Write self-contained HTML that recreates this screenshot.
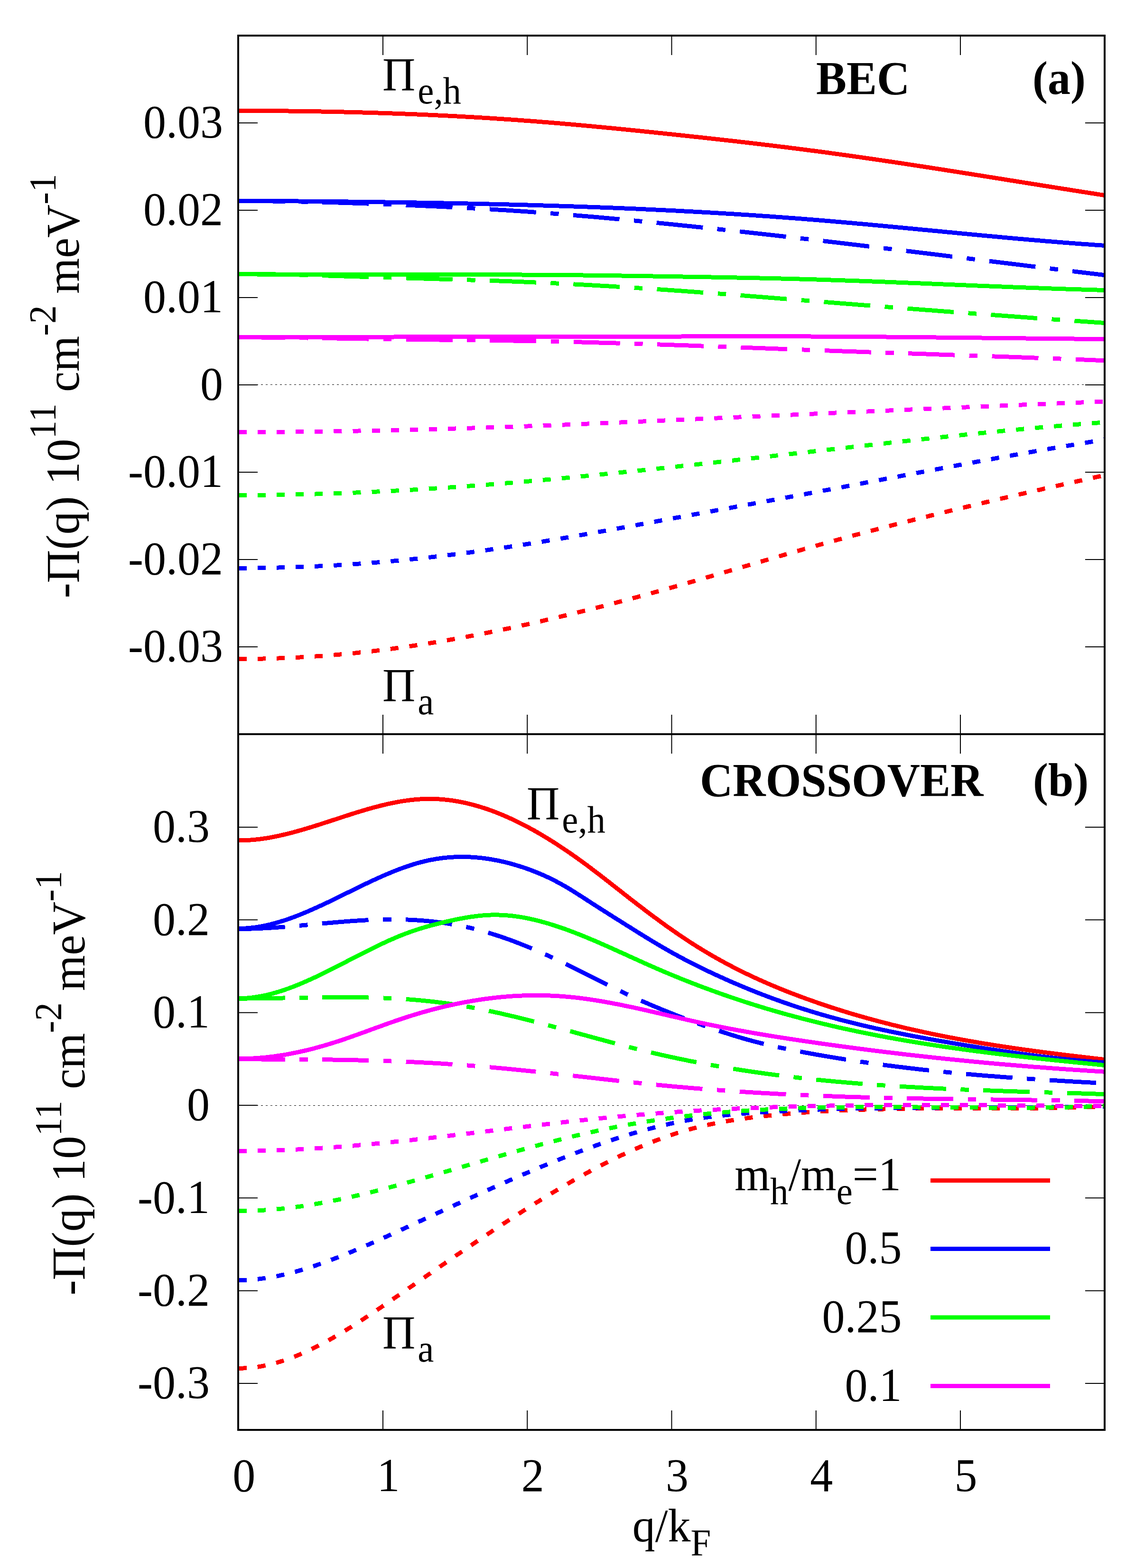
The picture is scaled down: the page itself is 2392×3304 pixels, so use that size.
<!DOCTYPE html>
<html><head><meta charset="utf-8"><style>
html,body{margin:0;padding:0;background:#fff;}
svg{display:block;}
</style></head><body>
<svg width="2392" height="3304" viewBox="0 0 2392 3304">
<rect width="2392" height="3304" fill="#ffffff"/>
<g fill="none" stroke-width="1" stroke="#000">
<path d="M504,810.5H2326M504,2329.5H2326" stroke-dasharray="4 6" stroke-dashoffset="-6"/>
</g>
<path d="M807.00,75V116M807.00,1547V1506M1111.25,75V116M1111.25,1547V1506M1415.50,75V116M1415.50,1547V1506M1719.75,75V116M1719.75,1547V1506M2024.00,75V116M2024.00,1547V1506M807.00,1547V1588M807.00,3013V2972M1111.25,1547V1588M1111.25,3013V2972M1415.50,1547V1588M1415.50,3013V2972M1719.75,1547V1588M1719.75,3013V2972M2024.00,1547V1588M2024.00,3013V2972M502,1363.00H543M2328,1363.00H2287M502,1179.00H543M2328,1179.00H2287M502,995.00H543M2328,995.00H2287M502,811.00H543M2328,811.00H2287M502,627.00H543M2328,627.00H2287M502,443.00H543M2328,443.00H2287M502,259.00H543M2328,259.00H2287M502,2915.00H543M2328,2915.00H2287M502,2719.67H543M2328,2719.67H2287M502,2524.33H543M2328,2524.33H2287M502,2329.00H543M2328,2329.00H2287M502,2133.67H543M2328,2133.67H2287M502,1938.33H543M2328,1938.33H2287M502,1743.00H543M2328,1743.00H2287" stroke-width="2" stroke="#000" fill="none"/>
<g fill="none" stroke-width="9" stroke-linecap="butt" stroke-linejoin="round" shape-rendering="crispEdges">
<path d="M502.8,233.4 505.8,233.4 508.8,233.4 511.8,233.4 514.8,233.4 517.8,233.4 520.8,233.4 523.8,233.4 526.8,233.4 529.8,233.4 532.8,233.4 535.8,233.5 538.8,233.5 541.8,233.5 544.8,233.5 547.8,233.5 550.8,233.5 553.8,233.5 556.8,233.5 559.8,233.6 562.8,233.6 565.8,233.6 568.8,233.6 571.8,233.6 574.8,233.7 577.8,233.7 580.8,233.7 583.8,233.7 586.8,233.8 589.8,233.8 592.8,233.8 595.8,233.8 598.8,233.9 601.8,233.9 604.8,233.9 607.8,234.0 610.8,234.0 613.8,234.0 616.8,234.1 619.8,234.1 622.8,234.1 625.8,234.2 628.8,234.2 631.8,234.3 634.8,234.3 637.8,234.3 640.8,234.4 643.8,234.4 646.8,234.5 649.8,234.5 652.8,234.6 655.8,234.6 658.8,234.7 661.8,234.7 664.8,234.8 667.8,234.8 670.8,234.9 673.8,234.9 676.8,235.0 679.8,235.0 682.8,235.1 685.8,235.1 688.8,235.2 691.8,235.2 694.8,235.3 697.8,235.4 700.8,235.4 703.8,235.5 706.8,235.6 709.8,235.6 712.8,235.7 715.8,235.8 718.8,235.8 721.8,235.9 724.8,236.0 727.8,236.0 730.8,236.1 733.8,236.2 736.8,236.3 739.8,236.3 742.8,236.4 745.8,236.5 748.8,236.6 751.8,236.6 754.8,236.7 757.8,236.8 760.8,236.9 763.8,237.0 766.8,237.1 769.8,237.1 772.8,237.2 775.8,237.3 778.8,237.4 781.8,237.5 784.8,237.6 787.8,237.7 790.8,237.8 793.8,237.9 796.8,238.0 799.8,238.1 802.8,238.2 805.8,238.3 808.8,238.4 811.8,238.5 814.8,238.6 817.8,238.7 820.8,238.8 823.8,238.9 826.8,239.0 829.8,239.1 832.8,239.2 835.8,239.3 838.8,239.4 841.8,239.5 844.8,239.6 847.8,239.8 850.8,239.9 853.8,240.0 856.8,240.1 859.8,240.2 862.8,240.3 865.8,240.5 868.8,240.6 871.8,240.7 874.8,240.8 877.8,240.9 880.8,241.1 883.8,241.2 886.8,241.3 889.8,241.5 892.8,241.6 895.8,241.7 898.8,241.9 901.8,242.0 904.8,242.1 907.8,242.3 910.8,242.4 913.8,242.5 916.8,242.7 919.8,242.8 922.8,243.0 925.8,243.1 928.8,243.3 931.8,243.4 934.8,243.5 937.8,243.7 940.8,243.8 943.8,244.0 946.8,244.2 949.8,244.3 952.8,244.5 955.8,244.6 958.8,244.8 961.8,244.9 964.8,245.1 967.8,245.3 970.8,245.4 973.8,245.6 976.8,245.7 979.8,245.9 982.8,246.1 985.8,246.2 988.8,246.4 991.8,246.6 994.8,246.8 997.8,246.9 1000.8,247.1 1003.8,247.3 1006.8,247.5 1009.8,247.6 1012.8,247.8 1015.8,248.0 1018.8,248.2 1021.8,248.4 1024.8,248.6 1027.8,248.7 1030.8,248.9 1033.8,249.1 1036.8,249.3 1039.8,249.5 1042.8,249.7 1045.8,249.9 1048.8,250.1 1051.8,250.3 1054.8,250.5 1057.8,250.7 1060.8,250.9 1063.8,251.1 1066.8,251.3 1069.8,251.5 1072.8,251.7 1075.8,251.9 1078.8,252.1 1081.8,252.3 1084.8,252.6 1087.8,252.8 1090.8,253.0 1093.8,253.2 1096.8,253.4 1099.8,253.6 1102.8,253.9 1105.8,254.1 1108.8,254.3 1111.8,254.5 1114.8,254.8 1117.8,255.0 1120.8,255.2 1123.8,255.5 1126.8,255.7 1129.8,255.9 1132.8,256.2 1135.8,256.4 1138.8,256.6 1141.8,256.9 1144.8,257.1 1147.8,257.4 1150.8,257.6 1153.8,257.8 1156.8,258.1 1159.8,258.3 1162.8,258.6 1165.8,258.8 1168.8,259.1 1171.8,259.3 1174.8,259.6 1177.8,259.8 1180.8,260.1 1183.8,260.4 1186.8,260.6 1189.8,260.9 1192.8,261.1 1195.8,261.4 1198.8,261.7 1201.8,261.9 1204.8,262.2 1207.8,262.5 1210.8,262.7 1213.8,263.0 1216.8,263.3 1219.8,263.5 1222.8,263.8 1225.8,264.1 1228.8,264.4 1231.8,264.6 1234.8,264.9 1237.8,265.2 1240.8,265.5 1243.8,265.7 1246.8,266.0 1249.8,266.3 1252.8,266.6 1255.8,266.9 1258.8,267.2 1261.8,267.4 1264.8,267.7 1267.8,268.0 1270.8,268.3 1273.8,268.6 1276.8,268.9 1279.8,269.2 1282.8,269.5 1285.8,269.7 1288.8,270.0 1291.8,270.3 1294.8,270.6 1297.8,270.9 1300.8,271.2 1303.8,271.5 1306.8,271.8 1309.8,272.1 1312.8,272.4 1315.8,272.7 1318.8,273.0 1321.8,273.3 1324.8,273.6 1327.8,273.9 1330.8,274.2 1333.8,274.5 1336.8,274.8 1339.8,275.1 1342.8,275.4 1345.8,275.7 1348.8,276.0 1351.8,276.3 1354.8,276.7 1357.8,277.0 1360.8,277.3 1363.8,277.6 1366.8,277.9 1369.8,278.2 1372.8,278.5 1375.8,278.8 1378.8,279.1 1381.8,279.5 1384.8,279.8 1387.8,280.1 1390.8,280.4 1393.8,280.7 1396.8,281.0 1399.8,281.3 1402.8,281.7 1405.8,282.0 1408.8,282.3 1411.8,282.6 1414.8,282.9 1417.8,283.2 1420.8,283.6 1423.8,283.9 1426.8,284.2 1429.8,284.5 1432.8,284.8 1435.8,285.2 1438.8,285.5 1441.8,285.8 1444.8,286.1 1447.8,286.4 1450.8,286.8 1453.8,287.1 1456.8,287.4 1459.8,287.7 1462.8,288.1 1465.8,288.4 1468.8,288.7 1471.8,289.0 1474.8,289.4 1477.8,289.7 1480.8,290.0 1483.8,290.3 1486.8,290.7 1489.8,291.0 1492.8,291.3 1495.8,291.7 1498.8,292.0 1501.8,292.3 1504.8,292.6 1507.8,293.0 1510.8,293.3 1513.8,293.6 1516.8,294.0 1519.8,294.3 1522.8,294.7 1525.8,295.0 1528.8,295.3 1531.8,295.7 1534.8,296.0 1537.8,296.3 1540.8,296.7 1543.8,297.0 1546.8,297.4 1549.8,297.7 1552.8,298.0 1555.8,298.4 1558.8,298.7 1561.8,299.1 1564.8,299.4 1567.8,299.8 1570.8,300.1 1573.8,300.5 1576.8,300.8 1579.8,301.2 1582.8,301.5 1585.8,301.9 1588.8,302.2 1591.8,302.6 1594.8,302.9 1597.8,303.3 1600.8,303.6 1603.8,304.0 1606.8,304.3 1609.8,304.7 1612.8,305.1 1615.8,305.4 1618.8,305.8 1621.8,306.1 1624.8,306.5 1627.8,306.9 1630.8,307.2 1633.8,307.6 1636.8,308.0 1639.8,308.3 1642.8,308.7 1645.8,309.1 1648.8,309.4 1651.8,309.8 1654.8,310.2 1657.8,310.6 1660.8,310.9 1663.8,311.3 1666.8,311.7 1669.8,312.1 1672.8,312.4 1675.8,312.8 1678.8,313.2 1681.8,313.6 1684.8,314.0 1687.8,314.3 1690.8,314.7 1693.8,315.1 1696.8,315.5 1699.8,315.9 1702.8,316.3 1705.8,316.7 1708.8,317.1 1711.8,317.4 1714.8,317.8 1717.8,318.2 1720.8,318.6 1723.8,319.0 1726.8,319.4 1729.8,319.8 1732.8,320.2 1735.8,320.6 1738.8,321.0 1741.8,321.4 1744.8,321.8 1747.8,322.2 1750.8,322.7 1753.8,323.1 1756.8,323.5 1759.8,323.9 1762.8,324.3 1765.8,324.7 1768.8,325.1 1771.8,325.5 1774.8,326.0 1777.8,326.4 1780.8,326.8 1783.8,327.2 1786.8,327.6 1789.8,328.0 1792.8,328.5 1795.8,328.9 1798.8,329.3 1801.8,329.7 1804.8,330.2 1807.8,330.6 1810.8,331.0 1813.8,331.4 1816.8,331.9 1819.8,332.3 1822.8,332.7 1825.8,333.2 1828.8,333.6 1831.8,334.0 1834.8,334.5 1837.8,334.9 1840.8,335.3 1843.8,335.8 1846.8,336.2 1849.8,336.7 1852.8,337.1 1855.8,337.5 1858.8,338.0 1861.8,338.4 1864.8,338.9 1867.8,339.3 1870.8,339.8 1873.8,340.2 1876.8,340.6 1879.8,341.1 1882.8,341.5 1885.8,342.0 1888.8,342.4 1891.8,342.9 1894.8,343.3 1897.8,343.8 1900.8,344.2 1903.8,344.7 1906.8,345.1 1909.8,345.6 1912.8,346.1 1915.8,346.5 1918.8,347.0 1921.8,347.4 1924.8,347.9 1927.8,348.3 1930.8,348.8 1933.8,349.3 1936.8,349.7 1939.8,350.2 1942.8,350.6 1945.8,351.1 1948.8,351.6 1951.8,352.0 1954.8,352.5 1957.8,352.9 1960.8,353.4 1963.8,353.9 1966.8,354.3 1969.8,354.8 1972.8,355.3 1975.8,355.7 1978.8,356.2 1981.8,356.7 1984.8,357.1 1987.8,357.6 1990.8,358.1 1993.8,358.5 1996.8,359.0 1999.8,359.5 2002.8,360.0 2005.8,360.4 2008.8,360.9 2011.8,361.4 2014.8,361.8 2017.8,362.3 2020.8,362.8 2023.8,363.3 2026.8,363.7 2029.8,364.2 2032.8,364.7 2035.8,365.2 2038.8,365.6 2041.8,366.1 2044.8,366.6 2047.8,367.1 2050.8,367.5 2053.8,368.0 2056.8,368.5 2059.8,369.0 2062.8,369.4 2065.8,369.9 2068.8,370.4 2071.8,370.9 2074.8,371.3 2077.8,371.8 2080.8,372.3 2083.8,372.8 2086.8,373.3 2089.8,373.7 2092.8,374.2 2095.8,374.7 2098.8,375.2 2101.8,375.7 2104.8,376.1 2107.8,376.6 2110.8,377.1 2113.8,377.6 2116.8,378.1 2119.8,378.5 2122.8,379.0 2125.8,379.5 2128.8,380.0 2131.8,380.5 2134.8,380.9 2137.8,381.4 2140.8,381.9 2143.8,382.4 2146.8,382.9 2149.8,383.3 2152.8,383.8 2155.8,384.3 2158.8,384.8 2161.8,385.3 2164.8,385.7 2167.8,386.2 2170.8,386.7 2173.8,387.2 2176.8,387.7 2179.8,388.1 2182.8,388.6 2185.8,389.1 2188.8,389.6 2191.8,390.0 2194.8,390.5 2197.8,391.0 2200.8,391.5 2203.8,392.0 2206.8,392.4 2209.8,392.9 2212.8,393.4 2215.8,393.9 2218.8,394.4 2221.8,394.8 2224.8,395.3 2227.8,395.8 2230.8,396.3 2233.8,396.7 2236.8,397.2 2239.8,397.7 2242.8,398.2 2245.8,398.6 2248.8,399.1 2251.8,399.6 2254.8,400.1 2257.8,400.5 2260.8,401.0 2263.8,401.5 2266.8,402.0 2269.8,402.4 2272.8,402.9 2275.8,403.4 2278.8,403.9 2281.8,404.3 2284.8,404.8 2287.8,405.3 2290.8,405.7 2293.8,406.2 2296.8,406.7 2299.8,407.2 2302.8,407.6 2305.8,408.1 2308.8,408.6 2311.8,409.0 2314.8,409.5 2317.8,410.0 2320.8,410.4 2323.8,410.9 2326.8,411.4 2328.2,411.6" stroke="#ff0000"/>
<path d="M502.8,1388.5 505.8,1388.5 508.8,1388.5 511.8,1388.5 514.8,1388.5 517.8,1388.5 520.8,1388.4 523.8,1388.4 526.8,1388.4 529.8,1388.3 532.8,1388.3 535.8,1388.3 538.8,1388.2 541.8,1388.2 544.8,1388.1 547.8,1388.1 550.8,1388.0 553.8,1388.0 556.8,1387.9 559.8,1387.8 562.8,1387.7 565.8,1387.7 568.8,1387.6 571.8,1387.5 574.8,1387.4 577.8,1387.3 580.8,1387.2 583.8,1387.1 586.8,1387.0 589.8,1386.9 592.8,1386.8 595.8,1386.7 598.8,1386.6 601.8,1386.5 604.8,1386.3 607.8,1386.2 610.8,1386.1 613.8,1385.9 616.8,1385.8 619.8,1385.6 622.8,1385.5 625.8,1385.3 628.8,1385.2 631.8,1385.0 634.8,1384.9 637.8,1384.7 640.8,1384.5 643.8,1384.4 646.8,1384.2 649.8,1384.0 652.8,1383.8 655.8,1383.6 658.8,1383.4 661.8,1383.2 664.8,1383.0 667.8,1382.8 670.8,1382.6 673.8,1382.4 676.8,1382.2 679.8,1382.0 682.8,1381.8 685.8,1381.5 688.8,1381.3 691.8,1381.1 694.8,1380.8 697.8,1380.6 700.8,1380.4 703.8,1380.1 706.8,1379.9 709.8,1379.6 712.8,1379.3 715.8,1379.1 718.8,1378.8 721.8,1378.6 724.8,1378.3 727.8,1378.0 730.8,1377.7 733.8,1377.4 736.8,1377.2 739.8,1376.9 742.8,1376.6 745.8,1376.3 748.8,1376.0 751.8,1375.7 754.8,1375.4 757.8,1375.0 760.8,1374.7 763.8,1374.4 766.8,1374.1 769.8,1373.8 772.8,1373.4 775.8,1373.1 778.8,1372.8 781.8,1372.4 784.8,1372.1 787.8,1371.7 790.8,1371.4 793.8,1371.0 796.8,1370.7 799.8,1370.3 802.8,1369.9 805.8,1369.6 808.8,1369.2 811.8,1368.8 814.8,1368.4 817.8,1368.0 820.8,1367.7 823.8,1367.3 826.8,1366.9 829.8,1366.5 832.8,1366.1 835.8,1365.7 838.8,1365.3 841.8,1364.8 844.8,1364.4 847.8,1364.0 850.8,1363.6 853.8,1363.2 856.8,1362.7 859.8,1362.3 862.8,1361.9 865.8,1361.4 868.8,1361.0 871.8,1360.5 874.8,1360.1 877.8,1359.6 880.8,1359.2 883.8,1358.7 886.8,1358.3 889.8,1357.8 892.8,1357.3 895.8,1356.9 898.8,1356.4 901.8,1355.9 904.8,1355.4 907.8,1354.9 910.8,1354.4 913.8,1354.0 916.8,1353.5 919.8,1353.0 922.8,1352.5 925.8,1352.0 928.8,1351.5 931.8,1351.0 934.8,1350.4 937.8,1349.9 940.8,1349.4 943.8,1348.9 946.8,1348.4 949.8,1347.8 952.8,1347.3 955.8,1346.8 958.8,1346.2 961.8,1345.7 964.8,1345.2 967.8,1344.6 970.8,1344.1 973.8,1343.5 976.8,1343.0 979.8,1342.4 982.8,1341.9 985.8,1341.3 988.8,1340.7 991.8,1340.2 994.8,1339.6 997.8,1339.0 1000.8,1338.4 1003.8,1337.9 1006.8,1337.3 1009.8,1336.7 1012.8,1336.1 1015.8,1335.5 1018.8,1334.9 1021.8,1334.3 1024.8,1333.8 1027.8,1333.2 1030.8,1332.6 1033.8,1331.9 1036.8,1331.3 1039.8,1330.7 1042.8,1330.1 1045.8,1329.5 1048.8,1328.9 1051.8,1328.3 1054.8,1327.6 1057.8,1327.0 1060.8,1326.4 1063.8,1325.8 1066.8,1325.1 1069.8,1324.5 1072.8,1323.9 1075.8,1323.2 1078.8,1322.6 1081.8,1321.9 1084.8,1321.3 1087.8,1320.7 1090.8,1320.0 1093.8,1319.4 1096.8,1318.7 1099.8,1318.0 1102.8,1317.4 1105.8,1316.7 1108.8,1316.1 1111.8,1315.4 1114.8,1314.7 1117.8,1314.1 1120.8,1313.4 1123.8,1312.7 1126.8,1312.0 1129.8,1311.3 1132.8,1310.7 1135.8,1310.0 1138.8,1309.3 1141.8,1308.6 1144.8,1307.9 1147.8,1307.2 1150.8,1306.5 1153.8,1305.8 1156.8,1305.1 1159.8,1304.4 1162.8,1303.7 1165.8,1303.0 1168.8,1302.3 1171.8,1301.6 1174.8,1300.9 1177.8,1300.2 1180.8,1299.5 1183.8,1298.8 1186.8,1298.0 1189.8,1297.3 1192.8,1296.6 1195.8,1295.9 1198.8,1295.1 1201.8,1294.4 1204.8,1293.7 1207.8,1293.0 1210.8,1292.2 1213.8,1291.5 1216.8,1290.7 1219.8,1290.0 1222.8,1289.3 1225.8,1288.5 1228.8,1287.8 1231.8,1287.0 1234.8,1286.3 1237.8,1285.5 1240.8,1284.8 1243.8,1284.0 1246.8,1283.3 1249.8,1282.5 1252.8,1281.7 1255.8,1281.0 1258.8,1280.2 1261.8,1279.4 1264.8,1278.7 1267.8,1277.9 1270.8,1277.1 1273.8,1276.4 1276.8,1275.6 1279.8,1274.8 1282.8,1274.0 1285.8,1273.3 1288.8,1272.5 1291.8,1271.7 1294.8,1270.9 1297.8,1270.1 1300.8,1269.3 1303.8,1268.5 1306.8,1267.7 1309.8,1267.0 1312.8,1266.2 1315.8,1265.4 1318.8,1264.6 1321.8,1263.8 1324.8,1263.0 1327.8,1262.2 1330.8,1261.4 1333.8,1260.5 1336.8,1259.7 1339.8,1258.9 1342.8,1258.1 1345.8,1257.3 1348.8,1256.5 1351.8,1255.7 1354.8,1254.9 1357.8,1254.0 1360.8,1253.2 1363.8,1252.4 1366.8,1251.6 1369.8,1250.8 1372.8,1249.9 1375.8,1249.1 1378.8,1248.3 1381.8,1247.4 1384.8,1246.6 1387.8,1245.8 1390.8,1244.9 1393.8,1244.1 1396.8,1243.3 1399.8,1242.4 1402.8,1241.6 1405.8,1240.7 1408.8,1239.9 1411.8,1239.1 1414.8,1238.2 1417.8,1237.4 1420.8,1236.5 1423.8,1235.7 1426.8,1234.8 1429.8,1234.0 1432.8,1233.1 1435.8,1232.3 1438.8,1231.4 1441.8,1230.5 1444.8,1229.7 1447.8,1228.8 1450.8,1228.0 1453.8,1227.1 1456.8,1226.2 1459.8,1225.4 1462.8,1224.5 1465.8,1223.6 1468.8,1222.8 1471.8,1221.9 1474.8,1221.0 1477.8,1220.2 1480.8,1219.3 1483.8,1218.4 1486.8,1217.6 1489.8,1216.7 1492.8,1215.8 1495.8,1215.0 1498.8,1214.1 1501.8,1213.2 1504.8,1212.3 1507.8,1211.5 1510.8,1210.6 1513.8,1209.7 1516.8,1208.8 1519.8,1208.0 1522.8,1207.1 1525.8,1206.2 1528.8,1205.3 1531.8,1204.4 1534.8,1203.6 1537.8,1202.7 1540.8,1201.8 1543.8,1200.9 1546.8,1200.1 1549.8,1199.2 1552.8,1198.3 1555.8,1197.4 1558.8,1196.5 1561.8,1195.7 1564.8,1194.8 1567.8,1193.9 1570.8,1193.0 1573.8,1192.1 1576.8,1191.3 1579.8,1190.4 1582.8,1189.5 1585.8,1188.6 1588.8,1187.7 1591.8,1186.9 1594.8,1186.0 1597.8,1185.1 1600.8,1184.2 1603.8,1183.4 1606.8,1182.5 1609.8,1181.6 1612.8,1180.7 1615.8,1179.9 1618.8,1179.0 1621.8,1178.1 1624.8,1177.2 1627.8,1176.4 1630.8,1175.5 1633.8,1174.6 1636.8,1173.7 1639.8,1172.9 1642.8,1172.0 1645.8,1171.1 1648.8,1170.3 1651.8,1169.4 1654.8,1168.5 1657.8,1167.7 1660.8,1166.8 1663.8,1165.9 1666.8,1165.1 1669.8,1164.2 1672.8,1163.3 1675.8,1162.5 1678.8,1161.6 1681.8,1160.8 1684.8,1159.9 1687.8,1159.1 1690.8,1158.2 1693.8,1157.3 1696.8,1156.5 1699.8,1155.6 1702.8,1154.8 1705.8,1153.9 1708.8,1153.1 1711.8,1152.2 1714.8,1151.4 1717.8,1150.6 1720.8,1149.7 1723.8,1148.9 1726.8,1148.0 1729.8,1147.2 1732.8,1146.4 1735.8,1145.5 1738.8,1144.7 1741.8,1143.9 1744.8,1143.0 1747.8,1142.2 1750.8,1141.4 1753.8,1140.6 1756.8,1139.7 1759.8,1138.9 1762.8,1138.1 1765.8,1137.3 1768.8,1136.4 1771.8,1135.6 1774.8,1134.8 1777.8,1134.0 1780.8,1133.2 1783.8,1132.4 1786.8,1131.6 1789.8,1130.7 1792.8,1129.9 1795.8,1129.1 1798.8,1128.3 1801.8,1127.5 1804.8,1126.7 1807.8,1125.9 1810.8,1125.1 1813.8,1124.3 1816.8,1123.5 1819.8,1122.7 1822.8,1121.9 1825.8,1121.1 1828.8,1120.3 1831.8,1119.5 1834.8,1118.7 1837.8,1118.0 1840.8,1117.2 1843.8,1116.4 1846.8,1115.6 1849.8,1114.8 1852.8,1114.0 1855.8,1113.2 1858.8,1112.5 1861.8,1111.7 1864.8,1110.9 1867.8,1110.1 1870.8,1109.3 1873.8,1108.6 1876.8,1107.8 1879.8,1107.0 1882.8,1106.3 1885.8,1105.5 1888.8,1104.7 1891.8,1103.9 1894.8,1103.2 1897.8,1102.4 1900.8,1101.6 1903.8,1100.9 1906.8,1100.1 1909.8,1099.4 1912.8,1098.6 1915.8,1097.8 1918.8,1097.1 1921.8,1096.3 1924.8,1095.6 1927.8,1094.8 1930.8,1094.1 1933.8,1093.3 1936.8,1092.5 1939.8,1091.8 1942.8,1091.0 1945.8,1090.3 1948.8,1089.5 1951.8,1088.8 1954.8,1088.1 1957.8,1087.3 1960.8,1086.6 1963.8,1085.8 1966.8,1085.1 1969.8,1084.3 1972.8,1083.6 1975.8,1082.9 1978.8,1082.1 1981.8,1081.4 1984.8,1080.6 1987.8,1079.9 1990.8,1079.2 1993.8,1078.4 1996.8,1077.7 1999.8,1077.0 2002.8,1076.2 2005.8,1075.5 2008.8,1074.8 2011.8,1074.1 2014.8,1073.3 2017.8,1072.6 2020.8,1071.9 2023.8,1071.2 2026.8,1070.4 2029.8,1069.7 2032.8,1069.0 2035.8,1068.3 2038.8,1067.6 2041.8,1066.8 2044.8,1066.1 2047.8,1065.4 2050.8,1064.7 2053.8,1064.0 2056.8,1063.3 2059.8,1062.5 2062.8,1061.8 2065.8,1061.1 2068.8,1060.4 2071.8,1059.7 2074.8,1059.0 2077.8,1058.3 2080.8,1057.6 2083.8,1056.9 2086.8,1056.1 2089.8,1055.4 2092.8,1054.7 2095.8,1054.0 2098.8,1053.3 2101.8,1052.6 2104.8,1051.9 2107.8,1051.2 2110.8,1050.5 2113.8,1049.8 2116.8,1049.1 2119.8,1048.4 2122.8,1047.7 2125.8,1047.0 2128.8,1046.3 2131.8,1045.6 2134.8,1044.9 2137.8,1044.2 2140.8,1043.6 2143.8,1042.9 2146.8,1042.2 2149.8,1041.5 2152.8,1040.8 2155.8,1040.1 2158.8,1039.4 2161.8,1038.7 2164.8,1038.0 2167.8,1037.3 2170.8,1036.6 2173.8,1036.0 2176.8,1035.3 2179.8,1034.6 2182.8,1033.9 2185.8,1033.2 2188.8,1032.5 2191.8,1031.9 2194.8,1031.2 2197.8,1030.5 2200.8,1029.8 2203.8,1029.1 2206.8,1028.4 2209.8,1027.8 2212.8,1027.1 2215.8,1026.4 2218.8,1025.7 2221.8,1025.1 2224.8,1024.4 2227.8,1023.7 2230.8,1023.0 2233.8,1022.4 2236.8,1021.7 2239.8,1021.0 2242.8,1020.3 2245.8,1019.7 2248.8,1019.0 2251.8,1018.3 2254.8,1017.6 2257.8,1017.0 2260.8,1016.3 2263.8,1015.6 2266.8,1015.0 2269.8,1014.3 2272.8,1013.6 2275.8,1012.9 2278.8,1012.3 2281.8,1011.6 2284.8,1010.9 2287.8,1010.3 2290.8,1009.6 2293.8,1008.9 2296.8,1008.3 2299.8,1007.6 2302.8,1006.9 2305.8,1006.3 2308.8,1005.6 2311.8,1004.9 2314.8,1004.3 2317.8,1003.6 2320.8,1003.0 2323.8,1002.3 2326.8,1001.6 2328.2,1001.3" stroke="#ff0000" stroke-dasharray="17 23.13"/>
<path d="M502.8,423.5 505.8,423.5 508.8,423.5 511.8,423.5 514.8,423.5 517.8,423.5 520.8,423.5 523.8,423.5 526.8,423.5 529.8,423.5 532.8,423.5 535.8,423.5 538.8,423.5 541.8,423.5 544.8,423.6 547.8,423.6 550.8,423.6 553.8,423.6 556.8,423.6 559.8,423.6 562.8,423.6 565.8,423.6 568.8,423.6 571.8,423.6 574.8,423.7 577.8,423.7 580.8,423.7 583.8,423.7 586.8,423.7 589.8,423.7 592.8,423.7 595.8,423.8 598.8,423.8 601.8,423.8 604.8,423.8 607.8,423.8 610.8,423.8 613.8,423.9 616.8,423.9 619.8,423.9 622.8,423.9 625.8,423.9 628.8,424.0 631.8,424.0 634.8,424.0 637.8,424.0 640.8,424.1 643.8,424.1 646.8,424.1 649.8,424.1 652.8,424.1 655.8,424.2 658.8,424.2 661.8,424.2 664.8,424.2 667.8,424.3 670.8,424.3 673.8,424.3 676.8,424.4 679.8,424.4 682.8,424.4 685.8,424.4 688.8,424.5 691.8,424.5 694.8,424.5 697.8,424.6 700.8,424.6 703.8,424.6 706.8,424.7 709.8,424.7 712.8,424.7 715.8,424.8 718.8,424.8 721.8,424.8 724.8,424.9 727.8,424.9 730.8,424.9 733.8,425.0 736.8,425.0 739.8,425.0 742.8,425.1 745.8,425.1 748.8,425.1 751.8,425.2 754.8,425.2 757.8,425.2 760.8,425.3 763.8,425.3 766.8,425.4 769.8,425.4 772.8,425.4 775.8,425.5 778.8,425.5 781.8,425.6 784.8,425.6 787.8,425.6 790.8,425.7 793.8,425.7 796.8,425.8 799.8,425.8 802.8,425.8 805.8,425.9 808.8,425.9 811.8,426.0 814.8,426.0 817.8,426.1 820.8,426.1 823.8,426.1 826.8,426.2 829.8,426.2 832.8,426.3 835.8,426.3 838.8,426.4 841.8,426.4 844.8,426.5 847.8,426.5 850.8,426.5 853.8,426.6 856.8,426.6 859.8,426.7 862.8,426.7 865.8,426.8 868.8,426.8 871.8,426.9 874.8,426.9 877.8,427.0 880.8,427.0 883.8,427.1 886.8,427.1 889.8,427.2 892.8,427.2 895.8,427.3 898.8,427.3 901.8,427.4 904.8,427.4 907.8,427.5 910.8,427.5 913.8,427.6 916.8,427.6 919.8,427.7 922.8,427.8 925.8,427.8 928.8,427.9 931.8,427.9 934.8,428.0 937.8,428.0 940.8,428.1 943.8,428.1 946.8,428.2 949.8,428.3 952.8,428.3 955.8,428.4 958.8,428.4 961.8,428.5 964.8,428.5 967.8,428.6 970.8,428.7 973.8,428.7 976.8,428.8 979.8,428.9 982.8,428.9 985.8,429.0 988.8,429.0 991.8,429.1 994.8,429.2 997.8,429.2 1000.8,429.3 1003.8,429.4 1006.8,429.4 1009.8,429.5 1012.8,429.6 1015.8,429.6 1018.8,429.7 1021.8,429.8 1024.8,429.8 1027.8,429.9 1030.8,430.0 1033.8,430.0 1036.8,430.1 1039.8,430.2 1042.8,430.2 1045.8,430.3 1048.8,430.4 1051.8,430.5 1054.8,430.5 1057.8,430.6 1060.8,430.7 1063.8,430.8 1066.8,430.8 1069.8,430.9 1072.8,431.0 1075.8,431.1 1078.8,431.1 1081.8,431.2 1084.8,431.3 1087.8,431.4 1090.8,431.4 1093.8,431.5 1096.8,431.6 1099.8,431.7 1102.8,431.8 1105.8,431.8 1108.8,431.9 1111.8,432.0 1114.8,432.1 1117.8,432.2 1120.8,432.3 1123.8,432.3 1126.8,432.4 1129.8,432.5 1132.8,432.6 1135.8,432.7 1138.8,432.8 1141.8,432.9 1144.8,433.0 1147.8,433.0 1150.8,433.1 1153.8,433.2 1156.8,433.3 1159.8,433.4 1162.8,433.5 1165.8,433.6 1168.8,433.7 1171.8,433.8 1174.8,433.9 1177.8,434.0 1180.8,434.1 1183.8,434.2 1186.8,434.3 1189.8,434.4 1192.8,434.5 1195.8,434.5 1198.8,434.6 1201.8,434.7 1204.8,434.8 1207.8,434.9 1210.8,435.1 1213.8,435.2 1216.8,435.3 1219.8,435.4 1222.8,435.5 1225.8,435.6 1228.8,435.7 1231.8,435.8 1234.8,435.9 1237.8,436.0 1240.8,436.1 1243.8,436.2 1246.8,436.3 1249.8,436.4 1252.8,436.5 1255.8,436.7 1258.8,436.8 1261.8,436.9 1264.8,437.0 1267.8,437.1 1270.8,437.2 1273.8,437.3 1276.8,437.4 1279.8,437.6 1282.8,437.7 1285.8,437.8 1288.8,437.9 1291.8,438.0 1294.8,438.2 1297.8,438.3 1300.8,438.4 1303.8,438.5 1306.8,438.6 1309.8,438.8 1312.8,438.9 1315.8,439.0 1318.8,439.1 1321.8,439.3 1324.8,439.4 1327.8,439.5 1330.8,439.7 1333.8,439.8 1336.8,439.9 1339.8,440.0 1342.8,440.2 1345.8,440.3 1348.8,440.4 1351.8,440.6 1354.8,440.7 1357.8,440.8 1360.8,441.0 1363.8,441.1 1366.8,441.3 1369.8,441.4 1372.8,441.5 1375.8,441.7 1378.8,441.8 1381.8,442.0 1384.8,442.1 1387.8,442.2 1390.8,442.4 1393.8,442.5 1396.8,442.7 1399.8,442.8 1402.8,443.0 1405.8,443.1 1408.8,443.3 1411.8,443.4 1414.8,443.6 1417.8,443.7 1420.8,443.9 1423.8,444.0 1426.8,444.2 1429.8,444.3 1432.8,444.5 1435.8,444.6 1438.8,444.8 1441.8,445.0 1444.8,445.1 1447.8,445.3 1450.8,445.4 1453.8,445.6 1456.8,445.8 1459.8,445.9 1462.8,446.1 1465.8,446.2 1468.8,446.4 1471.8,446.6 1474.8,446.7 1477.8,446.9 1480.8,447.1 1483.8,447.2 1486.8,447.4 1489.8,447.6 1492.8,447.8 1495.8,447.9 1498.8,448.1 1501.8,448.3 1504.8,448.5 1507.8,448.6 1510.8,448.8 1513.8,449.0 1516.8,449.2 1519.8,449.3 1522.8,449.5 1525.8,449.7 1528.8,449.9 1531.8,450.1 1534.8,450.3 1537.8,450.4 1540.8,450.6 1543.8,450.8 1546.8,451.0 1549.8,451.2 1552.8,451.4 1555.8,451.6 1558.8,451.8 1561.8,452.0 1564.8,452.2 1567.8,452.4 1570.8,452.5 1573.8,452.7 1576.8,452.9 1579.8,453.1 1582.8,453.3 1585.8,453.5 1588.8,453.7 1591.8,453.9 1594.8,454.1 1597.8,454.3 1600.8,454.6 1603.8,454.8 1606.8,455.0 1609.8,455.2 1612.8,455.4 1615.8,455.6 1618.8,455.8 1621.8,456.0 1624.8,456.2 1627.8,456.4 1630.8,456.7 1633.8,456.9 1636.8,457.1 1639.8,457.3 1642.8,457.5 1645.8,457.7 1648.8,458.0 1651.8,458.2 1654.8,458.4 1657.8,458.6 1660.8,458.9 1663.8,459.1 1666.8,459.3 1669.8,459.5 1672.8,459.8 1675.8,460.0 1678.8,460.2 1681.8,460.5 1684.8,460.7 1687.8,460.9 1690.8,461.2 1693.8,461.4 1696.8,461.6 1699.8,461.9 1702.8,462.1 1705.8,462.4 1708.8,462.6 1711.8,462.8 1714.8,463.1 1717.8,463.3 1720.8,463.6 1723.8,463.8 1726.8,464.1 1729.8,464.3 1732.8,464.6 1735.8,464.8 1738.8,465.1 1741.8,465.3 1744.8,465.6 1747.8,465.8 1750.8,466.1 1753.8,466.4 1756.8,466.6 1759.8,466.9 1762.8,467.1 1765.8,467.4 1768.8,467.7 1771.8,467.9 1774.8,468.2 1777.8,468.4 1780.8,468.7 1783.8,469.0 1786.8,469.2 1789.8,469.5 1792.8,469.8 1795.8,470.0 1798.8,470.3 1801.8,470.6 1804.8,470.9 1807.8,471.1 1810.8,471.4 1813.8,471.7 1816.8,471.9 1819.8,472.2 1822.8,472.5 1825.8,472.8 1828.8,473.0 1831.8,473.3 1834.8,473.6 1837.8,473.9 1840.8,474.2 1843.8,474.4 1846.8,474.7 1849.8,475.0 1852.8,475.3 1855.8,475.6 1858.8,475.8 1861.8,476.1 1864.8,476.4 1867.8,476.7 1870.8,477.0 1873.8,477.2 1876.8,477.5 1879.8,477.8 1882.8,478.1 1885.8,478.4 1888.8,478.7 1891.8,479.0 1894.8,479.2 1897.8,479.5 1900.8,479.8 1903.8,480.1 1906.8,480.4 1909.8,480.7 1912.8,481.0 1915.8,481.3 1918.8,481.5 1921.8,481.8 1924.8,482.1 1927.8,482.4 1930.8,482.7 1933.8,483.0 1936.8,483.3 1939.8,483.6 1942.8,483.9 1945.8,484.1 1948.8,484.4 1951.8,484.7 1954.8,485.0 1957.8,485.3 1960.8,485.6 1963.8,485.9 1966.8,486.2 1969.8,486.5 1972.8,486.8 1975.8,487.0 1978.8,487.3 1981.8,487.6 1984.8,487.9 1987.8,488.2 1990.8,488.5 1993.8,488.8 1996.8,489.1 1999.8,489.4 2002.8,489.7 2005.8,489.9 2008.8,490.2 2011.8,490.5 2014.8,490.8 2017.8,491.1 2020.8,491.4 2023.8,491.7 2026.8,492.0 2029.8,492.3 2032.8,492.5 2035.8,492.8 2038.8,493.1 2041.8,493.4 2044.8,493.7 2047.8,494.0 2050.8,494.3 2053.8,494.5 2056.8,494.8 2059.8,495.1 2062.8,495.4 2065.8,495.7 2068.8,496.0 2071.8,496.2 2074.8,496.5 2077.8,496.8 2080.8,497.1 2083.8,497.4 2086.8,497.6 2089.8,497.9 2092.8,498.2 2095.8,498.5 2098.8,498.8 2101.8,499.0 2104.8,499.3 2107.8,499.6 2110.8,499.9 2113.8,500.1 2116.8,500.4 2119.8,500.7 2122.8,501.0 2125.8,501.2 2128.8,501.5 2131.8,501.8 2134.8,502.1 2137.8,502.3 2140.8,502.6 2143.8,502.9 2146.8,503.1 2149.8,503.4 2152.8,503.7 2155.8,503.9 2158.8,504.2 2161.8,504.5 2164.8,504.7 2167.8,505.0 2170.8,505.2 2173.8,505.5 2176.8,505.8 2179.8,506.0 2182.8,506.3 2185.8,506.5 2188.8,506.8 2191.8,507.0 2194.8,507.3 2197.8,507.5 2200.8,507.8 2203.8,508.1 2206.8,508.3 2209.8,508.5 2212.8,508.8 2215.8,509.0 2218.8,509.3 2221.8,509.5 2224.8,509.8 2227.8,510.0 2230.8,510.3 2233.8,510.5 2236.8,510.7 2239.8,511.0 2242.8,511.2 2245.8,511.4 2248.8,511.7 2251.8,511.9 2254.8,512.1 2257.8,512.4 2260.8,512.6 2263.8,512.8 2266.8,513.1 2269.8,513.3 2272.8,513.5 2275.8,513.7 2278.8,514.0 2281.8,514.2 2284.8,514.4 2287.8,514.6 2290.8,514.8 2293.8,515.0 2296.8,515.3 2299.8,515.5 2302.8,515.7 2305.8,515.9 2308.8,516.1 2311.8,516.3 2314.8,516.5 2317.8,516.7 2320.8,516.9 2323.8,517.1 2326.8,517.3 2328.2,517.4" stroke="#0000ff"/>
<path d="M502.8,423.5 505.8,423.5 508.8,423.5 511.8,423.5 514.8,423.5 517.8,423.5 520.8,423.5 523.8,423.5 526.8,423.6 529.8,423.6 532.8,423.6 535.8,423.6 538.8,423.6 541.8,423.6 544.8,423.7 547.8,423.7 550.8,423.7 553.8,423.7 556.8,423.8 559.8,423.8 562.8,423.8 565.8,423.9 568.8,423.9 571.8,423.9 574.8,424.0 577.8,424.0 580.8,424.0 583.8,424.1 586.8,424.1 589.8,424.2 592.8,424.2 595.8,424.3 598.8,424.3 601.8,424.4 604.8,424.4 607.8,424.5 610.8,424.5 613.8,424.6 616.8,424.6 619.8,424.7 622.8,424.7 625.8,424.8 628.8,424.9 631.8,424.9 634.8,425.0 637.8,425.1 640.8,425.1 643.8,425.2 646.8,425.3 649.8,425.3 652.8,425.4 655.8,425.5 658.8,425.5 661.8,425.6 664.8,425.7 667.8,425.8 670.8,425.8 673.8,425.9 676.8,426.0 679.8,426.1 682.8,426.2 685.8,426.3 688.8,426.3 691.8,426.4 694.8,426.5 697.8,426.6 700.8,426.7 703.8,426.8 706.8,426.9 709.8,426.9 712.8,427.0 715.8,427.1 718.8,427.2 721.8,427.3 724.8,427.4 727.8,427.5 730.8,427.6 733.8,427.7 736.8,427.8 739.8,427.9 742.8,428.0 745.8,428.1 748.8,428.2 751.8,428.3 754.8,428.4 757.8,428.5 760.8,428.6 763.8,428.7 766.8,428.8 769.8,428.9 772.8,429.0 775.8,429.1 778.8,429.3 781.8,429.4 784.8,429.5 787.8,429.6 790.8,429.7 793.8,429.8 796.8,429.9 799.8,430.0 802.8,430.1 805.8,430.3 808.8,430.4 811.8,430.5 814.8,430.6 817.8,430.7 820.8,430.8 823.8,430.9 826.8,431.1 829.8,431.2 832.8,431.3 835.8,431.4 838.8,431.5 841.8,431.7 844.8,431.8 847.8,431.9 850.8,432.0 853.8,432.1 856.8,432.3 859.8,432.4 862.8,432.5 865.8,432.6 868.8,432.8 871.8,432.9 874.8,433.0 877.8,433.2 880.8,433.3 883.8,433.4 886.8,433.5 889.8,433.7 892.8,433.8 895.8,433.9 898.8,434.1 901.8,434.2 904.8,434.3 907.8,434.5 910.8,434.6 913.8,434.8 916.8,434.9 919.8,435.0 922.8,435.2 925.8,435.3 928.8,435.5 931.8,435.6 934.8,435.7 937.8,435.9 940.8,436.0 943.8,436.2 946.8,436.3 949.8,436.5 952.8,436.6 955.8,436.8 958.8,436.9 961.8,437.1 964.8,437.2 967.8,437.4 970.8,437.5 973.8,437.7 976.8,437.9 979.8,438.0 982.8,438.2 985.8,438.3 988.8,438.5 991.8,438.7 994.8,438.8 997.8,439.0 1000.8,439.1 1003.8,439.3 1006.8,439.5 1009.8,439.6 1012.8,439.8 1015.8,440.0 1018.8,440.2 1021.8,440.3 1024.8,440.5 1027.8,440.7 1030.8,440.8 1033.8,441.0 1036.8,441.2 1039.8,441.4 1042.8,441.6 1045.8,441.7 1048.8,441.9 1051.8,442.1 1054.8,442.3 1057.8,442.5 1060.8,442.7 1063.8,442.9 1066.8,443.0 1069.8,443.2 1072.8,443.4 1075.8,443.6 1078.8,443.8 1081.8,444.0 1084.8,444.2 1087.8,444.4 1090.8,444.6 1093.8,444.8 1096.8,445.0 1099.8,445.2 1102.8,445.4 1105.8,445.6 1108.8,445.8 1111.8,446.0 1114.8,446.2 1117.8,446.5 1120.8,446.7 1123.8,446.9 1126.8,447.1 1129.8,447.3 1132.8,447.5 1135.8,447.8 1138.8,448.0 1141.8,448.2 1144.8,448.4 1147.8,448.6 1150.8,448.9 1153.8,449.1 1156.8,449.3 1159.8,449.5 1162.8,449.8 1165.8,450.0 1168.8,450.2 1171.8,450.5 1174.8,450.7 1177.8,450.9 1180.8,451.2 1183.8,451.4 1186.8,451.7 1189.8,451.9 1192.8,452.1 1195.8,452.4 1198.8,452.6 1201.8,452.9 1204.8,453.1 1207.8,453.4 1210.8,453.6 1213.8,453.9 1216.8,454.1 1219.8,454.4 1222.8,454.6 1225.8,454.9 1228.8,455.1 1231.8,455.4 1234.8,455.6 1237.8,455.9 1240.8,456.2 1243.8,456.4 1246.8,456.7 1249.8,456.9 1252.8,457.2 1255.8,457.5 1258.8,457.7 1261.8,458.0 1264.8,458.3 1267.8,458.5 1270.8,458.8 1273.8,459.1 1276.8,459.3 1279.8,459.6 1282.8,459.9 1285.8,460.2 1288.8,460.4 1291.8,460.7 1294.8,461.0 1297.8,461.3 1300.8,461.5 1303.8,461.8 1306.8,462.1 1309.8,462.4 1312.8,462.7 1315.8,462.9 1318.8,463.2 1321.8,463.5 1324.8,463.8 1327.8,464.1 1330.8,464.4 1333.8,464.6 1336.8,464.9 1339.8,465.2 1342.8,465.5 1345.8,465.8 1348.8,466.1 1351.8,466.4 1354.8,466.7 1357.8,467.0 1360.8,467.2 1363.8,467.5 1366.8,467.8 1369.8,468.1 1372.8,468.4 1375.8,468.7 1378.8,469.0 1381.8,469.3 1384.8,469.6 1387.8,469.9 1390.8,470.2 1393.8,470.5 1396.8,470.8 1399.8,471.1 1402.8,471.4 1405.8,471.7 1408.8,472.0 1411.8,472.3 1414.8,472.6 1417.8,472.9 1420.8,473.2 1423.8,473.5 1426.8,473.8 1429.8,474.2 1432.8,474.5 1435.8,474.8 1438.8,475.1 1441.8,475.4 1444.8,475.7 1447.8,476.0 1450.8,476.3 1453.8,476.6 1456.8,476.9 1459.8,477.2 1462.8,477.6 1465.8,477.9 1468.8,478.2 1471.8,478.5 1474.8,478.8 1477.8,479.1 1480.8,479.4 1483.8,479.8 1486.8,480.1 1489.8,480.4 1492.8,480.7 1495.8,481.0 1498.8,481.3 1501.8,481.7 1504.8,482.0 1507.8,482.3 1510.8,482.6 1513.8,482.9 1516.8,483.3 1519.8,483.6 1522.8,483.9 1525.8,484.2 1528.8,484.5 1531.8,484.9 1534.8,485.2 1537.8,485.5 1540.8,485.8 1543.8,486.2 1546.8,486.5 1549.8,486.8 1552.8,487.1 1555.8,487.5 1558.8,487.8 1561.8,488.1 1564.8,488.5 1567.8,488.8 1570.8,489.1 1573.8,489.4 1576.8,489.8 1579.8,490.1 1582.8,490.4 1585.8,490.8 1588.8,491.1 1591.8,491.4 1594.8,491.8 1597.8,492.1 1600.8,492.4 1603.8,492.8 1606.8,493.1 1609.8,493.4 1612.8,493.8 1615.8,494.1 1618.8,494.4 1621.8,494.8 1624.8,495.1 1627.8,495.5 1630.8,495.8 1633.8,496.1 1636.8,496.5 1639.8,496.8 1642.8,497.2 1645.8,497.5 1648.8,497.8 1651.8,498.2 1654.8,498.5 1657.8,498.9 1660.8,499.2 1663.8,499.5 1666.8,499.9 1669.8,500.2 1672.8,500.6 1675.8,500.9 1678.8,501.3 1681.8,501.6 1684.8,501.9 1687.8,502.3 1690.8,502.6 1693.8,503.0 1696.8,503.3 1699.8,503.7 1702.8,504.0 1705.8,504.4 1708.8,504.7 1711.8,505.1 1714.8,505.4 1717.8,505.8 1720.8,506.1 1723.8,506.5 1726.8,506.8 1729.8,507.2 1732.8,507.5 1735.8,507.9 1738.8,508.2 1741.8,508.6 1744.8,508.9 1747.8,509.3 1750.8,509.6 1753.8,510.0 1756.8,510.3 1759.8,510.7 1762.8,511.0 1765.8,511.4 1768.8,511.8 1771.8,512.1 1774.8,512.5 1777.8,512.8 1780.8,513.2 1783.8,513.5 1786.8,513.9 1789.8,514.2 1792.8,514.6 1795.8,515.0 1798.8,515.3 1801.8,515.7 1804.8,516.0 1807.8,516.4 1810.8,516.7 1813.8,517.1 1816.8,517.5 1819.8,517.8 1822.8,518.2 1825.8,518.5 1828.8,518.9 1831.8,519.3 1834.8,519.6 1837.8,520.0 1840.8,520.3 1843.8,520.7 1846.8,521.1 1849.8,521.4 1852.8,521.8 1855.8,522.2 1858.8,522.5 1861.8,522.9 1864.8,523.2 1867.8,523.6 1870.8,524.0 1873.8,524.3 1876.8,524.7 1879.8,525.1 1882.8,525.4 1885.8,525.8 1888.8,526.2 1891.8,526.5 1894.8,526.9 1897.8,527.2 1900.8,527.6 1903.8,528.0 1906.8,528.3 1909.8,528.7 1912.8,529.1 1915.8,529.4 1918.8,529.8 1921.8,530.2 1924.8,530.5 1927.8,530.9 1930.8,531.3 1933.8,531.6 1936.8,532.0 1939.8,532.4 1942.8,532.7 1945.8,533.1 1948.8,533.5 1951.8,533.8 1954.8,534.2 1957.8,534.6 1960.8,534.9 1963.8,535.3 1966.8,535.7 1969.8,536.0 1972.8,536.4 1975.8,536.8 1978.8,537.1 1981.8,537.5 1984.8,537.9 1987.8,538.2 1990.8,538.6 1993.8,539.0 1996.8,539.4 1999.8,539.7 2002.8,540.1 2005.8,540.5 2008.8,540.8 2011.8,541.2 2014.8,541.6 2017.8,541.9 2020.8,542.3 2023.8,542.7 2026.8,543.0 2029.8,543.4 2032.8,543.8 2035.8,544.1 2038.8,544.5 2041.8,544.9 2044.8,545.3 2047.8,545.6 2050.8,546.0 2053.8,546.4 2056.8,546.7 2059.8,547.1 2062.8,547.5 2065.8,547.8 2068.8,548.2 2071.8,548.6 2074.8,548.9 2077.8,549.3 2080.8,549.7 2083.8,550.0 2086.8,550.4 2089.8,550.8 2092.8,551.2 2095.8,551.5 2098.8,551.9 2101.8,552.3 2104.8,552.6 2107.8,553.0 2110.8,553.4 2113.8,553.7 2116.8,554.1 2119.8,554.5 2122.8,554.8 2125.8,555.2 2128.8,555.6 2131.8,555.9 2134.8,556.3 2137.8,556.7 2140.8,557.0 2143.8,557.4 2146.8,557.8 2149.8,558.1 2152.8,558.5 2155.8,558.9 2158.8,559.2 2161.8,559.6 2164.8,560.0 2167.8,560.3 2170.8,560.7 2173.8,561.1 2176.8,561.4 2179.8,561.8 2182.8,562.2 2185.8,562.5 2188.8,562.9 2191.8,563.3 2194.8,563.6 2197.8,564.0 2200.8,564.4 2203.8,564.7 2206.8,565.1 2209.8,565.5 2212.8,565.8 2215.8,566.2 2218.8,566.6 2221.8,566.9 2224.8,567.3 2227.8,567.7 2230.8,568.0 2233.8,568.4 2236.8,568.7 2239.8,569.1 2242.8,569.5 2245.8,569.8 2248.8,570.2 2251.8,570.6 2254.8,570.9 2257.8,571.3 2260.8,571.6 2263.8,572.0 2266.8,572.4 2269.8,572.7 2272.8,573.1 2275.8,573.4 2278.8,573.8 2281.8,574.2 2284.8,574.5 2287.8,574.9 2290.8,575.2 2293.8,575.6 2296.8,576.0 2299.8,576.3 2302.8,576.7 2305.8,577.0 2308.8,577.4 2311.8,577.7 2314.8,578.1 2317.8,578.5 2320.8,578.8 2323.8,579.2 2326.8,579.5 2328.2,579.7" stroke="#0000ff" stroke-dasharray="98 30.5 17.5 30.5"/>
<path d="M502.8,1197.0 505.8,1197.0 508.8,1197.0 511.8,1197.0 514.8,1197.0 517.8,1197.0 520.8,1197.0 523.8,1196.9 526.8,1196.9 529.8,1196.9 532.8,1196.9 535.8,1196.8 538.8,1196.8 541.8,1196.8 544.8,1196.8 547.8,1196.7 550.8,1196.7 553.8,1196.6 556.8,1196.6 559.8,1196.5 562.8,1196.5 565.8,1196.4 568.8,1196.4 571.8,1196.3 574.8,1196.3 577.8,1196.2 580.8,1196.1 583.8,1196.1 586.8,1196.0 589.8,1195.9 592.8,1195.9 595.8,1195.8 598.8,1195.7 601.8,1195.6 604.8,1195.5 607.8,1195.4 610.8,1195.4 613.8,1195.3 616.8,1195.2 619.8,1195.1 622.8,1195.0 625.8,1194.9 628.8,1194.8 631.8,1194.7 634.8,1194.5 637.8,1194.4 640.8,1194.3 643.8,1194.2 646.8,1194.1 649.8,1194.0 652.8,1193.8 655.8,1193.7 658.8,1193.6 661.8,1193.4 664.8,1193.3 667.8,1193.2 670.8,1193.0 673.8,1192.9 676.8,1192.7 679.8,1192.6 682.8,1192.4 685.8,1192.3 688.8,1192.1 691.8,1192.0 694.8,1191.8 697.8,1191.7 700.8,1191.5 703.8,1191.3 706.8,1191.1 709.8,1191.0 712.8,1190.8 715.8,1190.6 718.8,1190.4 721.8,1190.3 724.8,1190.1 727.8,1189.9 730.8,1189.7 733.8,1189.5 736.8,1189.3 739.8,1189.1 742.8,1188.9 745.8,1188.7 748.8,1188.5 751.8,1188.3 754.8,1188.1 757.8,1187.9 760.8,1187.6 763.8,1187.4 766.8,1187.2 769.8,1187.0 772.8,1186.8 775.8,1186.5 778.8,1186.3 781.8,1186.1 784.8,1185.8 787.8,1185.6 790.8,1185.3 793.8,1185.1 796.8,1184.9 799.8,1184.6 802.8,1184.4 805.8,1184.1 808.8,1183.9 811.8,1183.6 814.8,1183.3 817.8,1183.1 820.8,1182.8 823.8,1182.5 826.8,1182.3 829.8,1182.0 832.8,1181.7 835.8,1181.4 838.8,1181.2 841.8,1180.9 844.8,1180.6 847.8,1180.3 850.8,1180.0 853.8,1179.7 856.8,1179.4 859.8,1179.1 862.8,1178.8 865.8,1178.5 868.8,1178.2 871.8,1177.9 874.8,1177.6 877.8,1177.3 880.8,1177.0 883.8,1176.7 886.8,1176.3 889.8,1176.0 892.8,1175.7 895.8,1175.4 898.8,1175.0 901.8,1174.7 904.8,1174.4 907.8,1174.0 910.8,1173.7 913.8,1173.4 916.8,1173.0 919.8,1172.7 922.8,1172.3 925.8,1172.0 928.8,1171.6 931.8,1171.3 934.8,1170.9 937.8,1170.6 940.8,1170.2 943.8,1169.8 946.8,1169.5 949.8,1169.1 952.8,1168.7 955.8,1168.4 958.8,1168.0 961.8,1167.6 964.8,1167.2 967.8,1166.9 970.8,1166.5 973.8,1166.1 976.8,1165.7 979.8,1165.3 982.8,1164.9 985.8,1164.6 988.8,1164.2 991.8,1163.8 994.8,1163.4 997.8,1163.0 1000.8,1162.6 1003.8,1162.2 1006.8,1161.8 1009.8,1161.3 1012.8,1160.9 1015.8,1160.5 1018.8,1160.1 1021.8,1159.7 1024.8,1159.3 1027.8,1158.9 1030.8,1158.4 1033.8,1158.0 1036.8,1157.6 1039.8,1157.2 1042.8,1156.7 1045.8,1156.3 1048.8,1155.9 1051.8,1155.4 1054.8,1155.0 1057.8,1154.5 1060.8,1154.1 1063.8,1153.7 1066.8,1153.2 1069.8,1152.8 1072.8,1152.3 1075.8,1151.9 1078.8,1151.4 1081.8,1151.0 1084.8,1150.5 1087.8,1150.1 1090.8,1149.6 1093.8,1149.1 1096.8,1148.7 1099.8,1148.2 1102.8,1147.7 1105.8,1147.3 1108.8,1146.8 1111.8,1146.3 1114.8,1145.8 1117.8,1145.4 1120.8,1144.9 1123.8,1144.4 1126.8,1143.9 1129.8,1143.4 1132.8,1143.0 1135.8,1142.5 1138.8,1142.0 1141.8,1141.5 1144.8,1141.0 1147.8,1140.5 1150.8,1140.0 1153.8,1139.5 1156.8,1139.0 1159.8,1138.5 1162.8,1138.0 1165.8,1137.5 1168.8,1137.0 1171.8,1136.5 1174.8,1136.0 1177.8,1135.5 1180.8,1135.0 1183.8,1134.5 1186.8,1134.0 1189.8,1133.5 1192.8,1133.0 1195.8,1132.4 1198.8,1131.9 1201.8,1131.4 1204.8,1130.9 1207.8,1130.4 1210.8,1129.8 1213.8,1129.3 1216.8,1128.8 1219.8,1128.3 1222.8,1127.8 1225.8,1127.2 1228.8,1126.7 1231.8,1126.2 1234.8,1125.6 1237.8,1125.1 1240.8,1124.6 1243.8,1124.1 1246.8,1123.5 1249.8,1123.0 1252.8,1122.5 1255.8,1121.9 1258.8,1121.4 1261.8,1120.8 1264.8,1120.3 1267.8,1119.8 1270.8,1119.2 1273.8,1118.7 1276.8,1118.1 1279.8,1117.6 1282.8,1117.1 1285.8,1116.5 1288.8,1116.0 1291.8,1115.4 1294.8,1114.9 1297.8,1114.3 1300.8,1113.8 1303.8,1113.2 1306.8,1112.7 1309.8,1112.2 1312.8,1111.6 1315.8,1111.1 1318.8,1110.5 1321.8,1110.0 1324.8,1109.4 1327.8,1108.9 1330.8,1108.3 1333.8,1107.8 1336.8,1107.2 1339.8,1106.7 1342.8,1106.1 1345.8,1105.6 1348.8,1105.0 1351.8,1104.5 1354.8,1103.9 1357.8,1103.3 1360.8,1102.8 1363.8,1102.2 1366.8,1101.7 1369.8,1101.1 1372.8,1100.6 1375.8,1100.0 1378.8,1099.5 1381.8,1098.9 1384.8,1098.4 1387.8,1097.8 1390.8,1097.3 1393.8,1096.7 1396.8,1096.2 1399.8,1095.6 1402.8,1095.0 1405.8,1094.5 1408.8,1093.9 1411.8,1093.4 1414.8,1092.8 1417.8,1092.3 1420.8,1091.7 1423.8,1091.2 1426.8,1090.6 1429.8,1090.1 1432.8,1089.5 1435.8,1089.0 1438.8,1088.4 1441.8,1087.9 1444.8,1087.3 1447.8,1086.8 1450.8,1086.2 1453.8,1085.7 1456.8,1085.1 1459.8,1084.6 1462.8,1084.0 1465.8,1083.5 1468.8,1082.9 1471.8,1082.4 1474.8,1081.8 1477.8,1081.3 1480.8,1080.7 1483.8,1080.2 1486.8,1079.6 1489.8,1079.1 1492.8,1078.5 1495.8,1078.0 1498.8,1077.4 1501.8,1076.9 1504.8,1076.3 1507.8,1075.8 1510.8,1075.2 1513.8,1074.7 1516.8,1074.2 1519.8,1073.6 1522.8,1073.1 1525.8,1072.5 1528.8,1072.0 1531.8,1071.4 1534.8,1070.9 1537.8,1070.3 1540.8,1069.8 1543.8,1069.2 1546.8,1068.7 1549.8,1068.1 1552.8,1067.6 1555.8,1067.0 1558.8,1066.5 1561.8,1065.9 1564.8,1065.4 1567.8,1064.8 1570.8,1064.3 1573.8,1063.7 1576.8,1063.2 1579.8,1062.6 1582.8,1062.1 1585.8,1061.5 1588.8,1061.0 1591.8,1060.4 1594.8,1059.9 1597.8,1059.3 1600.8,1058.8 1603.8,1058.2 1606.8,1057.7 1609.8,1057.1 1612.8,1056.6 1615.8,1056.0 1618.8,1055.5 1621.8,1054.9 1624.8,1054.4 1627.8,1053.8 1630.8,1053.3 1633.8,1052.7 1636.8,1052.2 1639.8,1051.6 1642.8,1051.1 1645.8,1050.5 1648.8,1050.0 1651.8,1049.4 1654.8,1048.9 1657.8,1048.3 1660.8,1047.8 1663.8,1047.2 1666.8,1046.6 1669.8,1046.1 1672.8,1045.5 1675.8,1045.0 1678.8,1044.4 1681.8,1043.9 1684.8,1043.3 1687.8,1042.8 1690.8,1042.2 1693.8,1041.6 1696.8,1041.1 1699.8,1040.5 1702.8,1040.0 1705.8,1039.4 1708.8,1038.9 1711.8,1038.3 1714.8,1037.7 1717.8,1037.2 1720.8,1036.6 1723.8,1036.1 1726.8,1035.5 1729.8,1034.9 1732.8,1034.4 1735.8,1033.8 1738.8,1033.2 1741.8,1032.7 1744.8,1032.1 1747.8,1031.6 1750.8,1031.0 1753.8,1030.4 1756.8,1029.9 1759.8,1029.3 1762.8,1028.7 1765.8,1028.2 1768.8,1027.6 1771.8,1027.0 1774.8,1026.5 1777.8,1025.9 1780.8,1025.3 1783.8,1024.8 1786.8,1024.2 1789.8,1023.6 1792.8,1023.1 1795.8,1022.5 1798.8,1021.9 1801.8,1021.4 1804.8,1020.8 1807.8,1020.2 1810.8,1019.7 1813.8,1019.1 1816.8,1018.5 1819.8,1018.0 1822.8,1017.4 1825.8,1016.8 1828.8,1016.2 1831.8,1015.7 1834.8,1015.1 1837.8,1014.5 1840.8,1014.0 1843.8,1013.4 1846.8,1012.8 1849.8,1012.3 1852.8,1011.7 1855.8,1011.1 1858.8,1010.6 1861.8,1010.0 1864.8,1009.4 1867.8,1008.8 1870.8,1008.3 1873.8,1007.7 1876.8,1007.1 1879.8,1006.6 1882.8,1006.0 1885.8,1005.4 1888.8,1004.9 1891.8,1004.3 1894.8,1003.7 1897.8,1003.2 1900.8,1002.6 1903.8,1002.0 1906.8,1001.4 1909.8,1000.9 1912.8,1000.3 1915.8,999.7 1918.8,999.2 1921.8,998.6 1924.8,998.0 1927.8,997.5 1930.8,996.9 1933.8,996.3 1936.8,995.8 1939.8,995.2 1942.8,994.6 1945.8,994.1 1948.8,993.5 1951.8,992.9 1954.8,992.4 1957.8,991.8 1960.8,991.2 1963.8,990.7 1966.8,990.1 1969.8,989.5 1972.8,989.0 1975.8,988.4 1978.8,987.9 1981.8,987.3 1984.8,986.7 1987.8,986.2 1990.8,985.6 1993.8,985.0 1996.8,984.5 1999.8,983.9 2002.8,983.4 2005.8,982.8 2008.8,982.2 2011.8,981.7 2014.8,981.1 2017.8,980.6 2020.8,980.0 2023.8,979.4 2026.8,978.9 2029.8,978.3 2032.8,977.8 2035.8,977.2 2038.8,976.7 2041.8,976.1 2044.8,975.6 2047.8,975.0 2050.8,974.4 2053.8,973.9 2056.8,973.3 2059.8,972.8 2062.8,972.2 2065.8,971.7 2068.8,971.1 2071.8,970.6 2074.8,970.0 2077.8,969.5 2080.8,968.9 2083.8,968.4 2086.8,967.8 2089.8,967.3 2092.8,966.8 2095.8,966.2 2098.8,965.7 2101.8,965.1 2104.8,964.6 2107.8,964.0 2110.8,963.5 2113.8,962.9 2116.8,962.4 2119.8,961.9 2122.8,961.3 2125.8,960.8 2128.8,960.3 2131.8,959.7 2134.8,959.2 2137.8,958.6 2140.8,958.1 2143.8,957.6 2146.8,957.0 2149.8,956.5 2152.8,956.0 2155.8,955.4 2158.8,954.9 2161.8,954.4 2164.8,953.9 2167.8,953.3 2170.8,952.8 2173.8,952.3 2176.8,951.8 2179.8,951.2 2182.8,950.7 2185.8,950.2 2188.8,949.7 2191.8,949.1 2194.8,948.6 2197.8,948.1 2200.8,947.6 2203.8,947.1 2206.8,946.5 2209.8,946.0 2212.8,945.5 2215.8,945.0 2218.8,944.5 2221.8,944.0 2224.8,943.5 2227.8,943.0 2230.8,942.4 2233.8,941.9 2236.8,941.4 2239.8,940.9 2242.8,940.4 2245.8,939.9 2248.8,939.4 2251.8,938.9 2254.8,938.4 2257.8,937.9 2260.8,937.4 2263.8,936.9 2266.8,936.4 2269.8,935.9 2272.8,935.4 2275.8,934.9 2278.8,934.4 2281.8,934.0 2284.8,933.5 2287.8,933.0 2290.8,932.5 2293.8,932.0 2296.8,931.5 2299.8,931.0 2302.8,930.6 2305.8,930.1 2308.8,929.6 2311.8,929.1 2314.8,928.6 2317.8,928.2 2320.8,927.7 2323.8,927.2 2326.8,926.7 2328.2,926.5" stroke="#0000ff" stroke-dasharray="17 23.13"/>
<path d="M502.8,577.8 505.8,577.8 508.8,577.8 511.8,577.8 514.8,577.8 517.8,577.8 520.8,577.8 523.8,577.8 526.8,577.8 529.8,577.8 532.8,577.8 535.8,577.8 538.8,577.8 541.8,577.8 544.8,577.8 547.8,577.9 550.8,577.9 553.8,577.9 556.8,577.9 559.8,577.9 562.8,577.9 565.8,577.9 568.8,577.9 571.8,577.9 574.8,577.9 577.8,577.9 580.8,578.0 583.8,578.0 586.8,578.0 589.8,578.0 592.8,578.0 595.8,578.0 598.8,578.0 601.8,578.0 604.8,578.0 607.8,578.1 610.8,578.1 613.8,578.1 616.8,578.1 619.8,578.1 622.8,578.1 625.8,578.1 628.8,578.2 631.8,578.2 634.8,578.2 637.8,578.2 640.8,578.2 643.8,578.2 646.8,578.2 649.8,578.3 652.8,578.3 655.8,578.3 658.8,578.3 661.8,578.3 664.8,578.3 667.8,578.3 670.8,578.4 673.8,578.4 676.8,578.4 679.8,578.4 682.8,578.4 685.8,578.4 688.8,578.5 691.8,578.5 694.8,578.5 697.8,578.5 700.8,578.5 703.8,578.5 706.8,578.5 709.8,578.6 712.8,578.6 715.8,578.6 718.8,578.6 721.8,578.6 724.8,578.6 727.8,578.6 730.8,578.7 733.8,578.7 736.8,578.7 739.8,578.7 742.8,578.7 745.8,578.7 748.8,578.7 751.8,578.7 754.8,578.7 757.8,578.8 760.8,578.8 763.8,578.8 766.8,578.8 769.8,578.8 772.8,578.8 775.8,578.8 778.8,578.8 781.8,578.8 784.8,578.8 787.8,578.9 790.8,578.9 793.8,578.9 796.8,578.9 799.8,578.9 802.8,578.9 805.8,578.9 808.8,578.9 811.8,578.9 814.8,578.9 817.8,578.9 820.8,578.9 823.8,578.9 826.8,578.9 829.8,578.9 832.8,578.9 835.8,578.9 838.8,578.9 841.8,578.9 844.8,578.9 847.8,578.9 850.8,578.9 853.8,578.9 856.8,578.9 859.8,578.9 862.8,578.9 865.8,578.9 868.8,578.9 871.8,578.9 874.8,578.9 877.8,578.9 880.8,578.9 883.8,578.9 886.8,578.9 889.8,578.9 892.8,578.9 895.8,578.9 898.8,578.9 901.8,578.9 904.8,578.9 907.8,578.9 910.8,578.9 913.8,578.9 916.8,578.9 919.8,578.9 922.8,578.9 925.8,578.9 928.8,578.9 931.8,578.9 934.8,578.9 937.8,578.9 940.8,578.9 943.8,578.9 946.8,578.9 949.8,578.9 952.8,578.8 955.8,578.8 958.8,578.8 961.8,578.8 964.8,578.8 967.8,578.8 970.8,578.8 973.8,578.8 976.8,578.8 979.8,578.8 982.8,578.8 985.8,578.8 988.8,578.8 991.8,578.8 994.8,578.8 997.8,578.8 1000.8,578.8 1003.8,578.8 1006.8,578.8 1009.8,578.8 1012.8,578.8 1015.8,578.8 1018.8,578.8 1021.8,578.8 1024.8,578.8 1027.8,578.8 1030.8,578.8 1033.8,578.8 1036.8,578.8 1039.8,578.8 1042.8,578.8 1045.8,578.8 1048.8,578.8 1051.8,578.8 1054.8,578.8 1057.8,578.8 1060.8,578.8 1063.8,578.8 1066.8,578.9 1069.8,578.9 1072.8,578.9 1075.8,578.9 1078.8,578.9 1081.8,578.9 1084.8,578.9 1087.8,578.9 1090.8,578.9 1093.8,578.9 1096.8,578.9 1099.8,579.0 1102.8,579.0 1105.8,579.0 1108.8,579.0 1111.8,579.0 1114.8,579.0 1117.8,579.0 1120.8,579.0 1123.8,579.1 1126.8,579.1 1129.8,579.1 1132.8,579.1 1135.8,579.1 1138.8,579.2 1141.8,579.2 1144.8,579.2 1147.8,579.2 1150.8,579.2 1153.8,579.3 1156.8,579.3 1159.8,579.3 1162.8,579.3 1165.8,579.3 1168.8,579.4 1171.8,579.4 1174.8,579.4 1177.8,579.4 1180.8,579.5 1183.8,579.5 1186.8,579.5 1189.8,579.6 1192.8,579.6 1195.8,579.6 1198.8,579.6 1201.8,579.7 1204.8,579.7 1207.8,579.7 1210.8,579.8 1213.8,579.8 1216.8,579.8 1219.8,579.9 1222.8,579.9 1225.8,579.9 1228.8,580.0 1231.8,580.0 1234.8,580.0 1237.8,580.1 1240.8,580.1 1243.8,580.1 1246.8,580.2 1249.8,580.2 1252.8,580.2 1255.8,580.3 1258.8,580.3 1261.8,580.3 1264.8,580.4 1267.8,580.4 1270.8,580.5 1273.8,580.5 1276.8,580.5 1279.8,580.6 1282.8,580.6 1285.8,580.7 1288.8,580.7 1291.8,580.7 1294.8,580.8 1297.8,580.8 1300.8,580.9 1303.8,580.9 1306.8,580.9 1309.8,581.0 1312.8,581.0 1315.8,581.1 1318.8,581.1 1321.8,581.2 1324.8,581.2 1327.8,581.2 1330.8,581.3 1333.8,581.3 1336.8,581.4 1339.8,581.4 1342.8,581.5 1345.8,581.5 1348.8,581.6 1351.8,581.6 1354.8,581.6 1357.8,581.7 1360.8,581.7 1363.8,581.8 1366.8,581.8 1369.8,581.9 1372.8,581.9 1375.8,582.0 1378.8,582.0 1381.8,582.1 1384.8,582.1 1387.8,582.2 1390.8,582.2 1393.8,582.3 1396.8,582.3 1399.8,582.3 1402.8,582.4 1405.8,582.4 1408.8,582.5 1411.8,582.5 1414.8,582.6 1417.8,582.6 1420.8,582.7 1423.8,582.7 1426.8,582.8 1429.8,582.8 1432.8,582.9 1435.8,582.9 1438.8,583.0 1441.8,583.0 1444.8,583.1 1447.8,583.1 1450.8,583.2 1453.8,583.2 1456.8,583.3 1459.8,583.3 1462.8,583.4 1465.8,583.4 1468.8,583.5 1471.8,583.5 1474.8,583.6 1477.8,583.6 1480.8,583.7 1483.8,583.7 1486.8,583.8 1489.8,583.8 1492.8,583.9 1495.8,583.9 1498.8,584.0 1501.8,584.0 1504.8,584.1 1507.8,584.1 1510.8,584.2 1513.8,584.3 1516.8,584.3 1519.8,584.4 1522.8,584.4 1525.8,584.5 1528.8,584.5 1531.8,584.6 1534.8,584.6 1537.8,584.7 1540.8,584.8 1543.8,584.8 1546.8,584.9 1549.8,584.9 1552.8,585.0 1555.8,585.0 1558.8,585.1 1561.8,585.2 1564.8,585.2 1567.8,585.3 1570.8,585.3 1573.8,585.4 1576.8,585.5 1579.8,585.5 1582.8,585.6 1585.8,585.6 1588.8,585.7 1591.8,585.8 1594.8,585.8 1597.8,585.9 1600.8,586.0 1603.8,586.0 1606.8,586.1 1609.8,586.2 1612.8,586.2 1615.8,586.3 1618.8,586.4 1621.8,586.4 1624.8,586.5 1627.8,586.6 1630.8,586.6 1633.8,586.7 1636.8,586.8 1639.8,586.9 1642.8,586.9 1645.8,587.0 1648.8,587.1 1651.8,587.2 1654.8,587.2 1657.8,587.3 1660.8,587.4 1663.8,587.5 1666.8,587.5 1669.8,587.6 1672.8,587.7 1675.8,587.8 1678.8,587.8 1681.8,587.9 1684.8,588.0 1687.8,588.1 1690.8,588.2 1693.8,588.3 1696.8,588.3 1699.8,588.4 1702.8,588.5 1705.8,588.6 1708.8,588.7 1711.8,588.8 1714.8,588.9 1717.8,588.9 1720.8,589.0 1723.8,589.1 1726.8,589.2 1729.8,589.3 1732.8,589.4 1735.8,589.5 1738.8,589.6 1741.8,589.7 1744.8,589.8 1747.8,589.9 1750.8,590.0 1753.8,590.1 1756.8,590.2 1759.8,590.3 1762.8,590.4 1765.8,590.5 1768.8,590.6 1771.8,590.7 1774.8,590.8 1777.8,590.9 1780.8,591.0 1783.8,591.1 1786.8,591.2 1789.8,591.3 1792.8,591.4 1795.8,591.5 1798.8,591.6 1801.8,591.7 1804.8,591.8 1807.8,591.9 1810.8,592.0 1813.8,592.1 1816.8,592.2 1819.8,592.3 1822.8,592.5 1825.8,592.6 1828.8,592.7 1831.8,592.8 1834.8,592.9 1837.8,593.0 1840.8,593.1 1843.8,593.2 1846.8,593.3 1849.8,593.5 1852.8,593.6 1855.8,593.7 1858.8,593.8 1861.8,593.9 1864.8,594.0 1867.8,594.2 1870.8,594.3 1873.8,594.4 1876.8,594.5 1879.8,594.6 1882.8,594.7 1885.8,594.9 1888.8,595.0 1891.8,595.1 1894.8,595.2 1897.8,595.3 1900.8,595.5 1903.8,595.6 1906.8,595.7 1909.8,595.8 1912.8,595.9 1915.8,596.1 1918.8,596.2 1921.8,596.3 1924.8,596.4 1927.8,596.5 1930.8,596.7 1933.8,596.8 1936.8,596.9 1939.8,597.0 1942.8,597.1 1945.8,597.3 1948.8,597.4 1951.8,597.5 1954.8,597.6 1957.8,597.8 1960.8,597.9 1963.8,598.0 1966.8,598.1 1969.8,598.3 1972.8,598.4 1975.8,598.5 1978.8,598.6 1981.8,598.8 1984.8,598.9 1987.8,599.0 1990.8,599.1 1993.8,599.2 1996.8,599.4 1999.8,599.5 2002.8,599.6 2005.8,599.7 2008.8,599.9 2011.8,600.0 2014.8,600.1 2017.8,600.2 2020.8,600.4 2023.8,600.5 2026.8,600.6 2029.8,600.7 2032.8,600.9 2035.8,601.0 2038.8,601.1 2041.8,601.2 2044.8,601.4 2047.8,601.5 2050.8,601.6 2053.8,601.7 2056.8,601.8 2059.8,602.0 2062.8,602.1 2065.8,602.2 2068.8,602.3 2071.8,602.5 2074.8,602.6 2077.8,602.7 2080.8,602.8 2083.8,602.9 2086.8,603.1 2089.8,603.2 2092.8,603.3 2095.8,603.4 2098.8,603.5 2101.8,603.7 2104.8,603.8 2107.8,603.9 2110.8,604.0 2113.8,604.1 2116.8,604.3 2119.8,604.4 2122.8,604.5 2125.8,604.6 2128.8,604.7 2131.8,604.9 2134.8,605.0 2137.8,605.1 2140.8,605.2 2143.8,605.3 2146.8,605.4 2149.8,605.5 2152.8,605.7 2155.8,605.8 2158.8,605.9 2161.8,606.0 2164.8,606.1 2167.8,606.2 2170.8,606.3 2173.8,606.5 2176.8,606.6 2179.8,606.7 2182.8,606.8 2185.8,606.9 2188.8,607.0 2191.8,607.1 2194.8,607.2 2197.8,607.3 2200.8,607.4 2203.8,607.5 2206.8,607.6 2209.8,607.8 2212.8,607.9 2215.8,608.0 2218.8,608.1 2221.8,608.2 2224.8,608.3 2227.8,608.4 2230.8,608.5 2233.8,608.6 2236.8,608.7 2239.8,608.8 2242.8,608.9 2245.8,609.0 2248.8,609.1 2251.8,609.2 2254.8,609.3 2257.8,609.4 2260.8,609.5 2263.8,609.5 2266.8,609.6 2269.8,609.7 2272.8,609.8 2275.8,609.9 2278.8,610.0 2281.8,610.1 2284.8,610.2 2287.8,610.3 2290.8,610.4 2293.8,610.5 2296.8,610.5 2299.8,610.6 2302.8,610.7 2305.8,610.8 2308.8,610.9 2311.8,611.0 2314.8,611.0 2317.8,611.1 2320.8,611.2 2323.8,611.3 2326.8,611.4 2328.2,611.4" stroke="#00ff00"/>
<path d="M502.8,577.8 505.8,577.8 508.8,577.8 511.8,577.8 514.8,577.8 517.8,577.8 520.8,577.8 523.8,577.9 526.8,577.9 529.8,577.9 532.8,577.9 535.8,577.9 538.8,577.9 541.8,578.0 544.8,578.0 547.8,578.0 550.8,578.1 553.8,578.1 556.8,578.1 559.8,578.2 562.8,578.2 565.8,578.2 568.8,578.3 571.8,578.3 574.8,578.4 577.8,578.4 580.8,578.4 583.8,578.5 586.8,578.5 589.8,578.6 592.8,578.6 595.8,578.7 598.8,578.8 601.8,578.8 604.8,578.9 607.8,578.9 610.8,579.0 613.8,579.0 616.8,579.1 619.8,579.2 622.8,579.2 625.8,579.3 628.8,579.4 631.8,579.4 634.8,579.5 637.8,579.6 640.8,579.7 643.8,579.7 646.8,579.8 649.8,579.9 652.8,579.9 655.8,580.0 658.8,580.1 661.8,580.2 664.8,580.3 667.8,580.3 670.8,580.4 673.8,580.5 676.8,580.6 679.8,580.7 682.8,580.7 685.8,580.8 688.8,580.9 691.8,581.0 694.8,581.1 697.8,581.2 700.8,581.3 703.8,581.3 706.8,581.4 709.8,581.5 712.8,581.6 715.8,581.7 718.8,581.8 721.8,581.9 724.8,582.0 727.8,582.1 730.8,582.2 733.8,582.2 736.8,582.3 739.8,582.4 742.8,582.5 745.8,582.6 748.8,582.7 751.8,582.8 754.8,582.9 757.8,583.0 760.8,583.1 763.8,583.2 766.8,583.3 769.8,583.4 772.8,583.4 775.8,583.5 778.8,583.6 781.8,583.7 784.8,583.8 787.8,583.9 790.8,584.0 793.8,584.1 796.8,584.2 799.8,584.3 802.8,584.4 805.8,584.5 808.8,584.6 811.8,584.6 814.8,584.7 817.8,584.8 820.8,584.9 823.8,585.0 826.8,585.1 829.8,585.2 832.8,585.3 835.8,585.4 838.8,585.4 841.8,585.5 844.8,585.6 847.8,585.7 850.8,585.8 853.8,585.9 856.8,586.0 859.8,586.1 862.8,586.1 865.8,586.2 868.8,586.3 871.8,586.4 874.8,586.5 877.8,586.6 880.8,586.7 883.8,586.7 886.8,586.8 889.8,586.9 892.8,587.0 895.8,587.1 898.8,587.2 901.8,587.3 904.8,587.4 907.8,587.4 910.8,587.5 913.8,587.6 916.8,587.7 919.8,587.8 922.8,587.9 925.8,588.0 928.8,588.1 931.8,588.1 934.8,588.2 937.8,588.3 940.8,588.4 943.8,588.5 946.8,588.6 949.8,588.7 952.8,588.8 955.8,588.9 958.8,589.0 961.8,589.0 964.8,589.1 967.8,589.2 970.8,589.3 973.8,589.4 976.8,589.5 979.8,589.6 982.8,589.7 985.8,589.8 988.8,589.9 991.8,590.0 994.8,590.1 997.8,590.2 1000.8,590.3 1003.8,590.4 1006.8,590.5 1009.8,590.6 1012.8,590.7 1015.8,590.8 1018.8,590.9 1021.8,591.0 1024.8,591.1 1027.8,591.2 1030.8,591.3 1033.8,591.4 1036.8,591.5 1039.8,591.6 1042.8,591.7 1045.8,591.8 1048.8,591.9 1051.8,592.0 1054.8,592.1 1057.8,592.2 1060.8,592.3 1063.8,592.4 1066.8,592.5 1069.8,592.7 1072.8,592.8 1075.8,592.9 1078.8,593.0 1081.8,593.1 1084.8,593.2 1087.8,593.3 1090.8,593.5 1093.8,593.6 1096.8,593.7 1099.8,593.8 1102.8,593.9 1105.8,594.1 1108.8,594.2 1111.8,594.3 1114.8,594.4 1117.8,594.6 1120.8,594.7 1123.8,594.8 1126.8,595.0 1129.8,595.1 1132.8,595.2 1135.8,595.4 1138.8,595.5 1141.8,595.6 1144.8,595.8 1147.8,595.9 1150.8,596.0 1153.8,596.2 1156.8,596.3 1159.8,596.5 1162.8,596.6 1165.8,596.7 1168.8,596.9 1171.8,597.0 1174.8,597.2 1177.8,597.3 1180.8,597.5 1183.8,597.6 1186.8,597.8 1189.8,597.9 1192.8,598.1 1195.8,598.2 1198.8,598.4 1201.8,598.5 1204.8,598.7 1207.8,598.8 1210.8,599.0 1213.8,599.1 1216.8,599.3 1219.8,599.5 1222.8,599.6 1225.8,599.8 1228.8,599.9 1231.8,600.1 1234.8,600.3 1237.8,600.4 1240.8,600.6 1243.8,600.8 1246.8,600.9 1249.8,601.1 1252.8,601.3 1255.8,601.4 1258.8,601.6 1261.8,601.8 1264.8,602.0 1267.8,602.1 1270.8,602.3 1273.8,602.5 1276.8,602.7 1279.8,602.8 1282.8,603.0 1285.8,603.2 1288.8,603.4 1291.8,603.5 1294.8,603.7 1297.8,603.9 1300.8,604.1 1303.8,604.3 1306.8,604.4 1309.8,604.6 1312.8,604.8 1315.8,605.0 1318.8,605.2 1321.8,605.4 1324.8,605.6 1327.8,605.8 1330.8,605.9 1333.8,606.1 1336.8,606.3 1339.8,606.5 1342.8,606.7 1345.8,606.9 1348.8,607.1 1351.8,607.3 1354.8,607.5 1357.8,607.7 1360.8,607.9 1363.8,608.1 1366.8,608.3 1369.8,608.5 1372.8,608.7 1375.8,608.9 1378.8,609.1 1381.8,609.3 1384.8,609.5 1387.8,609.7 1390.8,609.9 1393.8,610.1 1396.8,610.3 1399.8,610.5 1402.8,610.7 1405.8,610.9 1408.8,611.1 1411.8,611.3 1414.8,611.5 1417.8,611.8 1420.8,612.0 1423.8,612.2 1426.8,612.4 1429.8,612.6 1432.8,612.8 1435.8,613.0 1438.8,613.2 1441.8,613.5 1444.8,613.7 1447.8,613.9 1450.8,614.1 1453.8,614.3 1456.8,614.5 1459.8,614.8 1462.8,615.0 1465.8,615.2 1468.8,615.4 1471.8,615.6 1474.8,615.9 1477.8,616.1 1480.8,616.3 1483.8,616.5 1486.8,616.8 1489.8,617.0 1492.8,617.2 1495.8,617.4 1498.8,617.7 1501.8,617.9 1504.8,618.1 1507.8,618.3 1510.8,618.6 1513.8,618.8 1516.8,619.0 1519.8,619.2 1522.8,619.5 1525.8,619.7 1528.8,619.9 1531.8,620.2 1534.8,620.4 1537.8,620.6 1540.8,620.9 1543.8,621.1 1546.8,621.3 1549.8,621.5 1552.8,621.8 1555.8,622.0 1558.8,622.2 1561.8,622.5 1564.8,622.7 1567.8,622.9 1570.8,623.2 1573.8,623.4 1576.8,623.6 1579.8,623.9 1582.8,624.1 1585.8,624.4 1588.8,624.6 1591.8,624.8 1594.8,625.1 1597.8,625.3 1600.8,625.5 1603.8,625.8 1606.8,626.0 1609.8,626.2 1612.8,626.5 1615.8,626.7 1618.8,627.0 1621.8,627.2 1624.8,627.4 1627.8,627.7 1630.8,627.9 1633.8,628.1 1636.8,628.4 1639.8,628.6 1642.8,628.9 1645.8,629.1 1648.8,629.3 1651.8,629.6 1654.8,629.8 1657.8,630.1 1660.8,630.3 1663.8,630.5 1666.8,630.8 1669.8,631.0 1672.8,631.3 1675.8,631.5 1678.8,631.7 1681.8,632.0 1684.8,632.2 1687.8,632.5 1690.8,632.7 1693.8,632.9 1696.8,633.2 1699.8,633.4 1702.8,633.6 1705.8,633.9 1708.8,634.1 1711.8,634.4 1714.8,634.6 1717.8,634.8 1720.8,635.1 1723.8,635.3 1726.8,635.6 1729.8,635.8 1732.8,636.0 1735.8,636.3 1738.8,636.5 1741.8,636.7 1744.8,637.0 1747.8,637.2 1750.8,637.5 1753.8,637.7 1756.8,637.9 1759.8,638.2 1762.8,638.4 1765.8,638.6 1768.8,638.9 1771.8,639.1 1774.8,639.4 1777.8,639.6 1780.8,639.8 1783.8,640.1 1786.8,640.3 1789.8,640.5 1792.8,640.8 1795.8,641.0 1798.8,641.3 1801.8,641.5 1804.8,641.7 1807.8,642.0 1810.8,642.2 1813.8,642.4 1816.8,642.7 1819.8,642.9 1822.8,643.1 1825.8,643.4 1828.8,643.6 1831.8,643.8 1834.8,644.1 1837.8,644.3 1840.8,644.5 1843.8,644.8 1846.8,645.0 1849.8,645.2 1852.8,645.5 1855.8,645.7 1858.8,645.9 1861.8,646.2 1864.8,646.4 1867.8,646.6 1870.8,646.9 1873.8,647.1 1876.8,647.3 1879.8,647.6 1882.8,647.8 1885.8,648.0 1888.8,648.3 1891.8,648.5 1894.8,648.7 1897.8,649.0 1900.8,649.2 1903.8,649.4 1906.8,649.7 1909.8,649.9 1912.8,650.1 1915.8,650.4 1918.8,650.6 1921.8,650.8 1924.8,651.1 1927.8,651.3 1930.8,651.5 1933.8,651.7 1936.8,652.0 1939.8,652.2 1942.8,652.4 1945.8,652.7 1948.8,652.9 1951.8,653.1 1954.8,653.4 1957.8,653.6 1960.8,653.8 1963.8,654.0 1966.8,654.3 1969.8,654.5 1972.8,654.7 1975.8,655.0 1978.8,655.2 1981.8,655.4 1984.8,655.6 1987.8,655.9 1990.8,656.1 1993.8,656.3 1996.8,656.5 1999.8,656.8 2002.8,657.0 2005.8,657.2 2008.8,657.5 2011.8,657.7 2014.8,657.9 2017.8,658.1 2020.8,658.4 2023.8,658.6 2026.8,658.8 2029.8,659.0 2032.8,659.3 2035.8,659.5 2038.8,659.7 2041.8,659.9 2044.8,660.2 2047.8,660.4 2050.8,660.6 2053.8,660.8 2056.8,661.1 2059.8,661.3 2062.8,661.5 2065.8,661.7 2068.8,661.9 2071.8,662.2 2074.8,662.4 2077.8,662.6 2080.8,662.8 2083.8,663.1 2086.8,663.3 2089.8,663.5 2092.8,663.7 2095.8,663.9 2098.8,664.2 2101.8,664.4 2104.8,664.6 2107.8,664.8 2110.8,665.0 2113.8,665.3 2116.8,665.5 2119.8,665.7 2122.8,665.9 2125.8,666.1 2128.8,666.4 2131.8,666.6 2134.8,666.8 2137.8,667.0 2140.8,667.2 2143.8,667.5 2146.8,667.7 2149.8,667.9 2152.8,668.1 2155.8,668.3 2158.8,668.6 2161.8,668.8 2164.8,669.0 2167.8,669.2 2170.8,669.4 2173.8,669.6 2176.8,669.9 2179.8,670.1 2182.8,670.3 2185.8,670.5 2188.8,670.7 2191.8,670.9 2194.8,671.1 2197.8,671.4 2200.8,671.6 2203.8,671.8 2206.8,672.0 2209.8,672.2 2212.8,672.4 2215.8,672.6 2218.8,672.9 2221.8,673.1 2224.8,673.3 2227.8,673.5 2230.8,673.7 2233.8,673.9 2236.8,674.1 2239.8,674.3 2242.8,674.6 2245.8,674.8 2248.8,675.0 2251.8,675.2 2254.8,675.4 2257.8,675.6 2260.8,675.8 2263.8,676.0 2266.8,676.2 2269.8,676.5 2272.8,676.7 2275.8,676.9 2278.8,677.1 2281.8,677.3 2284.8,677.5 2287.8,677.7 2290.8,677.9 2293.8,678.1 2296.8,678.3 2299.8,678.5 2302.8,678.7 2305.8,679.0 2308.8,679.2 2311.8,679.4 2314.8,679.6 2317.8,679.8 2320.8,680.0 2323.8,680.2 2326.8,680.4 2328.2,680.5" stroke="#00ff00" stroke-dasharray="98 30.5 17.5 30.5"/>
<path d="M502.8,1043.3 505.8,1043.3 508.8,1043.3 511.8,1043.3 514.8,1043.3 517.8,1043.3 520.8,1043.3 523.8,1043.3 526.8,1043.2 529.8,1043.2 532.8,1043.2 535.8,1043.2 538.8,1043.2 541.8,1043.2 544.8,1043.1 547.8,1043.1 550.8,1043.1 553.8,1043.1 556.8,1043.0 559.8,1043.0 562.8,1043.0 565.8,1042.9 568.8,1042.9 571.8,1042.9 574.8,1042.8 577.8,1042.8 580.8,1042.7 583.8,1042.7 586.8,1042.7 589.8,1042.6 592.8,1042.6 595.8,1042.5 598.8,1042.5 601.8,1042.4 604.8,1042.4 607.8,1042.3 610.8,1042.3 613.8,1042.2 616.8,1042.1 619.8,1042.1 622.8,1042.0 625.8,1041.9 628.8,1041.9 631.8,1041.8 634.8,1041.7 637.8,1041.7 640.8,1041.6 643.8,1041.5 646.8,1041.5 649.8,1041.4 652.8,1041.3 655.8,1041.2 658.8,1041.1 661.8,1041.1 664.8,1041.0 667.8,1040.9 670.8,1040.8 673.8,1040.7 676.8,1040.6 679.8,1040.5 682.8,1040.4 685.8,1040.3 688.8,1040.3 691.8,1040.2 694.8,1040.1 697.8,1040.0 700.8,1039.9 703.8,1039.8 706.8,1039.7 709.8,1039.5 712.8,1039.4 715.8,1039.3 718.8,1039.2 721.8,1039.1 724.8,1039.0 727.8,1038.9 730.8,1038.8 733.8,1038.7 736.8,1038.5 739.8,1038.4 742.8,1038.3 745.8,1038.2 748.8,1038.1 751.8,1037.9 754.8,1037.8 757.8,1037.7 760.8,1037.5 763.8,1037.4 766.8,1037.3 769.8,1037.2 772.8,1037.0 775.8,1036.9 778.8,1036.7 781.8,1036.6 784.8,1036.5 787.8,1036.3 790.8,1036.2 793.8,1036.0 796.8,1035.9 799.8,1035.8 802.8,1035.6 805.8,1035.5 808.8,1035.3 811.8,1035.2 814.8,1035.0 817.8,1034.9 820.8,1034.7 823.8,1034.5 826.8,1034.4 829.8,1034.2 832.8,1034.1 835.8,1033.9 838.8,1033.7 841.8,1033.6 844.8,1033.4 847.8,1033.3 850.8,1033.1 853.8,1032.9 856.8,1032.7 859.8,1032.6 862.8,1032.4 865.8,1032.2 868.8,1032.1 871.8,1031.9 874.8,1031.7 877.8,1031.5 880.8,1031.3 883.8,1031.2 886.8,1031.0 889.8,1030.8 892.8,1030.6 895.8,1030.4 898.8,1030.2 901.8,1030.1 904.8,1029.9 907.8,1029.7 910.8,1029.5 913.8,1029.3 916.8,1029.1 919.8,1028.9 922.8,1028.7 925.8,1028.5 928.8,1028.3 931.8,1028.1 934.8,1027.9 937.8,1027.7 940.8,1027.5 943.8,1027.3 946.8,1027.1 949.8,1026.9 952.8,1026.7 955.8,1026.5 958.8,1026.3 961.8,1026.1 964.8,1025.9 967.8,1025.6 970.8,1025.4 973.8,1025.2 976.8,1025.0 979.8,1024.8 982.8,1024.6 985.8,1024.3 988.8,1024.1 991.8,1023.9 994.8,1023.7 997.8,1023.5 1000.8,1023.2 1003.8,1023.0 1006.8,1022.8 1009.8,1022.6 1012.8,1022.3 1015.8,1022.1 1018.8,1021.9 1021.8,1021.6 1024.8,1021.4 1027.8,1021.2 1030.8,1020.9 1033.8,1020.7 1036.8,1020.5 1039.8,1020.2 1042.8,1020.0 1045.8,1019.8 1048.8,1019.5 1051.8,1019.3 1054.8,1019.0 1057.8,1018.8 1060.8,1018.5 1063.8,1018.3 1066.8,1018.1 1069.8,1017.8 1072.8,1017.6 1075.8,1017.3 1078.8,1017.1 1081.8,1016.8 1084.8,1016.6 1087.8,1016.3 1090.8,1016.1 1093.8,1015.8 1096.8,1015.5 1099.8,1015.3 1102.8,1015.0 1105.8,1014.8 1108.8,1014.5 1111.8,1014.3 1114.8,1014.0 1117.8,1013.7 1120.8,1013.5 1123.8,1013.2 1126.8,1012.9 1129.8,1012.7 1132.8,1012.4 1135.8,1012.1 1138.8,1011.9 1141.8,1011.6 1144.8,1011.3 1147.8,1011.1 1150.8,1010.8 1153.8,1010.5 1156.8,1010.3 1159.8,1010.0 1162.8,1009.7 1165.8,1009.4 1168.8,1009.2 1171.8,1008.9 1174.8,1008.6 1177.8,1008.3 1180.8,1008.0 1183.8,1007.8 1186.8,1007.5 1189.8,1007.2 1192.8,1006.9 1195.8,1006.6 1198.8,1006.4 1201.8,1006.1 1204.8,1005.8 1207.8,1005.5 1210.8,1005.2 1213.8,1004.9 1216.8,1004.6 1219.8,1004.4 1222.8,1004.1 1225.8,1003.8 1228.8,1003.5 1231.8,1003.2 1234.8,1002.9 1237.8,1002.6 1240.8,1002.3 1243.8,1002.0 1246.8,1001.7 1249.8,1001.4 1252.8,1001.1 1255.8,1000.8 1258.8,1000.5 1261.8,1000.2 1264.8,999.9 1267.8,999.6 1270.8,999.3 1273.8,999.0 1276.8,998.7 1279.8,998.4 1282.8,998.1 1285.8,997.8 1288.8,997.5 1291.8,997.2 1294.8,996.9 1297.8,996.6 1300.8,996.3 1303.8,996.0 1306.8,995.7 1309.8,995.4 1312.8,995.1 1315.8,994.8 1318.8,994.5 1321.8,994.2 1324.8,993.9 1327.8,993.6 1330.8,993.2 1333.8,992.9 1336.8,992.6 1339.8,992.3 1342.8,992.0 1345.8,991.7 1348.8,991.4 1351.8,991.1 1354.8,990.7 1357.8,990.4 1360.8,990.1 1363.8,989.8 1366.8,989.5 1369.8,989.2 1372.8,988.9 1375.8,988.5 1378.8,988.2 1381.8,987.9 1384.8,987.6 1387.8,987.3 1390.8,986.9 1393.8,986.6 1396.8,986.3 1399.8,986.0 1402.8,985.7 1405.8,985.3 1408.8,985.0 1411.8,984.7 1414.8,984.4 1417.8,984.1 1420.8,983.7 1423.8,983.4 1426.8,983.1 1429.8,982.8 1432.8,982.4 1435.8,982.1 1438.8,981.8 1441.8,981.5 1444.8,981.1 1447.8,980.8 1450.8,980.5 1453.8,980.2 1456.8,979.8 1459.8,979.5 1462.8,979.2 1465.8,978.9 1468.8,978.5 1471.8,978.2 1474.8,977.9 1477.8,977.6 1480.8,977.2 1483.8,976.9 1486.8,976.6 1489.8,976.2 1492.8,975.9 1495.8,975.6 1498.8,975.3 1501.8,974.9 1504.8,974.6 1507.8,974.3 1510.8,973.9 1513.8,973.6 1516.8,973.3 1519.8,972.9 1522.8,972.6 1525.8,972.3 1528.8,971.9 1531.8,971.6 1534.8,971.3 1537.8,970.9 1540.8,970.6 1543.8,970.3 1546.8,970.0 1549.8,969.6 1552.8,969.3 1555.8,968.9 1558.8,968.6 1561.8,968.3 1564.8,967.9 1567.8,967.6 1570.8,967.3 1573.8,966.9 1576.8,966.6 1579.8,966.3 1582.8,965.9 1585.8,965.6 1588.8,965.3 1591.8,964.9 1594.8,964.6 1597.8,964.3 1600.8,963.9 1603.8,963.6 1606.8,963.3 1609.8,962.9 1612.8,962.6 1615.8,962.2 1618.8,961.9 1621.8,961.6 1624.8,961.2 1627.8,960.9 1630.8,960.6 1633.8,960.2 1636.8,959.9 1639.8,959.5 1642.8,959.2 1645.8,958.9 1648.8,958.5 1651.8,958.2 1654.8,957.8 1657.8,957.5 1660.8,957.2 1663.8,956.8 1666.8,956.5 1669.8,956.2 1672.8,955.8 1675.8,955.5 1678.8,955.1 1681.8,954.8 1684.8,954.5 1687.8,954.1 1690.8,953.8 1693.8,953.4 1696.8,953.1 1699.8,952.8 1702.8,952.4 1705.8,952.1 1708.8,951.7 1711.8,951.4 1714.8,951.1 1717.8,950.7 1720.8,950.4 1723.8,950.0 1726.8,949.7 1729.8,949.4 1732.8,949.0 1735.8,948.7 1738.8,948.3 1741.8,948.0 1744.8,947.7 1747.8,947.3 1750.8,947.0 1753.8,946.6 1756.8,946.3 1759.8,946.0 1762.8,945.6 1765.8,945.3 1768.8,945.0 1771.8,944.6 1774.8,944.3 1777.8,943.9 1780.8,943.6 1783.8,943.3 1786.8,942.9 1789.8,942.6 1792.8,942.2 1795.8,941.9 1798.8,941.6 1801.8,941.2 1804.8,940.9 1807.8,940.5 1810.8,940.2 1813.8,939.9 1816.8,939.5 1819.8,939.2 1822.8,938.9 1825.8,938.5 1828.8,938.2 1831.8,937.8 1834.8,937.5 1837.8,937.2 1840.8,936.8 1843.8,936.5 1846.8,936.2 1849.8,935.8 1852.8,935.5 1855.8,935.2 1858.8,934.8 1861.8,934.5 1864.8,934.2 1867.8,933.8 1870.8,933.5 1873.8,933.2 1876.8,932.8 1879.8,932.5 1882.8,932.2 1885.8,931.8 1888.8,931.5 1891.8,931.2 1894.8,930.8 1897.8,930.5 1900.8,930.2 1903.8,929.8 1906.8,929.5 1909.8,929.2 1912.8,928.9 1915.8,928.5 1918.8,928.2 1921.8,927.9 1924.8,927.6 1927.8,927.2 1930.8,926.9 1933.8,926.6 1936.8,926.2 1939.8,925.9 1942.8,925.6 1945.8,925.3 1948.8,924.9 1951.8,924.6 1954.8,924.3 1957.8,924.0 1960.8,923.7 1963.8,923.3 1966.8,923.0 1969.8,922.7 1972.8,922.4 1975.8,922.1 1978.8,921.7 1981.8,921.4 1984.8,921.1 1987.8,920.8 1990.8,920.5 1993.8,920.2 1996.8,919.8 1999.8,919.5 2002.8,919.2 2005.8,918.9 2008.8,918.6 2011.8,918.3 2014.8,918.0 2017.8,917.6 2020.8,917.3 2023.8,917.0 2026.8,916.7 2029.8,916.4 2032.8,916.1 2035.8,915.8 2038.8,915.5 2041.8,915.2 2044.8,914.9 2047.8,914.6 2050.8,914.3 2053.8,914.0 2056.8,913.7 2059.8,913.4 2062.8,913.1 2065.8,912.8 2068.8,912.5 2071.8,912.2 2074.8,911.9 2077.8,911.6 2080.8,911.3 2083.8,911.0 2086.8,910.7 2089.8,910.4 2092.8,910.1 2095.8,909.8 2098.8,909.5 2101.8,909.2 2104.8,908.9 2107.8,908.6 2110.8,908.3 2113.8,908.0 2116.8,907.8 2119.8,907.5 2122.8,907.2 2125.8,906.9 2128.8,906.6 2131.8,906.3 2134.8,906.0 2137.8,905.8 2140.8,905.5 2143.8,905.2 2146.8,904.9 2149.8,904.6 2152.8,904.4 2155.8,904.1 2158.8,903.8 2161.8,903.5 2164.8,903.3 2167.8,903.0 2170.8,902.7 2173.8,902.4 2176.8,902.2 2179.8,901.9 2182.8,901.6 2185.8,901.4 2188.8,901.1 2191.8,900.8 2194.8,900.6 2197.8,900.3 2200.8,900.0 2203.8,899.8 2206.8,899.5 2209.8,899.3 2212.8,899.0 2215.8,898.7 2218.8,898.5 2221.8,898.2 2224.8,898.0 2227.8,897.7 2230.8,897.5 2233.8,897.2 2236.8,897.0 2239.8,896.7 2242.8,896.5 2245.8,896.2 2248.8,896.0 2251.8,895.7 2254.8,895.5 2257.8,895.3 2260.8,895.0 2263.8,894.8 2266.8,894.5 2269.8,894.3 2272.8,894.1 2275.8,893.8 2278.8,893.6 2281.8,893.4 2284.8,893.1 2287.8,892.9 2290.8,892.7 2293.8,892.4 2296.8,892.2 2299.8,892.0 2302.8,891.8 2305.8,891.5 2308.8,891.3 2311.8,891.1 2314.8,890.9 2317.8,890.7 2320.8,890.4 2323.8,890.2 2326.8,890.0 2328.2,889.9" stroke="#00ff00" stroke-dasharray="17 23.13"/>
<path d="M502.8,710.8 505.8,710.8 508.8,710.8 511.8,710.8 514.8,710.8 517.8,710.8 520.8,710.8 523.8,710.8 526.8,710.8 529.8,710.8 532.8,710.8 535.8,710.8 538.8,710.8 541.8,710.8 544.8,710.8 547.8,710.8 550.8,710.8 553.8,710.8 556.8,710.8 559.8,710.7 562.8,710.7 565.8,710.7 568.8,710.7 571.8,710.7 574.8,710.7 577.8,710.7 580.8,710.7 583.8,710.7 586.8,710.7 589.8,710.7 592.8,710.7 595.8,710.7 598.8,710.7 601.8,710.7 604.8,710.6 607.8,710.6 610.8,710.6 613.8,710.6 616.8,710.6 619.8,710.6 622.8,710.6 625.8,710.6 628.8,710.6 631.8,710.6 634.8,710.6 637.8,710.5 640.8,710.5 643.8,710.5 646.8,710.5 649.8,710.5 652.8,710.5 655.8,710.5 658.8,710.5 661.8,710.5 664.8,710.5 667.8,710.4 670.8,710.4 673.8,710.4 676.8,710.4 679.8,710.4 682.8,710.4 685.8,710.4 688.8,710.4 691.8,710.4 694.8,710.4 697.8,710.3 700.8,710.3 703.8,710.3 706.8,710.3 709.8,710.3 712.8,710.3 715.8,710.3 718.8,710.3 721.8,710.3 724.8,710.2 727.8,710.2 730.8,710.2 733.8,710.2 736.8,710.2 739.8,710.2 742.8,710.2 745.8,710.2 748.8,710.2 751.8,710.2 754.8,710.1 757.8,710.1 760.8,710.1 763.8,710.1 766.8,710.1 769.8,710.1 772.8,710.1 775.8,710.1 778.8,710.1 781.8,710.1 784.8,710.1 787.8,710.0 790.8,710.0 793.8,710.0 796.8,710.0 799.8,710.0 802.8,710.0 805.8,710.0 808.8,710.0 811.8,710.0 814.8,710.0 817.8,710.0 820.8,710.0 823.8,710.0 826.8,710.0 829.8,710.0 832.8,709.9 835.8,709.9 838.8,709.9 841.8,709.9 844.8,709.9 847.8,709.9 850.8,709.9 853.8,709.9 856.8,709.9 859.8,709.9 862.8,709.9 865.8,709.9 868.8,709.9 871.8,709.9 874.8,709.9 877.8,709.9 880.8,709.9 883.8,709.9 886.8,709.9 889.8,709.9 892.8,709.9 895.8,709.9 898.8,709.9 901.8,709.8 904.8,709.8 907.8,709.8 910.8,709.8 913.8,709.8 916.8,709.8 919.8,709.8 922.8,709.8 925.8,709.8 928.8,709.8 931.8,709.8 934.8,709.8 937.8,709.8 940.8,709.8 943.8,709.8 946.8,709.8 949.8,709.8 952.8,709.8 955.8,709.8 958.8,709.8 961.8,709.8 964.8,709.8 967.8,709.8 970.8,709.8 973.8,709.8 976.8,709.8 979.8,709.8 982.8,709.8 985.8,709.8 988.8,709.8 991.8,709.8 994.8,709.8 997.8,709.8 1000.8,709.8 1003.8,709.8 1006.8,709.8 1009.8,709.8 1012.8,709.8 1015.8,709.8 1018.8,709.8 1021.8,709.8 1024.8,709.8 1027.8,709.8 1030.8,709.8 1033.8,709.8 1036.8,709.8 1039.8,709.8 1042.8,709.8 1045.8,709.8 1048.8,709.8 1051.8,709.8 1054.8,709.8 1057.8,709.8 1060.8,709.7 1063.8,709.7 1066.8,709.7 1069.8,709.7 1072.8,709.7 1075.8,709.7 1078.8,709.7 1081.8,709.7 1084.8,709.7 1087.8,709.7 1090.8,709.7 1093.8,709.7 1096.8,709.7 1099.8,709.7 1102.8,709.7 1105.8,709.7 1108.8,709.7 1111.8,709.7 1114.8,709.7 1117.8,709.7 1120.8,709.7 1123.8,709.7 1126.8,709.7 1129.8,709.7 1132.8,709.7 1135.8,709.7 1138.8,709.7 1141.8,709.7 1144.8,709.7 1147.8,709.6 1150.8,709.6 1153.8,709.6 1156.8,709.6 1159.8,709.6 1162.8,709.6 1165.8,709.6 1168.8,709.6 1171.8,709.6 1174.8,709.6 1177.8,709.6 1180.8,709.6 1183.8,709.6 1186.8,709.6 1189.8,709.6 1192.8,709.6 1195.8,709.6 1198.8,709.5 1201.8,709.5 1204.8,709.5 1207.8,709.5 1210.8,709.5 1213.8,709.5 1216.8,709.5 1219.8,709.5 1222.8,709.5 1225.8,709.5 1228.8,709.5 1231.8,709.5 1234.8,709.5 1237.8,709.5 1240.8,709.5 1243.8,709.4 1246.8,709.4 1249.8,709.4 1252.8,709.4 1255.8,709.4 1258.8,709.4 1261.8,709.4 1264.8,709.4 1267.8,709.4 1270.8,709.4 1273.8,709.4 1276.8,709.4 1279.8,709.4 1282.8,709.3 1285.8,709.3 1288.8,709.3 1291.8,709.3 1294.8,709.3 1297.8,709.3 1300.8,709.3 1303.8,709.3 1306.8,709.3 1309.8,709.3 1312.8,709.3 1315.8,709.3 1318.8,709.3 1321.8,709.2 1324.8,709.2 1327.8,709.2 1330.8,709.2 1333.8,709.2 1336.8,709.2 1339.8,709.2 1342.8,709.2 1345.8,709.2 1348.8,709.2 1351.8,709.2 1354.8,709.2 1357.8,709.1 1360.8,709.1 1363.8,709.1 1366.8,709.1 1369.8,709.1 1372.8,709.1 1375.8,709.1 1378.8,709.1 1381.8,709.1 1384.8,709.1 1387.8,709.1 1390.8,709.1 1393.8,709.1 1396.8,709.0 1399.8,709.0 1402.8,709.0 1405.8,709.0 1408.8,709.0 1411.8,709.0 1414.8,709.0 1417.8,709.0 1420.8,709.0 1423.8,709.0 1426.8,709.0 1429.8,709.0 1432.8,709.0 1435.8,709.0 1438.8,708.9 1441.8,708.9 1444.8,708.9 1447.8,708.9 1450.8,708.9 1453.8,708.9 1456.8,708.9 1459.8,708.9 1462.8,708.9 1465.8,708.9 1468.8,708.9 1471.8,708.9 1474.8,708.9 1477.8,708.9 1480.8,708.9 1483.8,708.9 1486.8,708.8 1489.8,708.8 1492.8,708.8 1495.8,708.8 1498.8,708.8 1501.8,708.8 1504.8,708.8 1507.8,708.8 1510.8,708.8 1513.8,708.8 1516.8,708.8 1519.8,708.8 1522.8,708.8 1525.8,708.8 1528.8,708.8 1531.8,708.8 1534.8,708.8 1537.8,708.8 1540.8,708.8 1543.8,708.8 1546.8,708.8 1549.8,708.8 1552.8,708.8 1555.8,708.8 1558.8,708.8 1561.8,708.8 1564.8,708.8 1567.8,708.8 1570.8,708.8 1573.8,708.7 1576.8,708.7 1579.8,708.7 1582.8,708.7 1585.8,708.7 1588.8,708.7 1591.8,708.7 1594.8,708.7 1597.8,708.7 1600.8,708.8 1603.8,708.8 1606.8,708.8 1609.8,708.8 1612.8,708.8 1615.8,708.8 1618.8,708.8 1621.8,708.8 1624.8,708.8 1627.8,708.8 1630.8,708.8 1633.8,708.8 1636.8,708.8 1639.8,708.8 1642.8,708.8 1645.8,708.8 1648.8,708.8 1651.8,708.8 1654.8,708.8 1657.8,708.8 1660.8,708.8 1663.8,708.8 1666.8,708.8 1669.8,708.8 1672.8,708.8 1675.8,708.9 1678.8,708.9 1681.8,708.9 1684.8,708.9 1687.8,708.9 1690.8,708.9 1693.8,708.9 1696.8,708.9 1699.8,708.9 1702.8,708.9 1705.8,708.9 1708.8,709.0 1711.8,709.0 1714.8,709.0 1717.8,709.0 1720.8,709.0 1723.8,709.0 1726.8,709.0 1729.8,709.0 1732.8,709.1 1735.8,709.1 1738.8,709.1 1741.8,709.1 1744.8,709.1 1747.8,709.1 1750.8,709.1 1753.8,709.2 1756.8,709.2 1759.8,709.2 1762.8,709.2 1765.8,709.2 1768.8,709.2 1771.8,709.3 1774.8,709.3 1777.8,709.3 1780.8,709.3 1783.8,709.3 1786.8,709.4 1789.8,709.4 1792.8,709.4 1795.8,709.4 1798.8,709.4 1801.8,709.5 1804.8,709.5 1807.8,709.5 1810.8,709.5 1813.8,709.5 1816.8,709.6 1819.8,709.6 1822.8,709.6 1825.8,709.6 1828.8,709.6 1831.8,709.7 1834.8,709.7 1837.8,709.7 1840.8,709.7 1843.8,709.8 1846.8,709.8 1849.8,709.8 1852.8,709.8 1855.8,709.9 1858.8,709.9 1861.8,709.9 1864.8,709.9 1867.8,710.0 1870.8,710.0 1873.8,710.0 1876.8,710.0 1879.8,710.1 1882.8,710.1 1885.8,710.1 1888.8,710.1 1891.8,710.2 1894.8,710.2 1897.8,710.2 1900.8,710.3 1903.8,710.3 1906.8,710.3 1909.8,710.3 1912.8,710.4 1915.8,710.4 1918.8,710.4 1921.8,710.5 1924.8,710.5 1927.8,710.5 1930.8,710.5 1933.8,710.6 1936.8,710.6 1939.8,710.6 1942.8,710.7 1945.8,710.7 1948.8,710.7 1951.8,710.7 1954.8,710.8 1957.8,710.8 1960.8,710.8 1963.8,710.9 1966.8,710.9 1969.8,710.9 1972.8,711.0 1975.8,711.0 1978.8,711.0 1981.8,711.1 1984.8,711.1 1987.8,711.1 1990.8,711.1 1993.8,711.2 1996.8,711.2 1999.8,711.2 2002.8,711.3 2005.8,711.3 2008.8,711.3 2011.8,711.4 2014.8,711.4 2017.8,711.4 2020.8,711.5 2023.8,711.5 2026.8,711.5 2029.8,711.6 2032.8,711.6 2035.8,711.6 2038.8,711.7 2041.8,711.7 2044.8,711.7 2047.8,711.8 2050.8,711.8 2053.8,711.8 2056.8,711.9 2059.8,711.9 2062.8,711.9 2065.8,711.9 2068.8,712.0 2071.8,712.0 2074.8,712.0 2077.8,712.1 2080.8,712.1 2083.8,712.1 2086.8,712.2 2089.8,712.2 2092.8,712.2 2095.8,712.3 2098.8,712.3 2101.8,712.3 2104.8,712.4 2107.8,712.4 2110.8,712.4 2113.8,712.5 2116.8,712.5 2119.8,712.5 2122.8,712.6 2125.8,712.6 2128.8,712.6 2131.8,712.7 2134.8,712.7 2137.8,712.7 2140.8,712.8 2143.8,712.8 2146.8,712.8 2149.8,712.9 2152.8,712.9 2155.8,712.9 2158.8,712.9 2161.8,713.0 2164.8,713.0 2167.8,713.0 2170.8,713.1 2173.8,713.1 2176.8,713.1 2179.8,713.2 2182.8,713.2 2185.8,713.2 2188.8,713.3 2191.8,713.3 2194.8,713.3 2197.8,713.3 2200.8,713.4 2203.8,713.4 2206.8,713.4 2209.8,713.5 2212.8,713.5 2215.8,713.5 2218.8,713.6 2221.8,713.6 2224.8,713.6 2227.8,713.6 2230.8,713.7 2233.8,713.7 2236.8,713.7 2239.8,713.8 2242.8,713.8 2245.8,713.8 2248.8,713.8 2251.8,713.9 2254.8,713.9 2257.8,713.9 2260.8,713.9 2263.8,714.0 2266.8,714.0 2269.8,714.0 2272.8,714.1 2275.8,714.1 2278.8,714.1 2281.8,714.1 2284.8,714.2 2287.8,714.2 2290.8,714.2 2293.8,714.2 2296.8,714.3 2299.8,714.3 2302.8,714.3 2305.8,714.3 2308.8,714.4 2311.8,714.4 2314.8,714.4 2317.8,714.4 2320.8,714.4 2323.8,714.5 2326.8,714.5 2328.2,714.5" stroke="#ff00ff"/>
<path d="M502.8,710.8 505.8,710.8 508.8,710.8 511.8,710.8 514.8,710.8 517.8,710.8 520.8,710.8 523.8,710.8 526.8,710.8 529.8,710.9 532.8,710.9 535.8,710.9 538.8,710.9 541.8,710.9 544.8,710.9 547.8,710.9 550.8,711.0 553.8,711.0 556.8,711.0 559.8,711.0 562.8,711.0 565.8,711.1 568.8,711.1 571.8,711.1 574.8,711.1 577.8,711.2 580.8,711.2 583.8,711.2 586.8,711.2 589.8,711.3 592.8,711.3 595.8,711.3 598.8,711.4 601.8,711.4 604.8,711.4 607.8,711.5 610.8,711.5 613.8,711.5 616.8,711.6 619.8,711.6 622.8,711.7 625.8,711.7 628.8,711.7 631.8,711.8 634.8,711.8 637.8,711.9 640.8,711.9 643.8,711.9 646.8,712.0 649.8,712.0 652.8,712.1 655.8,712.1 658.8,712.2 661.8,712.2 664.8,712.2 667.8,712.3 670.8,712.3 673.8,712.4 676.8,712.4 679.8,712.5 682.8,712.5 685.8,712.6 688.8,712.6 691.8,712.7 694.8,712.7 697.8,712.8 700.8,712.8 703.8,712.9 706.8,712.9 709.8,713.0 712.8,713.0 715.8,713.1 718.8,713.1 721.8,713.2 724.8,713.2 727.8,713.3 730.8,713.3 733.8,713.3 736.8,713.4 739.8,713.4 742.8,713.5 745.8,713.5 748.8,713.6 751.8,713.6 754.8,713.7 757.8,713.7 760.8,713.8 763.8,713.8 766.8,713.9 769.8,713.9 772.8,714.0 775.8,714.0 778.8,714.1 781.8,714.1 784.8,714.2 787.8,714.2 790.8,714.3 793.8,714.3 796.8,714.3 799.8,714.4 802.8,714.4 805.8,714.5 808.8,714.5 811.8,714.6 814.8,714.6 817.8,714.7 820.8,714.7 823.8,714.7 826.8,714.8 829.8,714.8 832.8,714.9 835.8,714.9 838.8,714.9 841.8,715.0 844.8,715.0 847.8,715.1 850.8,715.1 853.8,715.1 856.8,715.2 859.8,715.2 862.8,715.2 865.8,715.3 868.8,715.3 871.8,715.4 874.8,715.4 877.8,715.4 880.8,715.5 883.8,715.5 886.8,715.5 889.8,715.6 892.8,715.6 895.8,715.6 898.8,715.7 901.8,715.7 904.8,715.7 907.8,715.8 910.8,715.8 913.8,715.8 916.8,715.9 919.8,715.9 922.8,715.9 925.8,716.0 928.8,716.0 931.8,716.0 934.8,716.1 937.8,716.1 940.8,716.2 943.8,716.2 946.8,716.2 949.8,716.3 952.8,716.3 955.8,716.3 958.8,716.4 961.8,716.4 964.8,716.4 967.8,716.5 970.8,716.5 973.8,716.5 976.8,716.6 979.8,716.6 982.8,716.6 985.8,716.7 988.8,716.7 991.8,716.7 994.8,716.8 997.8,716.8 1000.8,716.9 1003.8,716.9 1006.8,716.9 1009.8,717.0 1012.8,717.0 1015.8,717.0 1018.8,717.1 1021.8,717.1 1024.8,717.2 1027.8,717.2 1030.8,717.2 1033.8,717.3 1036.8,717.3 1039.8,717.4 1042.8,717.4 1045.8,717.5 1048.8,717.5 1051.8,717.5 1054.8,717.6 1057.8,717.6 1060.8,717.7 1063.8,717.7 1066.8,717.8 1069.8,717.8 1072.8,717.9 1075.8,717.9 1078.8,717.9 1081.8,718.0 1084.8,718.0 1087.8,718.1 1090.8,718.1 1093.8,718.2 1096.8,718.2 1099.8,718.3 1102.8,718.3 1105.8,718.4 1108.8,718.5 1111.8,718.5 1114.8,718.6 1117.8,718.6 1120.8,718.7 1123.8,718.7 1126.8,718.8 1129.8,718.8 1132.8,718.9 1135.8,719.0 1138.8,719.0 1141.8,719.1 1144.8,719.1 1147.8,719.2 1150.8,719.3 1153.8,719.3 1156.8,719.4 1159.8,719.5 1162.8,719.5 1165.8,719.6 1168.8,719.7 1171.8,719.7 1174.8,719.8 1177.8,719.9 1180.8,719.9 1183.8,720.0 1186.8,720.1 1189.8,720.1 1192.8,720.2 1195.8,720.3 1198.8,720.3 1201.8,720.4 1204.8,720.5 1207.8,720.6 1210.8,720.6 1213.8,720.7 1216.8,720.8 1219.8,720.9 1222.8,720.9 1225.8,721.0 1228.8,721.1 1231.8,721.2 1234.8,721.3 1237.8,721.3 1240.8,721.4 1243.8,721.5 1246.8,721.6 1249.8,721.7 1252.8,721.7 1255.8,721.8 1258.8,721.9 1261.8,722.0 1264.8,722.1 1267.8,722.1 1270.8,722.2 1273.8,722.3 1276.8,722.4 1279.8,722.5 1282.8,722.6 1285.8,722.7 1288.8,722.7 1291.8,722.8 1294.8,722.9 1297.8,723.0 1300.8,723.1 1303.8,723.2 1306.8,723.3 1309.8,723.4 1312.8,723.5 1315.8,723.6 1318.8,723.6 1321.8,723.7 1324.8,723.8 1327.8,723.9 1330.8,724.0 1333.8,724.1 1336.8,724.2 1339.8,724.3 1342.8,724.4 1345.8,724.5 1348.8,724.6 1351.8,724.7 1354.8,724.8 1357.8,724.9 1360.8,725.0 1363.8,725.1 1366.8,725.2 1369.8,725.3 1372.8,725.4 1375.8,725.5 1378.8,725.6 1381.8,725.7 1384.8,725.8 1387.8,725.9 1390.8,726.0 1393.8,726.1 1396.8,726.2 1399.8,726.3 1402.8,726.4 1405.8,726.5 1408.8,726.6 1411.8,726.7 1414.8,726.8 1417.8,726.9 1420.8,727.0 1423.8,727.1 1426.8,727.2 1429.8,727.3 1432.8,727.4 1435.8,727.5 1438.8,727.6 1441.8,727.7 1444.8,727.8 1447.8,727.9 1450.8,728.0 1453.8,728.1 1456.8,728.2 1459.8,728.4 1462.8,728.5 1465.8,728.6 1468.8,728.7 1471.8,728.8 1474.8,728.9 1477.8,729.0 1480.8,729.1 1483.8,729.2 1486.8,729.3 1489.8,729.4 1492.8,729.6 1495.8,729.7 1498.8,729.8 1501.8,729.9 1504.8,730.0 1507.8,730.1 1510.8,730.2 1513.8,730.3 1516.8,730.4 1519.8,730.5 1522.8,730.7 1525.8,730.8 1528.8,730.9 1531.8,731.0 1534.8,731.1 1537.8,731.2 1540.8,731.3 1543.8,731.4 1546.8,731.5 1549.8,731.7 1552.8,731.8 1555.8,731.9 1558.8,732.0 1561.8,732.1 1564.8,732.2 1567.8,732.3 1570.8,732.4 1573.8,732.6 1576.8,732.7 1579.8,732.8 1582.8,732.9 1585.8,733.0 1588.8,733.1 1591.8,733.2 1594.8,733.3 1597.8,733.5 1600.8,733.6 1603.8,733.7 1606.8,733.8 1609.8,733.9 1612.8,734.0 1615.8,734.1 1618.8,734.3 1621.8,734.4 1624.8,734.5 1627.8,734.6 1630.8,734.7 1633.8,734.8 1636.8,734.9 1639.8,735.0 1642.8,735.2 1645.8,735.3 1648.8,735.4 1651.8,735.5 1654.8,735.6 1657.8,735.7 1660.8,735.8 1663.8,735.9 1666.8,736.0 1669.8,736.2 1672.8,736.3 1675.8,736.4 1678.8,736.5 1681.8,736.6 1684.8,736.7 1687.8,736.8 1690.8,736.9 1693.8,737.0 1696.8,737.2 1699.8,737.3 1702.8,737.4 1705.8,737.5 1708.8,737.6 1711.8,737.7 1714.8,737.8 1717.8,737.9 1720.8,738.0 1723.8,738.1 1726.8,738.3 1729.8,738.4 1732.8,738.5 1735.8,738.6 1738.8,738.7 1741.8,738.8 1744.8,738.9 1747.8,739.0 1750.8,739.1 1753.8,739.2 1756.8,739.3 1759.8,739.4 1762.8,739.5 1765.8,739.6 1768.8,739.8 1771.8,739.9 1774.8,740.0 1777.8,740.1 1780.8,740.2 1783.8,740.3 1786.8,740.4 1789.8,740.5 1792.8,740.6 1795.8,740.7 1798.8,740.8 1801.8,740.9 1804.8,741.0 1807.8,741.1 1810.8,741.2 1813.8,741.3 1816.8,741.4 1819.8,741.5 1822.8,741.6 1825.8,741.7 1828.8,741.8 1831.8,742.0 1834.8,742.1 1837.8,742.2 1840.8,742.3 1843.8,742.4 1846.8,742.5 1849.8,742.6 1852.8,742.7 1855.8,742.8 1858.8,742.9 1861.8,743.0 1864.8,743.1 1867.8,743.2 1870.8,743.3 1873.8,743.4 1876.8,743.5 1879.8,743.6 1882.8,743.7 1885.8,743.8 1888.8,743.9 1891.8,744.0 1894.8,744.1 1897.8,744.2 1900.8,744.3 1903.8,744.4 1906.8,744.5 1909.8,744.6 1912.8,744.7 1915.8,744.8 1918.8,744.9 1921.8,745.0 1924.8,745.1 1927.8,745.2 1930.8,745.3 1933.8,745.4 1936.8,745.5 1939.8,745.6 1942.8,745.7 1945.8,745.8 1948.8,745.9 1951.8,746.0 1954.8,746.1 1957.8,746.2 1960.8,746.3 1963.8,746.4 1966.8,746.5 1969.8,746.7 1972.8,746.8 1975.8,746.9 1978.8,747.0 1981.8,747.1 1984.8,747.2 1987.8,747.3 1990.8,747.4 1993.8,747.5 1996.8,747.6 1999.8,747.7 2002.8,747.8 2005.8,747.9 2008.8,748.0 2011.8,748.1 2014.8,748.2 2017.8,748.3 2020.8,748.4 2023.8,748.5 2026.8,748.6 2029.8,748.7 2032.8,748.8 2035.8,748.9 2038.8,749.0 2041.8,749.1 2044.8,749.2 2047.8,749.3 2050.8,749.4 2053.8,749.5 2056.8,749.6 2059.8,749.7 2062.8,749.8 2065.8,749.9 2068.8,750.0 2071.8,750.1 2074.8,750.3 2077.8,750.4 2080.8,750.5 2083.8,750.6 2086.8,750.7 2089.8,750.8 2092.8,750.9 2095.8,751.0 2098.8,751.1 2101.8,751.2 2104.8,751.3 2107.8,751.4 2110.8,751.5 2113.8,751.6 2116.8,751.7 2119.8,751.8 2122.8,751.9 2125.8,752.0 2128.8,752.2 2131.8,752.3 2134.8,752.4 2137.8,752.5 2140.8,752.6 2143.8,752.7 2146.8,752.8 2149.8,752.9 2152.8,753.0 2155.8,753.1 2158.8,753.2 2161.8,753.3 2164.8,753.5 2167.8,753.6 2170.8,753.7 2173.8,753.8 2176.8,753.9 2179.8,754.0 2182.8,754.1 2185.8,754.2 2188.8,754.3 2191.8,754.4 2194.8,754.6 2197.8,754.7 2200.8,754.8 2203.8,754.9 2206.8,755.0 2209.8,755.1 2212.8,755.2 2215.8,755.3 2218.8,755.5 2221.8,755.6 2224.8,755.7 2227.8,755.8 2230.8,755.9 2233.8,756.0 2236.8,756.1 2239.8,756.3 2242.8,756.4 2245.8,756.5 2248.8,756.6 2251.8,756.7 2254.8,756.8 2257.8,757.0 2260.8,757.1 2263.8,757.2 2266.8,757.3 2269.8,757.4 2272.8,757.6 2275.8,757.7 2278.8,757.8 2281.8,757.9 2284.8,758.0 2287.8,758.1 2290.8,758.3 2293.8,758.4 2296.8,758.5 2299.8,758.6 2302.8,758.8 2305.8,758.9 2308.8,759.0 2311.8,759.1 2314.8,759.2 2317.8,759.4 2320.8,759.5 2323.8,759.6 2326.8,759.7 2328.2,759.8" stroke="#ff00ff" stroke-dasharray="98 30.5 17.5 30.5"/>
<path d="M502.8,910.5 505.8,910.5 508.8,910.5 511.8,910.5 514.8,910.5 517.8,910.5 520.8,910.5 523.8,910.5 526.8,910.5 529.8,910.5 532.8,910.5 535.8,910.5 538.8,910.4 541.8,910.4 544.8,910.4 547.8,910.4 550.8,910.4 553.8,910.4 556.8,910.4 559.8,910.4 562.8,910.3 565.8,910.3 568.8,910.3 571.8,910.3 574.8,910.3 577.8,910.3 580.8,910.2 583.8,910.2 586.8,910.2 589.8,910.2 592.8,910.1 595.8,910.1 598.8,910.1 601.8,910.1 604.8,910.0 607.8,910.0 610.8,910.0 613.8,910.0 616.8,909.9 619.8,909.9 622.8,909.9 625.8,909.9 628.8,909.8 631.8,909.8 634.8,909.8 637.8,909.7 640.8,909.7 643.8,909.7 646.8,909.6 649.8,909.6 652.8,909.5 655.8,909.5 658.8,909.5 661.8,909.4 664.8,909.4 667.8,909.4 670.8,909.3 673.8,909.3 676.8,909.2 679.8,909.2 682.8,909.2 685.8,909.1 688.8,909.1 691.8,909.0 694.8,909.0 697.8,908.9 700.8,908.9 703.8,908.8 706.8,908.8 709.8,908.7 712.8,908.7 715.8,908.6 718.8,908.6 721.8,908.5 724.8,908.5 727.8,908.4 730.8,908.4 733.8,908.3 736.8,908.3 739.8,908.2 742.8,908.2 745.8,908.1 748.8,908.1 751.8,908.0 754.8,908.0 757.8,907.9 760.8,907.8 763.8,907.8 766.8,907.7 769.8,907.7 772.8,907.6 775.8,907.6 778.8,907.5 781.8,907.4 784.8,907.4 787.8,907.3 790.8,907.2 793.8,907.2 796.8,907.1 799.8,907.1 802.8,907.0 805.8,906.9 808.8,906.9 811.8,906.8 814.8,906.7 817.8,906.7 820.8,906.6 823.8,906.5 826.8,906.5 829.8,906.4 832.8,906.3 835.8,906.3 838.8,906.2 841.8,906.1 844.8,906.0 847.8,906.0 850.8,905.9 853.8,905.8 856.8,905.8 859.8,905.7 862.8,905.6 865.8,905.5 868.8,905.5 871.8,905.4 874.8,905.3 877.8,905.2 880.8,905.2 883.8,905.1 886.8,905.0 889.8,904.9 892.8,904.9 895.8,904.8 898.8,904.7 901.8,904.6 904.8,904.5 907.8,904.5 910.8,904.4 913.8,904.3 916.8,904.2 919.8,904.1 922.8,904.1 925.8,904.0 928.8,903.9 931.8,903.8 934.8,903.7 937.8,903.6 940.8,903.6 943.8,903.5 946.8,903.4 949.8,903.3 952.8,903.2 955.8,903.1 958.8,903.0 961.8,902.9 964.8,902.9 967.8,902.8 970.8,902.7 973.8,902.6 976.8,902.5 979.8,902.4 982.8,902.3 985.8,902.2 988.8,902.1 991.8,902.0 994.8,902.0 997.8,901.9 1000.8,901.8 1003.8,901.7 1006.8,901.6 1009.8,901.5 1012.8,901.4 1015.8,901.3 1018.8,901.2 1021.8,901.1 1024.8,901.0 1027.8,900.9 1030.8,900.8 1033.8,900.7 1036.8,900.6 1039.8,900.5 1042.8,900.4 1045.8,900.3 1048.8,900.2 1051.8,900.1 1054.8,900.0 1057.8,899.9 1060.8,899.8 1063.8,899.7 1066.8,899.6 1069.8,899.5 1072.8,899.4 1075.8,899.3 1078.8,899.2 1081.8,899.1 1084.8,899.0 1087.8,898.9 1090.8,898.7 1093.8,898.6 1096.8,898.5 1099.8,898.4 1102.8,898.3 1105.8,898.2 1108.8,898.1 1111.8,898.0 1114.8,897.9 1117.8,897.8 1120.8,897.6 1123.8,897.5 1126.8,897.4 1129.8,897.3 1132.8,897.2 1135.8,897.1 1138.8,897.0 1141.8,896.9 1144.8,896.7 1147.8,896.6 1150.8,896.5 1153.8,896.4 1156.8,896.3 1159.8,896.2 1162.8,896.0 1165.8,895.9 1168.8,895.8 1171.8,895.7 1174.8,895.6 1177.8,895.5 1180.8,895.3 1183.8,895.2 1186.8,895.1 1189.8,895.0 1192.8,894.9 1195.8,894.7 1198.8,894.6 1201.8,894.5 1204.8,894.4 1207.8,894.3 1210.8,894.1 1213.8,894.0 1216.8,893.9 1219.8,893.8 1222.8,893.6 1225.8,893.5 1228.8,893.4 1231.8,893.3 1234.8,893.1 1237.8,893.0 1240.8,892.9 1243.8,892.8 1246.8,892.6 1249.8,892.5 1252.8,892.4 1255.8,892.3 1258.8,892.1 1261.8,892.0 1264.8,891.9 1267.8,891.8 1270.8,891.6 1273.8,891.5 1276.8,891.4 1279.8,891.2 1282.8,891.1 1285.8,891.0 1288.8,890.9 1291.8,890.7 1294.8,890.6 1297.8,890.5 1300.8,890.3 1303.8,890.2 1306.8,890.1 1309.8,889.9 1312.8,889.8 1315.8,889.7 1318.8,889.6 1321.8,889.4 1324.8,889.3 1327.8,889.2 1330.8,889.0 1333.8,888.9 1336.8,888.8 1339.8,888.6 1342.8,888.5 1345.8,888.4 1348.8,888.2 1351.8,888.1 1354.8,888.0 1357.8,887.9 1360.8,887.7 1363.8,887.6 1366.8,887.5 1369.8,887.3 1372.8,887.2 1375.8,887.1 1378.8,886.9 1381.8,886.8 1384.8,886.7 1387.8,886.5 1390.8,886.4 1393.8,886.3 1396.8,886.1 1399.8,886.0 1402.8,885.9 1405.8,885.7 1408.8,885.6 1411.8,885.5 1414.8,885.3 1417.8,885.2 1420.8,885.1 1423.8,884.9 1426.8,884.8 1429.8,884.7 1432.8,884.5 1435.8,884.4 1438.8,884.3 1441.8,884.1 1444.8,884.0 1447.8,883.9 1450.8,883.7 1453.8,883.6 1456.8,883.5 1459.8,883.3 1462.8,883.2 1465.8,883.1 1468.8,882.9 1471.8,882.8 1474.8,882.7 1477.8,882.5 1480.8,882.4 1483.8,882.3 1486.8,882.1 1489.8,882.0 1492.8,881.9 1495.8,881.7 1498.8,881.6 1501.8,881.5 1504.8,881.3 1507.8,881.2 1510.8,881.1 1513.8,880.9 1516.8,880.8 1519.8,880.7 1522.8,880.5 1525.8,880.4 1528.8,880.3 1531.8,880.1 1534.8,880.0 1537.8,879.9 1540.8,879.7 1543.8,879.6 1546.8,879.5 1549.8,879.3 1552.8,879.2 1555.8,879.1 1558.8,878.9 1561.8,878.8 1564.8,878.7 1567.8,878.5 1570.8,878.4 1573.8,878.3 1576.8,878.1 1579.8,878.0 1582.8,877.9 1585.8,877.7 1588.8,877.6 1591.8,877.5 1594.8,877.3 1597.8,877.2 1600.8,877.1 1603.8,876.9 1606.8,876.8 1609.8,876.7 1612.8,876.5 1615.8,876.4 1618.8,876.3 1621.8,876.1 1624.8,876.0 1627.8,875.9 1630.8,875.7 1633.8,875.6 1636.8,875.5 1639.8,875.3 1642.8,875.2 1645.8,875.1 1648.8,874.9 1651.8,874.8 1654.8,874.7 1657.8,874.5 1660.8,874.4 1663.8,874.3 1666.8,874.1 1669.8,874.0 1672.8,873.9 1675.8,873.8 1678.8,873.6 1681.8,873.5 1684.8,873.4 1687.8,873.2 1690.8,873.1 1693.8,873.0 1696.8,872.8 1699.8,872.7 1702.8,872.6 1705.8,872.4 1708.8,872.3 1711.8,872.2 1714.8,872.0 1717.8,871.9 1720.8,871.8 1723.8,871.6 1726.8,871.5 1729.8,871.4 1732.8,871.2 1735.8,871.1 1738.8,871.0 1741.8,870.8 1744.8,870.7 1747.8,870.6 1750.8,870.4 1753.8,870.3 1756.8,870.2 1759.8,870.0 1762.8,869.9 1765.8,869.8 1768.8,869.6 1771.8,869.5 1774.8,869.4 1777.8,869.2 1780.8,869.1 1783.8,869.0 1786.8,868.8 1789.8,868.7 1792.8,868.6 1795.8,868.4 1798.8,868.3 1801.8,868.2 1804.8,868.0 1807.8,867.9 1810.8,867.8 1813.8,867.6 1816.8,867.5 1819.8,867.4 1822.8,867.2 1825.8,867.1 1828.8,867.0 1831.8,866.9 1834.8,866.7 1837.8,866.6 1840.8,866.5 1843.8,866.3 1846.8,866.2 1849.8,866.1 1852.8,865.9 1855.8,865.8 1858.8,865.7 1861.8,865.5 1864.8,865.4 1867.8,865.3 1870.8,865.1 1873.8,865.0 1876.8,864.9 1879.8,864.7 1882.8,864.6 1885.8,864.5 1888.8,864.4 1891.8,864.2 1894.8,864.1 1897.8,864.0 1900.8,863.8 1903.8,863.7 1906.8,863.6 1909.8,863.4 1912.8,863.3 1915.8,863.2 1918.8,863.0 1921.8,862.9 1924.8,862.8 1927.8,862.7 1930.8,862.5 1933.8,862.4 1936.8,862.3 1939.8,862.1 1942.8,862.0 1945.8,861.9 1948.8,861.7 1951.8,861.6 1954.8,861.5 1957.8,861.4 1960.8,861.2 1963.8,861.1 1966.8,861.0 1969.8,860.8 1972.8,860.7 1975.8,860.6 1978.8,860.4 1981.8,860.3 1984.8,860.2 1987.8,860.1 1990.8,859.9 1993.8,859.8 1996.8,859.7 1999.8,859.5 2002.8,859.4 2005.8,859.3 2008.8,859.2 2011.8,859.0 2014.8,858.9 2017.8,858.8 2020.8,858.6 2023.8,858.5 2026.8,858.4 2029.8,858.3 2032.8,858.1 2035.8,858.0 2038.8,857.9 2041.8,857.7 2044.8,857.6 2047.8,857.5 2050.8,857.4 2053.8,857.2 2056.8,857.1 2059.8,857.0 2062.8,856.8 2065.8,856.7 2068.8,856.6 2071.8,856.5 2074.8,856.3 2077.8,856.2 2080.8,856.1 2083.8,856.0 2086.8,855.8 2089.8,855.7 2092.8,855.6 2095.8,855.5 2098.8,855.3 2101.8,855.2 2104.8,855.1 2107.8,855.0 2110.8,854.8 2113.8,854.7 2116.8,854.6 2119.8,854.4 2122.8,854.3 2125.8,854.2 2128.8,854.1 2131.8,853.9 2134.8,853.8 2137.8,853.7 2140.8,853.6 2143.8,853.4 2146.8,853.3 2149.8,853.2 2152.8,853.1 2155.8,852.9 2158.8,852.8 2161.8,852.7 2164.8,852.6 2167.8,852.5 2170.8,852.3 2173.8,852.2 2176.8,852.1 2179.8,852.0 2182.8,851.8 2185.8,851.7 2188.8,851.6 2191.8,851.5 2194.8,851.3 2197.8,851.2 2200.8,851.1 2203.8,851.0 2206.8,850.9 2209.8,850.7 2212.8,850.6 2215.8,850.5 2218.8,850.4 2221.8,850.2 2224.8,850.1 2227.8,850.0 2230.8,849.9 2233.8,849.8 2236.8,849.6 2239.8,849.5 2242.8,849.4 2245.8,849.3 2248.8,849.2 2251.8,849.0 2254.8,848.9 2257.8,848.8 2260.8,848.7 2263.8,848.5 2266.8,848.4 2269.8,848.3 2272.8,848.2 2275.8,848.1 2278.8,848.0 2281.8,847.8 2284.8,847.7 2287.8,847.6 2290.8,847.5 2293.8,847.4 2296.8,847.2 2299.8,847.1 2302.8,847.0 2305.8,846.9 2308.8,846.8 2311.8,846.6 2314.8,846.5 2317.8,846.4 2320.8,846.3 2323.8,846.2 2326.8,846.1 2328.2,846.0" stroke="#ff00ff" stroke-dasharray="17 23.13"/>
<path d="M502.8,1770.9 505.8,1770.9 508.8,1770.9 511.8,1770.8 514.8,1770.7 517.8,1770.6 520.8,1770.5 523.8,1770.3 526.8,1770.1 529.8,1769.9 532.8,1769.7 535.8,1769.4 538.8,1769.1 541.8,1768.8 544.8,1768.4 547.8,1768.1 550.8,1767.7 553.8,1767.2 556.8,1766.8 559.8,1766.4 562.8,1765.9 565.8,1765.4 568.8,1764.9 571.8,1764.3 574.8,1763.8 577.8,1763.2 580.8,1762.6 583.8,1762.0 586.8,1761.3 589.8,1760.7 592.8,1760.0 595.8,1759.3 598.8,1758.6 601.8,1757.9 604.8,1757.2 607.8,1756.4 610.8,1755.7 613.8,1754.9 616.8,1754.1 619.8,1753.3 622.8,1752.5 625.8,1751.7 628.8,1750.8 631.8,1750.0 634.8,1749.1 637.8,1748.3 640.8,1747.4 643.8,1746.5 646.8,1745.6 649.8,1744.7 652.8,1743.8 655.8,1742.9 658.8,1741.9 661.8,1741.0 664.8,1740.1 667.8,1739.1 670.8,1738.2 673.8,1737.2 676.8,1736.2 679.8,1735.3 682.8,1734.3 685.8,1733.3 688.8,1732.4 691.8,1731.4 694.8,1730.4 697.8,1729.4 700.8,1728.4 703.8,1727.5 706.8,1726.5 709.8,1725.5 712.8,1724.5 715.8,1723.5 718.8,1722.6 721.8,1721.6 724.8,1720.6 727.8,1719.6 730.8,1718.7 733.8,1717.7 736.8,1716.7 739.8,1715.8 742.8,1714.8 745.8,1713.9 748.8,1712.9 751.8,1712.0 754.8,1711.1 757.8,1710.2 760.8,1709.3 763.8,1708.4 766.8,1707.5 769.8,1706.6 772.8,1705.7 775.8,1704.8 778.8,1704.0 781.8,1703.1 784.8,1702.3 787.8,1701.5 790.8,1700.7 793.8,1699.9 796.8,1699.1 799.8,1698.3 802.8,1697.6 805.8,1696.8 808.8,1696.1 811.8,1695.4 814.8,1694.7 817.8,1694.0 820.8,1693.4 823.8,1692.7 826.8,1692.1 829.8,1691.5 832.8,1690.9 835.8,1690.3 838.8,1689.8 841.8,1689.2 844.8,1688.7 847.8,1688.2 850.8,1687.7 853.8,1687.3 856.8,1686.9 859.8,1686.5 862.8,1686.1 865.8,1685.7 868.8,1685.4 871.8,1685.1 874.8,1684.8 877.8,1684.5 880.8,1684.3 883.8,1684.1 886.8,1683.9 889.8,1683.7 892.8,1683.6 895.8,1683.5 898.8,1683.4 901.8,1683.4 904.8,1683.3 907.8,1683.4 910.8,1683.4 913.8,1683.5 916.8,1683.5 919.8,1683.7 922.8,1683.8 925.8,1684.0 928.8,1684.2 931.8,1684.4 934.8,1684.7 937.8,1685.0 940.8,1685.3 943.8,1685.6 946.8,1686.0 949.8,1686.4 952.8,1686.8 955.8,1687.2 958.8,1687.7 961.8,1688.2 964.8,1688.7 967.8,1689.3 970.8,1689.9 973.8,1690.4 976.8,1691.1 979.8,1691.7 982.8,1692.4 985.8,1693.1 988.8,1693.8 991.8,1694.6 994.8,1695.3 997.8,1696.1 1000.8,1696.9 1003.8,1697.8 1006.8,1698.6 1009.8,1699.5 1012.8,1700.4 1015.8,1701.4 1018.8,1702.3 1021.8,1703.3 1024.8,1704.3 1027.8,1705.3 1030.8,1706.4 1033.8,1707.4 1036.8,1708.5 1039.8,1709.6 1042.8,1710.8 1045.8,1711.9 1048.8,1713.1 1051.8,1714.3 1054.8,1715.5 1057.8,1716.8 1060.8,1718.0 1063.8,1719.3 1066.8,1720.6 1069.8,1721.9 1072.8,1723.3 1075.8,1724.6 1078.8,1726.0 1081.8,1727.4 1084.8,1728.8 1087.8,1730.3 1090.8,1731.7 1093.8,1733.2 1096.8,1734.7 1099.8,1736.2 1102.8,1737.8 1105.8,1739.3 1108.8,1740.9 1111.8,1742.5 1114.8,1744.1 1117.8,1745.7 1120.8,1747.4 1123.8,1749.0 1126.8,1750.7 1129.8,1752.4 1132.8,1754.1 1135.8,1755.9 1138.8,1757.6 1141.8,1759.4 1144.8,1761.2 1147.8,1763.0 1150.8,1764.8 1153.8,1766.6 1156.8,1768.5 1159.8,1770.3 1162.8,1772.2 1165.8,1774.1 1168.8,1776.0 1171.8,1777.9 1174.8,1779.9 1177.8,1781.8 1180.8,1783.8 1183.8,1785.8 1186.8,1787.8 1189.8,1789.8 1192.8,1791.8 1195.8,1793.9 1198.8,1795.9 1201.8,1798.0 1204.8,1800.1 1207.8,1802.2 1210.8,1804.3 1213.8,1806.4 1216.8,1808.5 1219.8,1810.7 1222.8,1812.9 1225.8,1815.0 1228.8,1817.2 1231.8,1819.4 1234.8,1821.6 1237.8,1823.8 1240.8,1826.1 1243.8,1828.3 1246.8,1830.6 1249.8,1832.9 1252.8,1835.1 1255.8,1837.4 1258.8,1839.7 1261.8,1842.0 1264.8,1844.3 1267.8,1846.6 1270.8,1849.0 1273.8,1851.3 1276.8,1853.6 1279.8,1856.0 1282.8,1858.3 1285.8,1860.7 1288.8,1863.0 1291.8,1865.4 1294.8,1867.7 1297.8,1870.1 1300.8,1872.4 1303.8,1874.8 1306.8,1877.1 1309.8,1879.5 1312.8,1881.8 1315.8,1884.2 1318.8,1886.5 1321.8,1888.9 1324.8,1891.2 1327.8,1893.6 1330.8,1895.9 1333.8,1898.2 1336.8,1900.5 1339.8,1902.8 1342.8,1905.2 1345.8,1907.5 1348.8,1909.8 1351.8,1912.1 1354.8,1914.3 1357.8,1916.6 1360.8,1918.9 1363.8,1921.2 1366.8,1923.4 1369.8,1925.7 1372.8,1927.9 1375.8,1930.2 1378.8,1932.4 1381.8,1934.6 1384.8,1936.8 1387.8,1939.0 1390.8,1941.2 1393.8,1943.4 1396.8,1945.6 1399.8,1947.8 1402.8,1949.9 1405.8,1952.1 1408.8,1954.2 1411.8,1956.3 1414.8,1958.4 1417.8,1960.5 1420.8,1962.6 1423.8,1964.7 1426.8,1966.8 1429.8,1968.8 1432.8,1970.9 1435.8,1972.9 1438.8,1974.9 1441.8,1976.9 1444.8,1978.9 1447.8,1980.9 1450.8,1982.9 1453.8,1984.8 1456.8,1986.8 1459.8,1988.7 1462.8,1990.6 1465.8,1992.5 1468.8,1994.4 1471.8,1996.3 1474.8,1998.1 1477.8,2000.0 1480.8,2001.8 1483.8,2003.6 1486.8,2005.4 1489.8,2007.2 1492.8,2009.0 1495.8,2010.7 1498.8,2012.5 1501.8,2014.2 1504.8,2015.9 1507.8,2017.7 1510.8,2019.3 1513.8,2021.0 1516.8,2022.7 1519.8,2024.4 1522.8,2026.0 1525.8,2027.6 1528.8,2029.3 1531.8,2030.9 1534.8,2032.5 1537.8,2034.0 1540.8,2035.6 1543.8,2037.2 1546.8,2038.7 1549.8,2040.3 1552.8,2041.8 1555.8,2043.3 1558.8,2044.8 1561.8,2046.3 1564.8,2047.8 1567.8,2049.3 1570.8,2050.7 1573.8,2052.2 1576.8,2053.6 1579.8,2055.0 1582.8,2056.5 1585.8,2057.9 1588.8,2059.3 1591.8,2060.6 1594.8,2062.0 1597.8,2063.4 1600.8,2064.7 1603.8,2066.1 1606.8,2067.4 1609.8,2068.8 1612.8,2070.1 1615.8,2071.4 1618.8,2072.7 1621.8,2074.0 1624.8,2075.3 1627.8,2076.5 1630.8,2077.8 1633.8,2079.1 1636.8,2080.3 1639.8,2081.5 1642.8,2082.8 1645.8,2084.0 1648.8,2085.2 1651.8,2086.4 1654.8,2087.6 1657.8,2088.8 1660.8,2090.0 1663.8,2091.2 1666.8,2092.3 1669.8,2093.5 1672.8,2094.6 1675.8,2095.8 1678.8,2096.9 1681.8,2098.0 1684.8,2099.2 1687.8,2100.3 1690.8,2101.4 1693.8,2102.5 1696.8,2103.6 1699.8,2104.7 1702.8,2105.8 1705.8,2106.8 1708.8,2107.9 1711.8,2109.0 1714.8,2110.0 1717.8,2111.1 1720.8,2112.1 1723.8,2113.2 1726.8,2114.2 1729.8,2115.2 1732.8,2116.2 1735.8,2117.2 1738.8,2118.3 1741.8,2119.3 1744.8,2120.2 1747.8,2121.2 1750.8,2122.2 1753.8,2123.2 1756.8,2124.2 1759.8,2125.1 1762.8,2126.1 1765.8,2127.0 1768.8,2128.0 1771.8,2128.9 1774.8,2129.9 1777.8,2130.8 1780.8,2131.7 1783.8,2132.6 1786.8,2133.6 1789.8,2134.5 1792.8,2135.4 1795.8,2136.3 1798.8,2137.2 1801.8,2138.0 1804.8,2138.9 1807.8,2139.8 1810.8,2140.7 1813.8,2141.5 1816.8,2142.4 1819.8,2143.2 1822.8,2144.1 1825.8,2144.9 1828.8,2145.8 1831.8,2146.6 1834.8,2147.4 1837.8,2148.2 1840.8,2149.1 1843.8,2149.9 1846.8,2150.7 1849.8,2151.5 1852.8,2152.3 1855.8,2153.1 1858.8,2153.8 1861.8,2154.6 1864.8,2155.4 1867.8,2156.2 1870.8,2156.9 1873.8,2157.7 1876.8,2158.5 1879.8,2159.2 1882.8,2160.0 1885.8,2160.7 1888.8,2161.4 1891.8,2162.2 1894.8,2162.9 1897.8,2163.6 1900.8,2164.3 1903.8,2165.0 1906.8,2165.8 1909.8,2166.5 1912.8,2167.2 1915.8,2167.9 1918.8,2168.5 1921.8,2169.2 1924.8,2169.9 1927.8,2170.6 1930.8,2171.3 1933.8,2171.9 1936.8,2172.6 1939.8,2173.3 1942.8,2173.9 1945.8,2174.6 1948.8,2175.2 1951.8,2175.9 1954.8,2176.5 1957.8,2177.1 1960.8,2177.8 1963.8,2178.4 1966.8,2179.0 1969.8,2179.6 1972.8,2180.2 1975.8,2180.8 1978.8,2181.5 1981.8,2182.1 1984.8,2182.7 1987.8,2183.3 1990.8,2183.8 1993.8,2184.4 1996.8,2185.0 1999.8,2185.6 2002.8,2186.2 2005.8,2186.7 2008.8,2187.3 2011.8,2187.9 2014.8,2188.4 2017.8,2189.0 2020.8,2189.6 2023.8,2190.1 2026.8,2190.7 2029.8,2191.2 2032.8,2191.7 2035.8,2192.3 2038.8,2192.8 2041.8,2193.3 2044.8,2193.9 2047.8,2194.4 2050.8,2194.9 2053.8,2195.4 2056.8,2195.9 2059.8,2196.5 2062.8,2197.0 2065.8,2197.5 2068.8,2198.0 2071.8,2198.5 2074.8,2199.0 2077.8,2199.5 2080.8,2199.9 2083.8,2200.4 2086.8,2200.9 2089.8,2201.4 2092.8,2201.9 2095.8,2202.3 2098.8,2202.8 2101.8,2203.3 2104.8,2203.8 2107.8,2204.2 2110.8,2204.7 2113.8,2205.1 2116.8,2205.6 2119.8,2206.0 2122.8,2206.5 2125.8,2206.9 2128.8,2207.4 2131.8,2207.8 2134.8,2208.3 2137.8,2208.7 2140.8,2209.1 2143.8,2209.6 2146.8,2210.0 2149.8,2210.4 2152.8,2210.9 2155.8,2211.3 2158.8,2211.7 2161.8,2212.1 2164.8,2212.5 2167.8,2212.9 2170.8,2213.4 2173.8,2213.8 2176.8,2214.2 2179.8,2214.6 2182.8,2215.0 2185.8,2215.4 2188.8,2215.8 2191.8,2216.2 2194.8,2216.6 2197.8,2217.0 2200.8,2217.4 2203.8,2217.7 2206.8,2218.1 2209.8,2218.5 2212.8,2218.9 2215.8,2219.3 2218.8,2219.7 2221.8,2220.0 2224.8,2220.4 2227.8,2220.8 2230.8,2221.2 2233.8,2221.5 2236.8,2221.9 2239.8,2222.3 2242.8,2222.7 2245.8,2223.0 2248.8,2223.4 2251.8,2223.7 2254.8,2224.1 2257.8,2224.5 2260.8,2224.8 2263.8,2225.2 2266.8,2225.5 2269.8,2225.9 2272.8,2226.2 2275.8,2226.6 2278.8,2226.9 2281.8,2227.3 2284.8,2227.6 2287.8,2228.0 2290.8,2228.3 2293.8,2228.7 2296.8,2229.0 2299.8,2229.4 2302.8,2229.7 2305.8,2230.1 2308.8,2230.4 2311.8,2230.7 2314.8,2231.1 2317.8,2231.4 2320.8,2231.8 2323.8,2232.1 2326.8,2232.4 2328.2,2232.6" stroke="#ff0000"/>
<path d="M502.8,2883.2 505.8,2883.2 508.8,2883.1 511.8,2883.1 514.8,2882.9 517.8,2882.8 520.8,2882.6 523.8,2882.4 526.8,2882.1 529.8,2881.8 532.8,2881.5 535.8,2881.2 538.8,2880.8 541.8,2880.4 544.8,2879.9 547.8,2879.4 550.8,2878.9 553.8,2878.3 556.8,2877.8 559.8,2877.2 562.8,2876.5 565.8,2875.8 568.8,2875.1 571.8,2874.4 574.8,2873.6 577.8,2872.9 580.8,2872.0 583.8,2871.2 586.8,2870.3 589.8,2869.4 592.8,2868.5 595.8,2867.5 598.8,2866.5 601.8,2865.5 604.8,2864.5 607.8,2863.4 610.8,2862.3 613.8,2861.2 616.8,2860.1 619.8,2858.9 622.8,2857.7 625.8,2856.5 628.8,2855.3 631.8,2854.0 634.8,2852.8 637.8,2851.5 640.8,2850.1 643.8,2848.8 646.8,2847.4 649.8,2846.0 652.8,2844.6 655.8,2843.2 658.8,2841.8 661.8,2840.3 664.8,2838.8 667.8,2837.3 670.8,2835.8 673.8,2834.2 676.8,2832.6 679.8,2831.1 682.8,2829.5 685.8,2827.8 688.8,2826.2 691.8,2824.6 694.8,2822.9 697.8,2821.2 700.8,2819.5 703.8,2817.8 706.8,2816.1 709.8,2814.3 712.8,2812.6 715.8,2810.8 718.8,2809.0 721.8,2807.2 724.8,2805.4 727.8,2803.6 730.8,2801.7 733.8,2799.9 736.8,2798.0 739.8,2796.2 742.8,2794.3 745.8,2792.4 748.8,2790.5 751.8,2788.6 754.8,2786.6 757.8,2784.7 760.8,2782.8 763.8,2780.8 766.8,2778.9 769.8,2776.9 772.8,2774.9 775.8,2772.9 778.8,2770.9 781.8,2768.9 784.8,2766.9 787.8,2764.9 790.8,2762.9 793.8,2760.9 796.8,2758.8 799.8,2756.8 802.8,2754.8 805.8,2752.7 808.8,2750.7 811.8,2748.6 814.8,2746.6 817.8,2744.5 820.8,2742.5 823.8,2740.4 826.8,2738.3 829.8,2736.3 832.8,2734.2 835.8,2732.1 838.8,2730.1 841.8,2728.0 844.8,2725.9 847.8,2723.9 850.8,2721.8 853.8,2719.7 856.8,2717.7 859.8,2715.6 862.8,2713.5 865.8,2711.4 868.8,2709.4 871.8,2707.3 874.8,2705.2 877.8,2703.1 880.8,2701.1 883.8,2699.0 886.8,2696.9 889.8,2694.8 892.8,2692.8 895.8,2690.7 898.8,2688.6 901.8,2686.5 904.8,2684.5 907.8,2682.4 910.8,2680.3 913.8,2678.2 916.8,2676.2 919.8,2674.1 922.8,2672.0 925.8,2670.0 928.8,2667.9 931.8,2665.8 934.8,2663.8 937.8,2661.7 940.8,2659.6 943.8,2657.6 946.8,2655.5 949.8,2653.5 952.8,2651.4 955.8,2649.3 958.8,2647.3 961.8,2645.2 964.8,2643.2 967.8,2641.1 970.8,2639.1 973.8,2637.0 976.8,2635.0 979.8,2632.9 982.8,2630.9 985.8,2628.8 988.8,2626.8 991.8,2624.8 994.8,2622.7 997.8,2620.7 1000.8,2618.7 1003.8,2616.7 1006.8,2614.6 1009.8,2612.6 1012.8,2610.6 1015.8,2608.6 1018.8,2606.6 1021.8,2604.5 1024.8,2602.5 1027.8,2600.5 1030.8,2598.5 1033.8,2596.5 1036.8,2594.5 1039.8,2592.5 1042.8,2590.6 1045.8,2588.6 1048.8,2586.6 1051.8,2584.6 1054.8,2582.6 1057.8,2580.7 1060.8,2578.7 1063.8,2576.7 1066.8,2574.8 1069.8,2572.8 1072.8,2570.8 1075.8,2568.9 1078.8,2566.9 1081.8,2565.0 1084.8,2563.1 1087.8,2561.1 1090.8,2559.2 1093.8,2557.3 1096.8,2555.3 1099.8,2553.4 1102.8,2551.5 1105.8,2549.6 1108.8,2547.7 1111.8,2545.8 1114.8,2543.9 1117.8,2542.0 1120.8,2540.1 1123.8,2538.2 1126.8,2536.4 1129.8,2534.5 1132.8,2532.6 1135.8,2530.8 1138.8,2528.9 1141.8,2527.1 1144.8,2525.2 1147.8,2523.4 1150.8,2521.5 1153.8,2519.7 1156.8,2517.9 1159.8,2516.1 1162.8,2514.2 1165.8,2512.4 1168.8,2510.6 1171.8,2508.8 1174.8,2507.1 1177.8,2505.3 1180.8,2503.5 1183.8,2501.7 1186.8,2500.0 1189.8,2498.2 1192.8,2496.5 1195.8,2494.7 1198.8,2493.0 1201.8,2491.2 1204.8,2489.5 1207.8,2487.8 1210.8,2486.1 1213.8,2484.4 1216.8,2482.7 1219.8,2481.0 1222.8,2479.3 1225.8,2477.7 1228.8,2476.0 1231.8,2474.4 1234.8,2472.7 1237.8,2471.1 1240.8,2469.4 1243.8,2467.8 1246.8,2466.2 1249.8,2464.6 1252.8,2463.0 1255.8,2461.4 1258.8,2459.8 1261.8,2458.2 1264.8,2456.7 1267.8,2455.1 1270.8,2453.6 1273.8,2452.0 1276.8,2450.5 1279.8,2449.0 1282.8,2447.5 1285.8,2446.0 1288.8,2444.5 1291.8,2443.0 1294.8,2441.5 1297.8,2440.1 1300.8,2438.6 1303.8,2437.2 1306.8,2435.8 1309.8,2434.3 1312.8,2432.9 1315.8,2431.5 1318.8,2430.1 1321.8,2428.7 1324.8,2427.4 1327.8,2426.0 1330.8,2424.7 1333.8,2423.3 1336.8,2422.0 1339.8,2420.7 1342.8,2419.4 1345.8,2418.1 1348.8,2416.8 1351.8,2415.5 1354.8,2414.3 1357.8,2413.0 1360.8,2411.8 1363.8,2410.6 1366.8,2409.3 1369.8,2408.1 1372.8,2406.9 1375.8,2405.8 1378.8,2404.6 1381.8,2403.4 1384.8,2402.3 1387.8,2401.2 1390.8,2400.1 1393.8,2398.9 1396.8,2397.9 1399.8,2396.8 1402.8,2395.7 1405.8,2394.7 1408.8,2393.6 1411.8,2392.6 1414.8,2391.6 1417.8,2390.6 1420.8,2389.6 1423.8,2388.6 1426.8,2387.6 1429.8,2386.7 1432.8,2385.8 1435.8,2384.8 1438.8,2383.9 1441.8,2383.0 1444.8,2382.1 1447.8,2381.3 1450.8,2380.4 1453.8,2379.6 1456.8,2378.8 1459.8,2378.0 1462.8,2377.2 1465.8,2376.4 1468.8,2375.6 1471.8,2374.9 1474.8,2374.1 1477.8,2373.4 1480.8,2372.7 1483.8,2372.0 1486.8,2371.3 1489.8,2370.6 1492.8,2370.0 1495.8,2369.3 1498.8,2368.7 1501.8,2368.1 1504.8,2367.4 1507.8,2366.8 1510.8,2366.3 1513.8,2365.7 1516.8,2365.1 1519.8,2364.5 1522.8,2364.0 1525.8,2363.5 1528.8,2362.9 1531.8,2362.4 1534.8,2361.9 1537.8,2361.4 1540.8,2360.9 1543.8,2360.5 1546.8,2360.0 1549.8,2359.5 1552.8,2359.1 1555.8,2358.6 1558.8,2358.2 1561.8,2357.8 1564.8,2357.3 1567.8,2356.9 1570.8,2356.5 1573.8,2356.1 1576.8,2355.7 1579.8,2355.3 1582.8,2355.0 1585.8,2354.6 1588.8,2354.2 1591.8,2353.9 1594.8,2353.5 1597.8,2353.2 1600.8,2352.8 1603.8,2352.5 1606.8,2352.2 1609.8,2351.8 1612.8,2351.5 1615.8,2351.2 1618.8,2350.9 1621.8,2350.6 1624.8,2350.3 1627.8,2350.0 1630.8,2349.7 1633.8,2349.4 1636.8,2349.1 1639.8,2348.8 1642.8,2348.5 1645.8,2348.3 1648.8,2348.0 1651.8,2347.7 1654.8,2347.5 1657.8,2347.2 1660.8,2346.9 1663.8,2346.7 1666.8,2346.4 1669.8,2346.2 1672.8,2345.9 1675.8,2345.7 1678.8,2345.5 1681.8,2345.2 1684.8,2345.0 1687.8,2344.8 1690.8,2344.6 1693.8,2344.4 1696.8,2344.1 1699.8,2343.9 1702.8,2343.7 1705.8,2343.5 1708.8,2343.3 1711.8,2343.1 1714.8,2342.9 1717.8,2342.8 1720.8,2342.6 1723.8,2342.4 1726.8,2342.2 1729.8,2342.0 1732.8,2341.9 1735.8,2341.7 1738.8,2341.5 1741.8,2341.4 1744.8,2341.2 1747.8,2341.0 1750.8,2340.9 1753.8,2340.7 1756.8,2340.6 1759.8,2340.4 1762.8,2340.3 1765.8,2340.2 1768.8,2340.0 1771.8,2339.9 1774.8,2339.8 1777.8,2339.6 1780.8,2339.5 1783.8,2339.4 1786.8,2339.2 1789.8,2339.1 1792.8,2339.0 1795.8,2338.9 1798.8,2338.8 1801.8,2338.7 1804.8,2338.6 1807.8,2338.5 1810.8,2338.4 1813.8,2338.3 1816.8,2338.2 1819.8,2338.1 1822.8,2338.0 1825.8,2337.9 1828.8,2337.8 1831.8,2337.7 1834.8,2337.6 1837.8,2337.6 1840.8,2337.5 1843.8,2337.4 1846.8,2337.3 1849.8,2337.3 1852.8,2337.2 1855.8,2337.1 1858.8,2337.1 1861.8,2337.0 1864.8,2336.9 1867.8,2336.9 1870.8,2336.8 1873.8,2336.7 1876.8,2336.7 1879.8,2336.6 1882.8,2336.6 1885.8,2336.5 1888.8,2336.5 1891.8,2336.4 1894.8,2336.4 1897.8,2336.3 1900.8,2336.3 1903.8,2336.3 1906.8,2336.2 1909.8,2336.2 1912.8,2336.1 1915.8,2336.1 1918.8,2336.1 1921.8,2336.0 1924.8,2336.0 1927.8,2336.0 1930.8,2336.0 1933.8,2335.9 1936.8,2335.9 1939.8,2335.9 1942.8,2335.9 1945.8,2335.8 1948.8,2335.8 1951.8,2335.8 1954.8,2335.8 1957.8,2335.7 1960.8,2335.7 1963.8,2335.7 1966.8,2335.7 1969.8,2335.7 1972.8,2335.7 1975.8,2335.6 1978.8,2335.6 1981.8,2335.6 1984.8,2335.6 1987.8,2335.6 1990.8,2335.6 1993.8,2335.6 1996.8,2335.6 1999.8,2335.6 2002.8,2335.6 2005.8,2335.6 2008.8,2335.5 2011.8,2335.5 2014.8,2335.5 2017.8,2335.5 2020.8,2335.5 2023.8,2335.5 2026.8,2335.5 2029.8,2335.5 2032.8,2335.5 2035.8,2335.5 2038.8,2335.5 2041.8,2335.5 2044.8,2335.5 2047.8,2335.5 2050.8,2335.5 2053.8,2335.5 2056.8,2335.5 2059.8,2335.5 2062.8,2335.5 2065.8,2335.5 2068.8,2335.5 2071.8,2335.5 2074.8,2335.5 2077.8,2335.5 2080.8,2335.5 2083.8,2335.5 2086.8,2335.4 2089.8,2335.4 2092.8,2335.4 2095.8,2335.4 2098.8,2335.4 2101.8,2335.4 2104.8,2335.4 2107.8,2335.4 2110.8,2335.4 2113.8,2335.4 2116.8,2335.4 2119.8,2335.4 2122.8,2335.4 2125.8,2335.4 2128.8,2335.4 2131.8,2335.3 2134.8,2335.3 2137.8,2335.3 2140.8,2335.3 2143.8,2335.3 2146.8,2335.3 2149.8,2335.3 2152.8,2335.2 2155.8,2335.2 2158.8,2335.2 2161.8,2335.2 2164.8,2335.2 2167.8,2335.1 2170.8,2335.1 2173.8,2335.1 2176.8,2335.1 2179.8,2335.0 2182.8,2335.0 2185.8,2335.0 2188.8,2335.0 2191.8,2334.9 2194.8,2334.9 2197.8,2334.9 2200.8,2334.8 2203.8,2334.8 2206.8,2334.8 2209.8,2334.7 2212.8,2334.7 2215.8,2334.6 2218.8,2334.6 2221.8,2334.5 2224.8,2334.5 2227.8,2334.4 2230.8,2334.4 2233.8,2334.3 2236.8,2334.3 2239.8,2334.2 2242.8,2334.2 2245.8,2334.1 2248.8,2334.1 2251.8,2334.0 2254.8,2333.9 2257.8,2333.9 2260.8,2333.8 2263.8,2333.7 2266.8,2333.7 2269.8,2333.6 2272.8,2333.5 2275.8,2333.4 2278.8,2333.4 2281.8,2333.3 2284.8,2333.2 2287.8,2333.1 2290.8,2333.0 2293.8,2332.9 2296.8,2332.8 2299.8,2332.7 2302.8,2332.6 2305.8,2332.5 2308.8,2332.4 2311.8,2332.3 2314.8,2332.2 2317.8,2332.1 2320.8,2332.0 2323.8,2331.9 2326.8,2331.8 2328.2,2331.7" stroke="#ff0000" stroke-dasharray="17 23.13"/>
<path d="M502.8,1956.4 505.8,1956.4 508.8,1956.4 511.8,1956.3 514.8,1956.2 517.8,1956.0 520.8,1955.8 523.8,1955.6 526.8,1955.3 529.8,1955.0 532.8,1954.6 535.8,1954.3 538.8,1953.9 541.8,1953.4 544.8,1953.0 547.8,1952.5 550.8,1951.9 553.8,1951.4 556.8,1950.8 559.8,1950.1 562.8,1949.5 565.8,1948.8 568.8,1948.1 571.8,1947.3 574.8,1946.6 577.8,1945.8 580.8,1945.0 583.8,1944.1 586.8,1943.2 589.8,1942.3 592.8,1941.4 595.8,1940.5 598.8,1939.5 601.8,1938.5 604.8,1937.5 607.8,1936.5 610.8,1935.4 613.8,1934.4 616.8,1933.3 619.8,1932.1 622.8,1931.0 625.8,1929.9 628.8,1928.7 631.8,1927.5 634.8,1926.3 637.8,1925.1 640.8,1923.8 643.8,1922.6 646.8,1921.3 649.8,1920.0 652.8,1918.7 655.8,1917.4 658.8,1916.1 661.8,1914.8 664.8,1913.4 667.8,1912.1 670.8,1910.7 673.8,1909.3 676.8,1907.9 679.8,1906.5 682.8,1905.1 685.8,1903.7 688.8,1902.3 691.8,1900.9 694.8,1899.4 697.8,1898.0 700.8,1896.5 703.8,1895.1 706.8,1893.6 709.8,1892.2 712.8,1890.7 715.8,1889.2 718.8,1887.8 721.8,1886.3 724.8,1884.8 727.8,1883.3 730.8,1881.8 733.8,1880.4 736.8,1878.9 739.8,1877.4 742.8,1875.9 745.8,1874.5 748.8,1873.0 751.8,1871.5 754.8,1870.1 757.8,1868.6 760.8,1867.1 763.8,1865.7 766.8,1864.3 769.8,1862.8 772.8,1861.4 775.8,1860.0 778.8,1858.5 781.8,1857.1 784.8,1855.7 787.8,1854.3 790.8,1853.0 793.8,1851.6 796.8,1850.2 799.8,1848.9 802.8,1847.5 805.8,1846.2 808.8,1844.9 811.8,1843.6 814.8,1842.3 817.8,1841.0 820.8,1839.8 823.8,1838.5 826.8,1837.3 829.8,1836.1 832.8,1834.9 835.8,1833.7 838.8,1832.6 841.8,1831.4 844.8,1830.3 847.8,1829.2 850.8,1828.1 853.8,1827.0 856.8,1826.0 859.8,1825.0 862.8,1824.0 865.8,1823.0 868.8,1822.1 871.8,1821.1 874.8,1820.2 877.8,1819.3 880.8,1818.5 883.8,1817.7 886.8,1816.8 889.8,1816.1 892.8,1815.3 895.8,1814.6 898.8,1813.9 901.8,1813.2 904.8,1812.6 907.8,1812.0 910.8,1811.4 913.8,1810.9 916.8,1810.3 919.8,1809.8 922.8,1809.4 925.8,1808.9 928.8,1808.5 931.8,1808.1 934.8,1807.8 937.8,1807.4 940.8,1807.1 943.8,1806.9 946.8,1806.6 949.8,1806.4 952.8,1806.2 955.8,1806.0 958.8,1805.9 961.8,1805.8 964.8,1805.7 967.8,1805.6 970.8,1805.6 973.8,1805.6 976.8,1805.6 979.8,1805.6 982.8,1805.7 985.8,1805.8 988.8,1805.9 991.8,1806.0 994.8,1806.2 997.8,1806.4 1000.8,1806.6 1003.8,1806.8 1006.8,1807.1 1009.8,1807.4 1012.8,1807.7 1015.8,1808.0 1018.8,1808.4 1021.8,1808.8 1024.8,1809.2 1027.8,1809.6 1030.8,1810.1 1033.8,1810.6 1036.8,1811.1 1039.8,1811.6 1042.8,1812.2 1045.8,1812.7 1048.8,1813.3 1051.8,1813.9 1054.8,1814.6 1057.8,1815.3 1060.8,1815.9 1063.8,1816.6 1066.8,1817.4 1069.8,1818.1 1072.8,1818.9 1075.8,1819.7 1078.8,1820.5 1081.8,1821.4 1084.8,1822.2 1087.8,1823.1 1090.8,1824.0 1093.8,1824.9 1096.8,1825.9 1099.8,1826.8 1102.8,1827.8 1105.8,1828.8 1108.8,1829.9 1111.8,1830.9 1114.8,1832.0 1117.8,1833.1 1120.8,1834.2 1123.8,1835.4 1126.8,1836.6 1129.8,1837.8 1132.8,1839.0 1135.8,1840.2 1138.8,1841.5 1141.8,1842.8 1144.8,1844.1 1147.8,1845.4 1150.8,1846.8 1153.8,1848.2 1156.8,1849.6 1159.8,1851.1 1162.8,1852.5 1165.8,1854.0 1168.8,1855.6 1171.8,1857.1 1174.8,1858.7 1177.8,1860.3 1180.8,1861.9 1183.8,1863.6 1186.8,1865.3 1189.8,1867.0 1192.8,1868.7 1195.8,1870.5 1198.8,1872.3 1201.8,1874.1 1204.8,1876.0 1207.8,1877.8 1210.8,1879.7 1213.8,1881.6 1216.8,1883.5 1219.8,1885.4 1222.8,1887.3 1225.8,1889.3 1228.8,1891.2 1231.8,1893.1 1234.8,1895.1 1237.8,1897.0 1240.8,1899.0 1243.8,1900.9 1246.8,1902.8 1249.8,1904.8 1252.8,1906.7 1255.8,1908.6 1258.8,1910.5 1261.8,1912.4 1264.8,1914.4 1267.8,1916.3 1270.8,1918.2 1273.8,1920.1 1276.8,1922.0 1279.8,1923.9 1282.8,1925.8 1285.8,1927.7 1288.8,1929.6 1291.8,1931.5 1294.8,1933.4 1297.8,1935.3 1300.8,1937.2 1303.8,1939.0 1306.8,1940.9 1309.8,1942.8 1312.8,1944.7 1315.8,1946.6 1318.8,1948.5 1321.8,1950.4 1324.8,1952.2 1327.8,1954.1 1330.8,1956.0 1333.8,1957.9 1336.8,1959.8 1339.8,1961.6 1342.8,1963.5 1345.8,1965.4 1348.8,1967.3 1351.8,1969.1 1354.8,1971.0 1357.8,1972.8 1360.8,1974.7 1363.8,1976.5 1366.8,1978.3 1369.8,1980.2 1372.8,1982.0 1375.8,1983.8 1378.8,1985.6 1381.8,1987.4 1384.8,1989.2 1387.8,1991.0 1390.8,1992.7 1393.8,1994.5 1396.8,1996.2 1399.8,1998.0 1402.8,1999.7 1405.8,2001.4 1408.8,2003.1 1411.8,2004.8 1414.8,2006.5 1417.8,2008.2 1420.8,2009.8 1423.8,2011.5 1426.8,2013.1 1429.8,2014.8 1432.8,2016.4 1435.8,2018.0 1438.8,2019.6 1441.8,2021.2 1444.8,2022.7 1447.8,2024.3 1450.8,2025.9 1453.8,2027.4 1456.8,2029.0 1459.8,2030.5 1462.8,2032.0 1465.8,2033.5 1468.8,2035.0 1471.8,2036.5 1474.8,2038.0 1477.8,2039.5 1480.8,2040.9 1483.8,2042.4 1486.8,2043.9 1489.8,2045.3 1492.8,2046.7 1495.8,2048.1 1498.8,2049.6 1501.8,2051.0 1504.8,2052.4 1507.8,2053.8 1510.8,2055.1 1513.8,2056.5 1516.8,2057.9 1519.8,2059.2 1522.8,2060.6 1525.8,2061.9 1528.8,2063.3 1531.8,2064.6 1534.8,2065.9 1537.8,2067.3 1540.8,2068.6 1543.8,2069.9 1546.8,2071.2 1549.8,2072.5 1552.8,2073.7 1555.8,2075.0 1558.8,2076.3 1561.8,2077.5 1564.8,2078.8 1567.8,2080.0 1570.8,2081.3 1573.8,2082.5 1576.8,2083.8 1579.8,2085.0 1582.8,2086.2 1585.8,2087.4 1588.8,2088.6 1591.8,2089.8 1594.8,2091.0 1597.8,2092.2 1600.8,2093.3 1603.8,2094.5 1606.8,2095.7 1609.8,2096.8 1612.8,2097.9 1615.8,2099.1 1618.8,2100.2 1621.8,2101.3 1624.8,2102.5 1627.8,2103.6 1630.8,2104.7 1633.8,2105.8 1636.8,2106.9 1639.8,2108.0 1642.8,2109.0 1645.8,2110.1 1648.8,2111.2 1651.8,2112.2 1654.8,2113.3 1657.8,2114.3 1660.8,2115.3 1663.8,2116.4 1666.8,2117.4 1669.8,2118.4 1672.8,2119.4 1675.8,2120.4 1678.8,2121.4 1681.8,2122.4 1684.8,2123.4 1687.8,2124.4 1690.8,2125.3 1693.8,2126.3 1696.8,2127.2 1699.8,2128.2 1702.8,2129.1 1705.8,2130.1 1708.8,2131.0 1711.8,2131.9 1714.8,2132.8 1717.8,2133.7 1720.8,2134.6 1723.8,2135.5 1726.8,2136.4 1729.8,2137.3 1732.8,2138.2 1735.8,2139.0 1738.8,2139.9 1741.8,2140.7 1744.8,2141.6 1747.8,2142.4 1750.8,2143.3 1753.8,2144.1 1756.8,2144.9 1759.8,2145.7 1762.8,2146.6 1765.8,2147.4 1768.8,2148.2 1771.8,2149.0 1774.8,2149.8 1777.8,2150.5 1780.8,2151.3 1783.8,2152.1 1786.8,2152.9 1789.8,2153.6 1792.8,2154.4 1795.8,2155.1 1798.8,2155.9 1801.8,2156.6 1804.8,2157.4 1807.8,2158.1 1810.8,2158.8 1813.8,2159.5 1816.8,2160.2 1819.8,2161.0 1822.8,2161.7 1825.8,2162.4 1828.8,2163.1 1831.8,2163.8 1834.8,2164.4 1837.8,2165.1 1840.8,2165.8 1843.8,2166.5 1846.8,2167.2 1849.8,2167.8 1852.8,2168.5 1855.8,2169.1 1858.8,2169.8 1861.8,2170.4 1864.8,2171.1 1867.8,2171.7 1870.8,2172.4 1873.8,2173.0 1876.8,2173.6 1879.8,2174.2 1882.8,2174.9 1885.8,2175.5 1888.8,2176.1 1891.8,2176.7 1894.8,2177.3 1897.8,2177.9 1900.8,2178.5 1903.8,2179.1 1906.8,2179.7 1909.8,2180.3 1912.8,2180.9 1915.8,2181.5 1918.8,2182.0 1921.8,2182.6 1924.8,2183.2 1927.8,2183.8 1930.8,2184.3 1933.8,2184.9 1936.8,2185.4 1939.8,2186.0 1942.8,2186.6 1945.8,2187.1 1948.8,2187.7 1951.8,2188.2 1954.8,2188.8 1957.8,2189.3 1960.8,2189.8 1963.8,2190.4 1966.8,2190.9 1969.8,2191.4 1972.8,2192.0 1975.8,2192.5 1978.8,2193.0 1981.8,2193.5 1984.8,2194.1 1987.8,2194.6 1990.8,2195.1 1993.8,2195.6 1996.8,2196.1 1999.8,2196.6 2002.8,2197.2 2005.8,2197.7 2008.8,2198.2 2011.8,2198.7 2014.8,2199.2 2017.8,2199.7 2020.8,2200.2 2023.8,2200.7 2026.8,2201.2 2029.8,2201.7 2032.8,2202.2 2035.8,2202.7 2038.8,2203.2 2041.8,2203.7 2044.8,2204.1 2047.8,2204.6 2050.8,2205.1 2053.8,2205.6 2056.8,2206.1 2059.8,2206.6 2062.8,2207.1 2065.8,2207.5 2068.8,2208.0 2071.8,2208.5 2074.8,2209.0 2077.8,2209.4 2080.8,2209.9 2083.8,2210.4 2086.8,2210.8 2089.8,2211.3 2092.8,2211.8 2095.8,2212.2 2098.8,2212.7 2101.8,2213.1 2104.8,2213.6 2107.8,2214.1 2110.8,2214.5 2113.8,2215.0 2116.8,2215.4 2119.8,2215.8 2122.8,2216.3 2125.8,2216.7 2128.8,2217.2 2131.8,2217.6 2134.8,2218.0 2137.8,2218.5 2140.8,2218.9 2143.8,2219.3 2146.8,2219.7 2149.8,2220.1 2152.8,2220.6 2155.8,2221.0 2158.8,2221.4 2161.8,2221.8 2164.8,2222.2 2167.8,2222.6 2170.8,2223.0 2173.8,2223.4 2176.8,2223.8 2179.8,2224.2 2182.8,2224.6 2185.8,2225.0 2188.8,2225.3 2191.8,2225.7 2194.8,2226.1 2197.8,2226.5 2200.8,2226.8 2203.8,2227.2 2206.8,2227.6 2209.8,2227.9 2212.8,2228.3 2215.8,2228.6 2218.8,2229.0 2221.8,2229.3 2224.8,2229.7 2227.8,2230.0 2230.8,2230.3 2233.8,2230.7 2236.8,2231.0 2239.8,2231.3 2242.8,2231.6 2245.8,2231.9 2248.8,2232.3 2251.8,2232.6 2254.8,2232.9 2257.8,2233.2 2260.8,2233.5 2263.8,2233.8 2266.8,2234.0 2269.8,2234.3 2272.8,2234.6 2275.8,2234.9 2278.8,2235.1 2281.8,2235.4 2284.8,2235.7 2287.8,2235.9 2290.8,2236.2 2293.8,2236.4 2296.8,2236.7 2299.8,2236.9 2302.8,2237.2 2305.8,2237.4 2308.8,2237.6 2311.8,2237.8 2314.8,2238.1 2317.8,2238.3 2320.8,2238.5 2323.8,2238.7 2326.8,2238.9 2328.2,2239.0" stroke="#0000ff"/>
<path d="M502.8,1957.5 505.8,1957.4 508.8,1957.4 511.8,1957.4 514.8,1957.4 517.8,1957.3 520.8,1957.2 523.8,1957.2 526.8,1957.1 529.8,1957.0 532.8,1956.9 535.8,1956.8 538.8,1956.7 541.8,1956.6 544.8,1956.5 547.8,1956.3 550.8,1956.2 553.8,1956.0 556.8,1955.9 559.8,1955.7 562.8,1955.5 565.8,1955.4 568.8,1955.2 571.8,1955.0 574.8,1954.8 577.8,1954.6 580.8,1954.4 583.8,1954.2 586.8,1954.0 589.8,1953.8 592.8,1953.6 595.8,1953.3 598.8,1953.1 601.8,1952.9 604.8,1952.6 607.8,1952.4 610.8,1952.1 613.8,1951.9 616.8,1951.6 619.8,1951.4 622.8,1951.1 625.8,1950.9 628.8,1950.6 631.8,1950.3 634.8,1950.1 637.8,1949.8 640.8,1949.5 643.8,1949.2 646.8,1949.0 649.8,1948.7 652.8,1948.4 655.8,1948.2 658.8,1947.9 661.8,1947.6 664.8,1947.3 667.8,1947.0 670.8,1946.8 673.8,1946.5 676.8,1946.2 679.8,1945.9 682.8,1945.7 685.8,1945.4 688.8,1945.1 691.8,1944.9 694.8,1944.6 697.8,1944.3 700.8,1944.1 703.8,1943.8 706.8,1943.5 709.8,1943.3 712.8,1943.0 715.8,1942.8 718.8,1942.5 721.8,1942.3 724.8,1942.0 727.8,1941.8 730.8,1941.6 733.8,1941.4 736.8,1941.1 739.8,1940.9 742.8,1940.7 745.8,1940.5 748.8,1940.3 751.8,1940.1 754.8,1939.9 757.8,1939.7 760.8,1939.5 763.8,1939.4 766.8,1939.2 769.8,1939.0 772.8,1938.9 775.8,1938.7 778.8,1938.6 781.8,1938.4 784.8,1938.3 787.8,1938.2 790.8,1938.1 793.8,1938.0 796.8,1937.9 799.8,1937.8 802.8,1937.7 805.8,1937.6 808.8,1937.6 811.8,1937.5 814.8,1937.5 817.8,1937.4 820.8,1937.4 823.8,1937.4 826.8,1937.4 829.8,1937.4 832.8,1937.4 835.8,1937.5 838.8,1937.5 841.8,1937.5 844.8,1937.6 847.8,1937.7 850.8,1937.7 853.8,1937.8 856.8,1937.9 859.8,1938.0 862.8,1938.1 865.8,1938.3 868.8,1938.4 871.8,1938.6 874.8,1938.7 877.8,1938.9 880.8,1939.1 883.8,1939.3 886.8,1939.5 889.8,1939.8 892.8,1940.0 895.8,1940.2 898.8,1940.5 901.8,1940.8 904.8,1941.1 907.8,1941.4 910.8,1941.7 913.8,1942.0 916.8,1942.3 919.8,1942.7 922.8,1943.1 925.8,1943.4 928.8,1943.8 931.8,1944.2 934.8,1944.7 937.8,1945.1 940.8,1945.5 943.8,1946.0 946.8,1946.5 949.8,1947.0 952.8,1947.5 955.8,1948.0 958.8,1948.5 961.8,1949.1 964.8,1949.6 967.8,1950.2 970.8,1950.8 973.8,1951.4 976.8,1952.0 979.8,1952.7 982.8,1953.3 985.8,1954.0 988.8,1954.7 991.8,1955.4 994.8,1956.1 997.8,1956.8 1000.8,1957.6 1003.8,1958.4 1006.8,1959.1 1009.8,1959.9 1012.8,1960.7 1015.8,1961.6 1018.8,1962.4 1021.8,1963.2 1024.8,1964.1 1027.8,1965.0 1030.8,1965.9 1033.8,1966.8 1036.8,1967.7 1039.8,1968.7 1042.8,1969.6 1045.8,1970.6 1048.8,1971.6 1051.8,1972.5 1054.8,1973.5 1057.8,1974.6 1060.8,1975.6 1063.8,1976.6 1066.8,1977.7 1069.8,1978.8 1072.8,1979.8 1075.8,1980.9 1078.8,1982.0 1081.8,1983.1 1084.8,1984.3 1087.8,1985.4 1090.8,1986.6 1093.8,1987.7 1096.8,1988.9 1099.8,1990.1 1102.8,1991.3 1105.8,1992.5 1108.8,1993.7 1111.8,1994.9 1114.8,1996.1 1117.8,1997.4 1120.8,1998.6 1123.8,1999.9 1126.8,2001.2 1129.8,2002.5 1132.8,2003.8 1135.8,2005.1 1138.8,2006.4 1141.8,2007.7 1144.8,2009.0 1147.8,2010.4 1150.8,2011.7 1153.8,2013.1 1156.8,2014.4 1159.8,2015.8 1162.8,2017.2 1165.8,2018.6 1168.8,2020.0 1171.8,2021.4 1174.8,2022.8 1177.8,2024.2 1180.8,2025.6 1183.8,2027.1 1186.8,2028.5 1189.8,2030.0 1192.8,2031.4 1195.8,2032.9 1198.8,2034.3 1201.8,2035.8 1204.8,2037.3 1207.8,2038.8 1210.8,2040.3 1213.8,2041.7 1216.8,2043.2 1219.8,2044.7 1222.8,2046.2 1225.8,2047.7 1228.8,2049.3 1231.8,2050.8 1234.8,2052.3 1237.8,2053.8 1240.8,2055.3 1243.8,2056.8 1246.8,2058.3 1249.8,2059.8 1252.8,2061.4 1255.8,2062.9 1258.8,2064.4 1261.8,2065.9 1264.8,2067.4 1267.8,2068.9 1270.8,2070.4 1273.8,2071.9 1276.8,2073.4 1279.8,2074.9 1282.8,2076.4 1285.8,2077.9 1288.8,2079.4 1291.8,2080.8 1294.8,2082.3 1297.8,2083.8 1300.8,2085.2 1303.8,2086.7 1306.8,2088.1 1309.8,2089.6 1312.8,2091.0 1315.8,2092.4 1318.8,2093.8 1321.8,2095.2 1324.8,2096.6 1327.8,2098.0 1330.8,2099.4 1333.8,2100.8 1336.8,2102.1 1339.8,2103.5 1342.8,2104.8 1345.8,2106.2 1348.8,2107.5 1351.8,2108.8 1354.8,2110.2 1357.8,2111.5 1360.8,2112.8 1363.8,2114.1 1366.8,2115.4 1369.8,2116.7 1372.8,2117.9 1375.8,2119.2 1378.8,2120.5 1381.8,2121.7 1384.8,2123.0 1387.8,2124.2 1390.8,2125.5 1393.8,2126.7 1396.8,2127.9 1399.8,2129.2 1402.8,2130.4 1405.8,2131.6 1408.8,2132.8 1411.8,2134.0 1414.8,2135.2 1417.8,2136.4 1420.8,2137.6 1423.8,2138.7 1426.8,2139.9 1429.8,2141.1 1432.8,2142.2 1435.8,2143.4 1438.8,2144.5 1441.8,2145.7 1444.8,2146.8 1447.8,2148.0 1450.8,2149.1 1453.8,2150.2 1456.8,2151.4 1459.8,2152.5 1462.8,2153.6 1465.8,2154.7 1468.8,2155.8 1471.8,2156.9 1474.8,2158.0 1477.8,2159.1 1480.8,2160.2 1483.8,2161.2 1486.8,2162.3 1489.8,2163.4 1492.8,2164.4 1495.8,2165.5 1498.8,2166.5 1501.8,2167.5 1504.8,2168.6 1507.8,2169.6 1510.8,2170.6 1513.8,2171.6 1516.8,2172.6 1519.8,2173.6 1522.8,2174.6 1525.8,2175.6 1528.8,2176.5 1531.8,2177.5 1534.8,2178.5 1537.8,2179.4 1540.8,2180.4 1543.8,2181.3 1546.8,2182.2 1549.8,2183.1 1552.8,2184.1 1555.8,2185.0 1558.8,2185.8 1561.8,2186.7 1564.8,2187.6 1567.8,2188.5 1570.8,2189.3 1573.8,2190.2 1576.8,2191.0 1579.8,2191.9 1582.8,2192.7 1585.8,2193.5 1588.8,2194.3 1591.8,2195.1 1594.8,2195.9 1597.8,2196.7 1600.8,2197.4 1603.8,2198.2 1606.8,2198.9 1609.8,2199.7 1612.8,2200.4 1615.8,2201.1 1618.8,2201.8 1621.8,2202.5 1624.8,2203.2 1627.8,2203.9 1630.8,2204.6 1633.8,2205.2 1636.8,2205.9 1639.8,2206.5 1642.8,2207.2 1645.8,2207.8 1648.8,2208.5 1651.8,2209.1 1654.8,2209.7 1657.8,2210.3 1660.8,2210.9 1663.8,2211.5 1666.8,2212.1 1669.8,2212.7 1672.8,2213.3 1675.8,2213.9 1678.8,2214.4 1681.8,2215.0 1684.8,2215.6 1687.8,2216.1 1690.8,2216.7 1693.8,2217.3 1696.8,2217.8 1699.8,2218.4 1702.8,2218.9 1705.8,2219.5 1708.8,2220.0 1711.8,2220.6 1714.8,2221.1 1717.8,2221.6 1720.8,2222.2 1723.8,2222.7 1726.8,2223.2 1729.8,2223.7 1732.8,2224.3 1735.8,2224.8 1738.8,2225.3 1741.8,2225.8 1744.8,2226.3 1747.8,2226.8 1750.8,2227.3 1753.8,2227.8 1756.8,2228.3 1759.8,2228.8 1762.8,2229.3 1765.8,2229.8 1768.8,2230.3 1771.8,2230.7 1774.8,2231.2 1777.8,2231.7 1780.8,2232.2 1783.8,2232.6 1786.8,2233.1 1789.8,2233.6 1792.8,2234.0 1795.8,2234.5 1798.8,2234.9 1801.8,2235.4 1804.8,2235.8 1807.8,2236.3 1810.8,2236.7 1813.8,2237.2 1816.8,2237.6 1819.8,2238.1 1822.8,2238.5 1825.8,2238.9 1828.8,2239.3 1831.8,2239.8 1834.8,2240.2 1837.8,2240.6 1840.8,2241.0 1843.8,2241.4 1846.8,2241.9 1849.8,2242.3 1852.8,2242.7 1855.8,2243.1 1858.8,2243.5 1861.8,2243.9 1864.8,2244.3 1867.8,2244.7 1870.8,2245.1 1873.8,2245.5 1876.8,2245.8 1879.8,2246.2 1882.8,2246.6 1885.8,2247.0 1888.8,2247.4 1891.8,2247.7 1894.8,2248.1 1897.8,2248.5 1900.8,2248.8 1903.8,2249.2 1906.8,2249.6 1909.8,2249.9 1912.8,2250.3 1915.8,2250.6 1918.8,2251.0 1921.8,2251.3 1924.8,2251.7 1927.8,2252.0 1930.8,2252.4 1933.8,2252.7 1936.8,2253.1 1939.8,2253.4 1942.8,2253.7 1945.8,2254.1 1948.8,2254.4 1951.8,2254.7 1954.8,2255.0 1957.8,2255.4 1960.8,2255.7 1963.8,2256.0 1966.8,2256.3 1969.8,2256.6 1972.8,2257.0 1975.8,2257.3 1978.8,2257.6 1981.8,2257.9 1984.8,2258.2 1987.8,2258.5 1990.8,2258.8 1993.8,2259.1 1996.8,2259.4 1999.8,2259.7 2002.8,2260.0 2005.8,2260.2 2008.8,2260.5 2011.8,2260.8 2014.8,2261.1 2017.8,2261.4 2020.8,2261.7 2023.8,2261.9 2026.8,2262.2 2029.8,2262.5 2032.8,2262.8 2035.8,2263.0 2038.8,2263.3 2041.8,2263.6 2044.8,2263.8 2047.8,2264.1 2050.8,2264.3 2053.8,2264.6 2056.8,2264.9 2059.8,2265.1 2062.8,2265.4 2065.8,2265.6 2068.8,2265.9 2071.8,2266.1 2074.8,2266.4 2077.8,2266.6 2080.8,2266.9 2083.8,2267.1 2086.8,2267.3 2089.8,2267.6 2092.8,2267.8 2095.8,2268.0 2098.8,2268.3 2101.8,2268.5 2104.8,2268.7 2107.8,2269.0 2110.8,2269.2 2113.8,2269.4 2116.8,2269.6 2119.8,2269.9 2122.8,2270.1 2125.8,2270.3 2128.8,2270.5 2131.8,2270.7 2134.8,2271.0 2137.8,2271.2 2140.8,2271.4 2143.8,2271.6 2146.8,2271.8 2149.8,2272.0 2152.8,2272.2 2155.8,2272.4 2158.8,2272.6 2161.8,2272.8 2164.8,2273.0 2167.8,2273.2 2170.8,2273.4 2173.8,2273.6 2176.8,2273.8 2179.8,2274.0 2182.8,2274.2 2185.8,2274.4 2188.8,2274.6 2191.8,2274.8 2194.8,2275.0 2197.8,2275.2 2200.8,2275.4 2203.8,2275.6 2206.8,2275.8 2209.8,2275.9 2212.8,2276.1 2215.8,2276.3 2218.8,2276.5 2221.8,2276.7 2224.8,2276.9 2227.8,2277.0 2230.8,2277.2 2233.8,2277.4 2236.8,2277.6 2239.8,2277.7 2242.8,2277.9 2245.8,2278.1 2248.8,2278.3 2251.8,2278.4 2254.8,2278.6 2257.8,2278.8 2260.8,2279.0 2263.8,2279.1 2266.8,2279.3 2269.8,2279.5 2272.8,2279.6 2275.8,2279.8 2278.8,2280.0 2281.8,2280.1 2284.8,2280.3 2287.8,2280.5 2290.8,2280.6 2293.8,2280.8 2296.8,2280.9 2299.8,2281.1 2302.8,2281.3 2305.8,2281.4 2308.8,2281.6 2311.8,2281.7 2314.8,2281.9 2317.8,2282.1 2320.8,2282.2 2323.8,2282.4 2326.8,2282.5 2328.2,2282.6" stroke="#0000ff" stroke-dasharray="98 30.5 17.5 30.5"/>
<path d="M502.8,2697.5 505.8,2697.5 508.8,2697.5 511.8,2697.4 514.8,2697.3 517.8,2697.2 520.8,2697.0 523.8,2696.9 526.8,2696.7 529.8,2696.5 532.8,2696.2 535.8,2696.0 538.8,2695.7 541.8,2695.4 544.8,2695.1 547.8,2694.7 550.8,2694.3 553.8,2693.9 556.8,2693.5 559.8,2693.1 562.8,2692.6 565.8,2692.2 568.8,2691.7 571.8,2691.2 574.8,2690.6 577.8,2690.1 580.8,2689.5 583.8,2688.9 586.8,2688.3 589.8,2687.7 592.8,2687.0 595.8,2686.3 598.8,2685.7 601.8,2685.0 604.8,2684.2 607.8,2683.5 610.8,2682.8 613.8,2682.0 616.8,2681.2 619.8,2680.4 622.8,2679.6 625.8,2678.8 628.8,2677.9 631.8,2677.1 634.8,2676.2 637.8,2675.3 640.8,2674.4 643.8,2673.5 646.8,2672.5 649.8,2671.6 652.8,2670.6 655.8,2669.7 658.8,2668.7 661.8,2667.7 664.8,2666.7 667.8,2665.7 670.8,2664.6 673.8,2663.6 676.8,2662.5 679.8,2661.5 682.8,2660.4 685.8,2659.3 688.8,2658.2 691.8,2657.1 694.8,2656.0 697.8,2654.8 700.8,2653.7 703.8,2652.6 706.8,2651.4 709.8,2650.3 712.8,2649.1 715.8,2647.9 718.8,2646.7 721.8,2645.5 724.8,2644.3 727.8,2643.1 730.8,2641.9 733.8,2640.7 736.8,2639.4 739.8,2638.2 742.8,2637.0 745.8,2635.7 748.8,2634.4 751.8,2633.2 754.8,2631.9 757.8,2630.6 760.8,2629.4 763.8,2628.1 766.8,2626.8 769.8,2625.5 772.8,2624.2 775.8,2622.9 778.8,2621.6 781.8,2620.2 784.8,2618.9 787.8,2617.6 790.8,2616.3 793.8,2614.9 796.8,2613.6 799.8,2612.2 802.8,2610.9 805.8,2609.5 808.8,2608.2 811.8,2606.8 814.8,2605.5 817.8,2604.1 820.8,2602.8 823.8,2601.4 826.8,2600.0 829.8,2598.7 832.8,2597.3 835.8,2595.9 838.8,2594.5 841.8,2593.2 844.8,2591.8 847.8,2590.4 850.8,2589.0 853.8,2587.6 856.8,2586.3 859.8,2584.9 862.8,2583.5 865.8,2582.1 868.8,2580.7 871.8,2579.3 874.8,2578.0 877.8,2576.6 880.8,2575.2 883.8,2573.8 886.8,2572.4 889.8,2571.0 892.8,2569.6 895.8,2568.3 898.8,2566.9 901.8,2565.5 904.8,2564.1 907.8,2562.7 910.8,2561.3 913.8,2559.9 916.8,2558.6 919.8,2557.2 922.8,2555.8 925.8,2554.4 928.8,2553.0 931.8,2551.6 934.8,2550.2 937.8,2548.9 940.8,2547.5 943.8,2546.1 946.8,2544.7 949.8,2543.3 952.8,2541.9 955.8,2540.6 958.8,2539.2 961.8,2537.8 964.8,2536.4 967.8,2535.1 970.8,2533.7 973.8,2532.3 976.8,2530.9 979.8,2529.6 982.8,2528.2 985.8,2526.8 988.8,2525.4 991.8,2524.1 994.8,2522.7 997.8,2521.3 1000.8,2520.0 1003.8,2518.6 1006.8,2517.3 1009.8,2515.9 1012.8,2514.5 1015.8,2513.2 1018.8,2511.8 1021.8,2510.5 1024.8,2509.1 1027.8,2507.8 1030.8,2506.4 1033.8,2505.1 1036.8,2503.7 1039.8,2502.4 1042.8,2501.0 1045.8,2499.7 1048.8,2498.4 1051.8,2497.0 1054.8,2495.7 1057.8,2494.4 1060.8,2493.0 1063.8,2491.7 1066.8,2490.4 1069.8,2489.1 1072.8,2487.8 1075.8,2486.4 1078.8,2485.1 1081.8,2483.8 1084.8,2482.5 1087.8,2481.2 1090.8,2479.9 1093.8,2478.6 1096.8,2477.3 1099.8,2476.0 1102.8,2474.7 1105.8,2473.4 1108.8,2472.1 1111.8,2470.9 1114.8,2469.6 1117.8,2468.3 1120.8,2467.0 1123.8,2465.8 1126.8,2464.5 1129.8,2463.2 1132.8,2462.0 1135.8,2460.7 1138.8,2459.4 1141.8,2458.2 1144.8,2456.9 1147.8,2455.7 1150.8,2454.5 1153.8,2453.2 1156.8,2452.0 1159.8,2450.8 1162.8,2449.5 1165.8,2448.3 1168.8,2447.1 1171.8,2445.9 1174.8,2444.7 1177.8,2443.5 1180.8,2442.3 1183.8,2441.1 1186.8,2439.9 1189.8,2438.7 1192.8,2437.5 1195.8,2436.3 1198.8,2435.1 1201.8,2434.0 1204.8,2432.8 1207.8,2431.6 1210.8,2430.5 1213.8,2429.3 1216.8,2428.2 1219.8,2427.1 1222.8,2425.9 1225.8,2424.8 1228.8,2423.7 1231.8,2422.5 1234.8,2421.4 1237.8,2420.3 1240.8,2419.2 1243.8,2418.1 1246.8,2417.0 1249.8,2416.0 1252.8,2414.9 1255.8,2413.8 1258.8,2412.7 1261.8,2411.7 1264.8,2410.6 1267.8,2409.6 1270.8,2408.5 1273.8,2407.5 1276.8,2406.5 1279.8,2405.4 1282.8,2404.4 1285.8,2403.4 1288.8,2402.4 1291.8,2401.4 1294.8,2400.4 1297.8,2399.4 1300.8,2398.5 1303.8,2397.5 1306.8,2396.5 1309.8,2395.6 1312.8,2394.6 1315.8,2393.7 1318.8,2392.8 1321.8,2391.9 1324.8,2390.9 1327.8,2390.0 1330.8,2389.1 1333.8,2388.2 1336.8,2387.4 1339.8,2386.5 1342.8,2385.6 1345.8,2384.8 1348.8,2383.9 1351.8,2383.1 1354.8,2382.2 1357.8,2381.4 1360.8,2380.6 1363.8,2379.8 1366.8,2379.0 1369.8,2378.2 1372.8,2377.4 1375.8,2376.6 1378.8,2375.8 1381.8,2375.1 1384.8,2374.3 1387.8,2373.6 1390.8,2372.9 1393.8,2372.2 1396.8,2371.4 1399.8,2370.7 1402.8,2370.0 1405.8,2369.4 1408.8,2368.7 1411.8,2368.0 1414.8,2367.4 1417.8,2366.7 1420.8,2366.1 1423.8,2365.5 1426.8,2364.9 1429.8,2364.3 1432.8,2363.7 1435.8,2363.1 1438.8,2362.5 1441.8,2361.9 1444.8,2361.4 1447.8,2360.8 1450.8,2360.3 1453.8,2359.8 1456.8,2359.3 1459.8,2358.8 1462.8,2358.3 1465.8,2357.8 1468.8,2357.3 1471.8,2356.9 1474.8,2356.4 1477.8,2356.0 1480.8,2355.6 1483.8,2355.1 1486.8,2354.7 1489.8,2354.3 1492.8,2353.9 1495.8,2353.5 1498.8,2353.2 1501.8,2352.8 1504.8,2352.4 1507.8,2352.1 1510.8,2351.7 1513.8,2351.4 1516.8,2351.0 1519.8,2350.7 1522.8,2350.4 1525.8,2350.1 1528.8,2349.8 1531.8,2349.5 1534.8,2349.2 1537.8,2348.9 1540.8,2348.6 1543.8,2348.3 1546.8,2348.1 1549.8,2347.8 1552.8,2347.5 1555.8,2347.3 1558.8,2347.0 1561.8,2346.8 1564.8,2346.6 1567.8,2346.3 1570.8,2346.1 1573.8,2345.9 1576.8,2345.7 1579.8,2345.5 1582.8,2345.2 1585.8,2345.0 1588.8,2344.8 1591.8,2344.6 1594.8,2344.4 1597.8,2344.2 1600.8,2344.0 1603.8,2343.9 1606.8,2343.7 1609.8,2343.5 1612.8,2343.3 1615.8,2343.1 1618.8,2343.0 1621.8,2342.8 1624.8,2342.6 1627.8,2342.4 1630.8,2342.3 1633.8,2342.1 1636.8,2341.9 1639.8,2341.8 1642.8,2341.6 1645.8,2341.5 1648.8,2341.3 1651.8,2341.2 1654.8,2341.0 1657.8,2340.9 1660.8,2340.7 1663.8,2340.6 1666.8,2340.4 1669.8,2340.3 1672.8,2340.2 1675.8,2340.0 1678.8,2339.9 1681.8,2339.8 1684.8,2339.6 1687.8,2339.5 1690.8,2339.4 1693.8,2339.3 1696.8,2339.1 1699.8,2339.0 1702.8,2338.9 1705.8,2338.8 1708.8,2338.7 1711.8,2338.6 1714.8,2338.4 1717.8,2338.3 1720.8,2338.2 1723.8,2338.1 1726.8,2338.0 1729.8,2337.9 1732.8,2337.8 1735.8,2337.7 1738.8,2337.6 1741.8,2337.5 1744.8,2337.4 1747.8,2337.3 1750.8,2337.3 1753.8,2337.2 1756.8,2337.1 1759.8,2337.0 1762.8,2336.9 1765.8,2336.8 1768.8,2336.8 1771.8,2336.7 1774.8,2336.6 1777.8,2336.5 1780.8,2336.4 1783.8,2336.4 1786.8,2336.3 1789.8,2336.2 1792.8,2336.2 1795.8,2336.1 1798.8,2336.0 1801.8,2336.0 1804.8,2335.9 1807.8,2335.8 1810.8,2335.8 1813.8,2335.7 1816.8,2335.7 1819.8,2335.6 1822.8,2335.5 1825.8,2335.5 1828.8,2335.4 1831.8,2335.4 1834.8,2335.3 1837.8,2335.3 1840.8,2335.2 1843.8,2335.2 1846.8,2335.1 1849.8,2335.1 1852.8,2335.1 1855.8,2335.0 1858.8,2335.0 1861.8,2334.9 1864.8,2334.9 1867.8,2334.9 1870.8,2334.8 1873.8,2334.8 1876.8,2334.7 1879.8,2334.7 1882.8,2334.7 1885.8,2334.6 1888.8,2334.6 1891.8,2334.6 1894.8,2334.5 1897.8,2334.5 1900.8,2334.5 1903.8,2334.5 1906.8,2334.4 1909.8,2334.4 1912.8,2334.4 1915.8,2334.4 1918.8,2334.3 1921.8,2334.3 1924.8,2334.3 1927.8,2334.3 1930.8,2334.2 1933.8,2334.2 1936.8,2334.2 1939.8,2334.2 1942.8,2334.2 1945.8,2334.1 1948.8,2334.1 1951.8,2334.1 1954.8,2334.1 1957.8,2334.1 1960.8,2334.1 1963.8,2334.0 1966.8,2334.0 1969.8,2334.0 1972.8,2334.0 1975.8,2334.0 1978.8,2334.0 1981.8,2334.0 1984.8,2334.0 1987.8,2333.9 1990.8,2333.9 1993.8,2333.9 1996.8,2333.9 1999.8,2333.9 2002.8,2333.9 2005.8,2333.9 2008.8,2333.9 2011.8,2333.9 2014.8,2333.9 2017.8,2333.8 2020.8,2333.8 2023.8,2333.8 2026.8,2333.8 2029.8,2333.8 2032.8,2333.8 2035.8,2333.8 2038.8,2333.8 2041.8,2333.8 2044.8,2333.8 2047.8,2333.8 2050.8,2333.8 2053.8,2333.8 2056.8,2333.7 2059.8,2333.7 2062.8,2333.7 2065.8,2333.7 2068.8,2333.7 2071.8,2333.7 2074.8,2333.7 2077.8,2333.7 2080.8,2333.7 2083.8,2333.7 2086.8,2333.7 2089.8,2333.7 2092.8,2333.7 2095.8,2333.6 2098.8,2333.6 2101.8,2333.6 2104.8,2333.6 2107.8,2333.6 2110.8,2333.6 2113.8,2333.6 2116.8,2333.6 2119.8,2333.6 2122.8,2333.6 2125.8,2333.5 2128.8,2333.5 2131.8,2333.5 2134.8,2333.5 2137.8,2333.5 2140.8,2333.5 2143.8,2333.5 2146.8,2333.5 2149.8,2333.4 2152.8,2333.4 2155.8,2333.4 2158.8,2333.4 2161.8,2333.4 2164.8,2333.4 2167.8,2333.3 2170.8,2333.3 2173.8,2333.3 2176.8,2333.3 2179.8,2333.3 2182.8,2333.2 2185.8,2333.2 2188.8,2333.2 2191.8,2333.2 2194.8,2333.2 2197.8,2333.1 2200.8,2333.1 2203.8,2333.1 2206.8,2333.1 2209.8,2333.0 2212.8,2333.0 2215.8,2333.0 2218.8,2332.9 2221.8,2332.9 2224.8,2332.9 2227.8,2332.8 2230.8,2332.8 2233.8,2332.8 2236.8,2332.7 2239.8,2332.7 2242.8,2332.7 2245.8,2332.6 2248.8,2332.6 2251.8,2332.6 2254.8,2332.5 2257.8,2332.5 2260.8,2332.4 2263.8,2332.4 2266.8,2332.3 2269.8,2332.3 2272.8,2332.2 2275.8,2332.2 2278.8,2332.1 2281.8,2332.1 2284.8,2332.0 2287.8,2332.0 2290.8,2331.9 2293.8,2331.9 2296.8,2331.8 2299.8,2331.8 2302.8,2331.7 2305.8,2331.6 2308.8,2331.6 2311.8,2331.5 2314.8,2331.5 2317.8,2331.4 2320.8,2331.3 2323.8,2331.2 2326.8,2331.2 2328.2,2331.1" stroke="#0000ff" stroke-dasharray="17 23.13"/>
<path d="M502.8,2103.8 505.8,2103.7 508.8,2103.7 511.8,2103.6 514.8,2103.4 517.8,2103.3 520.8,2103.0 523.8,2102.8 526.8,2102.5 529.8,2102.2 532.8,2101.8 535.8,2101.4 538.8,2101.0 541.8,2100.5 544.8,2100.0 547.8,2099.5 550.8,2099.0 553.8,2098.4 556.8,2097.7 559.8,2097.1 562.8,2096.4 565.8,2095.7 568.8,2094.9 571.8,2094.2 574.8,2093.4 577.8,2092.5 580.8,2091.7 583.8,2090.8 586.8,2089.9 589.8,2089.0 592.8,2088.0 595.8,2087.0 598.8,2086.0 601.8,2085.0 604.8,2083.9 607.8,2082.9 610.8,2081.8 613.8,2080.7 616.8,2079.5 619.8,2078.4 622.8,2077.2 625.8,2076.0 628.8,2074.8 631.8,2073.5 634.8,2072.3 637.8,2071.0 640.8,2069.7 643.8,2068.4 646.8,2067.1 649.8,2065.8 652.8,2064.4 655.8,2063.0 658.8,2061.7 661.8,2060.3 664.8,2058.9 667.8,2057.5 670.8,2056.0 673.8,2054.6 676.8,2053.1 679.8,2051.7 682.8,2050.2 685.8,2048.7 688.8,2047.3 691.8,2045.8 694.8,2044.3 697.8,2042.8 700.8,2041.2 703.8,2039.7 706.8,2038.2 709.8,2036.7 712.8,2035.1 715.8,2033.6 718.8,2032.1 721.8,2030.5 724.8,2029.0 727.8,2027.4 730.8,2025.9 733.8,2024.3 736.8,2022.8 739.8,2021.2 742.8,2019.7 745.8,2018.1 748.8,2016.6 751.8,2015.0 754.8,2013.5 757.8,2012.0 760.8,2010.4 763.8,2008.9 766.8,2007.4 769.8,2005.9 772.8,2004.4 775.8,2002.9 778.8,2001.4 781.8,1999.9 784.8,1998.4 787.8,1996.9 790.8,1995.4 793.8,1994.0 796.8,1992.5 799.8,1991.1 802.8,1989.7 805.8,1988.3 808.8,1986.9 811.8,1985.5 814.8,1984.1 817.8,1982.8 820.8,1981.4 823.8,1980.1 826.8,1978.8 829.8,1977.5 832.8,1976.2 835.8,1974.9 838.8,1973.7 841.8,1972.4 844.8,1971.2 847.8,1970.0 850.8,1968.9 853.8,1967.7 856.8,1966.6 859.8,1965.5 862.8,1964.4 865.8,1963.3 868.8,1962.3 871.8,1961.2 874.8,1960.2 877.8,1959.2 880.8,1958.3 883.8,1957.3 886.8,1956.4 889.8,1955.5 892.8,1954.6 895.8,1953.7 898.8,1952.8 901.8,1952.0 904.8,1951.1 907.8,1950.3 910.8,1949.5 913.8,1948.7 916.8,1947.9 919.8,1947.1 922.8,1946.4 925.8,1945.6 928.8,1944.9 931.8,1944.2 934.8,1943.4 937.8,1942.7 940.8,1942.0 943.8,1941.3 946.8,1940.7 949.8,1940.0 952.8,1939.3 955.8,1938.7 958.8,1938.0 961.8,1937.4 964.8,1936.8 967.8,1936.2 970.8,1935.6 973.8,1935.1 976.8,1934.5 979.8,1934.0 982.8,1933.5 985.8,1933.0 988.8,1932.5 991.8,1932.0 994.8,1931.6 997.8,1931.2 1000.8,1930.8 1003.8,1930.4 1006.8,1930.0 1009.8,1929.7 1012.8,1929.4 1015.8,1929.1 1018.8,1928.9 1021.8,1928.6 1024.8,1928.4 1027.8,1928.3 1030.8,1928.1 1033.8,1928.0 1036.8,1927.9 1039.8,1927.9 1042.8,1927.8 1045.8,1927.9 1048.8,1927.9 1051.8,1928.0 1054.8,1928.1 1057.8,1928.2 1060.8,1928.3 1063.8,1928.5 1066.8,1928.7 1069.8,1929.0 1072.8,1929.2 1075.8,1929.5 1078.8,1929.8 1081.8,1930.2 1084.8,1930.6 1087.8,1931.0 1090.8,1931.4 1093.8,1931.8 1096.8,1932.3 1099.8,1932.8 1102.8,1933.3 1105.8,1933.9 1108.8,1934.5 1111.8,1935.0 1114.8,1935.7 1117.8,1936.3 1120.8,1937.0 1123.8,1937.6 1126.8,1938.3 1129.8,1939.1 1132.8,1939.8 1135.8,1940.6 1138.8,1941.4 1141.8,1942.2 1144.8,1943.0 1147.8,1943.8 1150.8,1944.7 1153.8,1945.6 1156.8,1946.4 1159.8,1947.4 1162.8,1948.3 1165.8,1949.2 1168.8,1950.2 1171.8,1951.2 1174.8,1952.2 1177.8,1953.2 1180.8,1954.2 1183.8,1955.2 1186.8,1956.3 1189.8,1957.3 1192.8,1958.4 1195.8,1959.5 1198.8,1960.6 1201.8,1961.7 1204.8,1962.8 1207.8,1964.0 1210.8,1965.1 1213.8,1966.3 1216.8,1967.5 1219.8,1968.6 1222.8,1969.8 1225.8,1971.0 1228.8,1972.2 1231.8,1973.5 1234.8,1974.7 1237.8,1975.9 1240.8,1977.2 1243.8,1978.4 1246.8,1979.7 1249.8,1981.0 1252.8,1982.2 1255.8,1983.5 1258.8,1984.8 1261.8,1986.1 1264.8,1987.4 1267.8,1988.7 1270.8,1990.1 1273.8,1991.4 1276.8,1992.7 1279.8,1994.0 1282.8,1995.4 1285.8,1996.7 1288.8,1998.0 1291.8,1999.4 1294.8,2000.7 1297.8,2002.1 1300.8,2003.4 1303.8,2004.8 1306.8,2006.2 1309.8,2007.5 1312.8,2008.9 1315.8,2010.2 1318.8,2011.6 1321.8,2013.0 1324.8,2014.3 1327.8,2015.7 1330.8,2017.1 1333.8,2018.4 1336.8,2019.8 1339.8,2021.1 1342.8,2022.5 1345.8,2023.9 1348.8,2025.2 1351.8,2026.6 1354.8,2027.9 1357.8,2029.3 1360.8,2030.6 1363.8,2031.9 1366.8,2033.3 1369.8,2034.6 1372.8,2035.9 1375.8,2037.2 1378.8,2038.6 1381.8,2039.9 1384.8,2041.2 1387.8,2042.5 1390.8,2043.8 1393.8,2045.1 1396.8,2046.3 1399.8,2047.6 1402.8,2048.9 1405.8,2050.1 1408.8,2051.4 1411.8,2052.7 1414.8,2053.9 1417.8,2055.1 1420.8,2056.4 1423.8,2057.6 1426.8,2058.8 1429.8,2060.1 1432.8,2061.3 1435.8,2062.5 1438.8,2063.7 1441.8,2064.9 1444.8,2066.1 1447.8,2067.3 1450.8,2068.4 1453.8,2069.6 1456.8,2070.8 1459.8,2072.0 1462.8,2073.1 1465.8,2074.3 1468.8,2075.4 1471.8,2076.6 1474.8,2077.7 1477.8,2078.8 1480.8,2080.0 1483.8,2081.1 1486.8,2082.2 1489.8,2083.3 1492.8,2084.4 1495.8,2085.5 1498.8,2086.6 1501.8,2087.7 1504.8,2088.8 1507.8,2089.9 1510.8,2090.9 1513.8,2092.0 1516.8,2093.1 1519.8,2094.1 1522.8,2095.2 1525.8,2096.2 1528.8,2097.3 1531.8,2098.3 1534.8,2099.4 1537.8,2100.4 1540.8,2101.4 1543.8,2102.4 1546.8,2103.4 1549.8,2104.4 1552.8,2105.5 1555.8,2106.5 1558.8,2107.4 1561.8,2108.4 1564.8,2109.4 1567.8,2110.4 1570.8,2111.4 1573.8,2112.3 1576.8,2113.3 1579.8,2114.3 1582.8,2115.2 1585.8,2116.2 1588.8,2117.1 1591.8,2118.0 1594.8,2119.0 1597.8,2119.9 1600.8,2120.8 1603.8,2121.7 1606.8,2122.6 1609.8,2123.6 1612.8,2124.5 1615.8,2125.4 1618.8,2126.3 1621.8,2127.1 1624.8,2128.0 1627.8,2128.9 1630.8,2129.8 1633.8,2130.6 1636.8,2131.5 1639.8,2132.4 1642.8,2133.2 1645.8,2134.1 1648.8,2134.9 1651.8,2135.8 1654.8,2136.6 1657.8,2137.4 1660.8,2138.3 1663.8,2139.1 1666.8,2139.9 1669.8,2140.7 1672.8,2141.5 1675.8,2142.3 1678.8,2143.1 1681.8,2143.9 1684.8,2144.7 1687.8,2145.5 1690.8,2146.3 1693.8,2147.1 1696.8,2147.8 1699.8,2148.6 1702.8,2149.4 1705.8,2150.1 1708.8,2150.9 1711.8,2151.7 1714.8,2152.4 1717.8,2153.1 1720.8,2153.9 1723.8,2154.6 1726.8,2155.4 1729.8,2156.1 1732.8,2156.8 1735.8,2157.5 1738.8,2158.2 1741.8,2158.9 1744.8,2159.7 1747.8,2160.4 1750.8,2161.1 1753.8,2161.8 1756.8,2162.4 1759.8,2163.1 1762.8,2163.8 1765.8,2164.5 1768.8,2165.2 1771.8,2165.8 1774.8,2166.5 1777.8,2167.2 1780.8,2167.8 1783.8,2168.5 1786.8,2169.1 1789.8,2169.8 1792.8,2170.4 1795.8,2171.1 1798.8,2171.7 1801.8,2172.3 1804.8,2173.0 1807.8,2173.6 1810.8,2174.2 1813.8,2174.8 1816.8,2175.5 1819.8,2176.1 1822.8,2176.7 1825.8,2177.3 1828.8,2177.9 1831.8,2178.5 1834.8,2179.1 1837.8,2179.7 1840.8,2180.3 1843.8,2180.8 1846.8,2181.4 1849.8,2182.0 1852.8,2182.6 1855.8,2183.2 1858.8,2183.7 1861.8,2184.3 1864.8,2184.8 1867.8,2185.4 1870.8,2186.0 1873.8,2186.5 1876.8,2187.1 1879.8,2187.6 1882.8,2188.1 1885.8,2188.7 1888.8,2189.2 1891.8,2189.8 1894.8,2190.3 1897.8,2190.8 1900.8,2191.3 1903.8,2191.9 1906.8,2192.4 1909.8,2192.9 1912.8,2193.4 1915.8,2193.9 1918.8,2194.4 1921.8,2194.9 1924.8,2195.4 1927.8,2195.9 1930.8,2196.4 1933.8,2196.9 1936.8,2197.4 1939.8,2197.9 1942.8,2198.4 1945.8,2198.8 1948.8,2199.3 1951.8,2199.8 1954.8,2200.3 1957.8,2200.7 1960.8,2201.2 1963.8,2201.7 1966.8,2202.1 1969.8,2202.6 1972.8,2203.0 1975.8,2203.5 1978.8,2204.0 1981.8,2204.4 1984.8,2204.9 1987.8,2205.3 1990.8,2205.7 1993.8,2206.2 1996.8,2206.6 1999.8,2207.0 2002.8,2207.5 2005.8,2207.9 2008.8,2208.3 2011.8,2208.8 2014.8,2209.2 2017.8,2209.6 2020.8,2210.0 2023.8,2210.4 2026.8,2210.9 2029.8,2211.3 2032.8,2211.7 2035.8,2212.1 2038.8,2212.5 2041.8,2212.9 2044.8,2213.3 2047.8,2213.7 2050.8,2214.1 2053.8,2214.5 2056.8,2214.9 2059.8,2215.3 2062.8,2215.7 2065.8,2216.0 2068.8,2216.4 2071.8,2216.8 2074.8,2217.2 2077.8,2217.6 2080.8,2218.0 2083.8,2218.3 2086.8,2218.7 2089.8,2219.1 2092.8,2219.4 2095.8,2219.8 2098.8,2220.2 2101.8,2220.5 2104.8,2220.9 2107.8,2221.3 2110.8,2221.6 2113.8,2222.0 2116.8,2222.3 2119.8,2222.7 2122.8,2223.1 2125.8,2223.4 2128.8,2223.8 2131.8,2224.1 2134.8,2224.5 2137.8,2224.8 2140.8,2225.1 2143.8,2225.5 2146.8,2225.8 2149.8,2226.2 2152.8,2226.5 2155.8,2226.8 2158.8,2227.2 2161.8,2227.5 2164.8,2227.9 2167.8,2228.2 2170.8,2228.5 2173.8,2228.8 2176.8,2229.2 2179.8,2229.5 2182.8,2229.8 2185.8,2230.2 2188.8,2230.5 2191.8,2230.8 2194.8,2231.1 2197.8,2231.4 2200.8,2231.8 2203.8,2232.1 2206.8,2232.4 2209.8,2232.7 2212.8,2233.0 2215.8,2233.3 2218.8,2233.7 2221.8,2234.0 2224.8,2234.3 2227.8,2234.6 2230.8,2234.9 2233.8,2235.2 2236.8,2235.5 2239.8,2235.8 2242.8,2236.1 2245.8,2236.4 2248.8,2236.7 2251.8,2237.0 2254.8,2237.3 2257.8,2237.6 2260.8,2237.9 2263.8,2238.3 2266.8,2238.6 2269.8,2238.9 2272.8,2239.2 2275.8,2239.4 2278.8,2239.7 2281.8,2240.0 2284.8,2240.3 2287.8,2240.6 2290.8,2240.9 2293.8,2241.2 2296.8,2241.5 2299.8,2241.8 2302.8,2242.1 2305.8,2242.4 2308.8,2242.7 2311.8,2243.0 2314.8,2243.3 2317.8,2243.6 2320.8,2243.9 2323.8,2244.2 2326.8,2244.5 2328.2,2244.6" stroke="#00ff00"/>
<path d="M502.8,2104.0 505.8,2104.0 508.8,2104.0 511.8,2104.0 514.8,2104.0 517.8,2104.0 520.8,2104.0 523.8,2103.9 526.8,2103.9 529.8,2103.9 532.8,2103.9 535.8,2103.8 538.8,2103.8 541.8,2103.8 544.8,2103.7 547.8,2103.7 550.8,2103.7 553.8,2103.6 556.8,2103.6 559.8,2103.5 562.8,2103.5 565.8,2103.5 568.8,2103.4 571.8,2103.4 574.8,2103.3 577.8,2103.3 580.8,2103.2 583.8,2103.2 586.8,2103.1 589.8,2103.1 592.8,2103.0 595.8,2103.0 598.8,2102.9 601.8,2102.9 604.8,2102.8 607.8,2102.8 610.8,2102.7 613.8,2102.7 616.8,2102.6 619.8,2102.5 622.8,2102.5 625.8,2102.4 628.8,2102.4 631.8,2102.3 634.8,2102.3 637.8,2102.2 640.8,2102.2 643.8,2102.1 646.8,2102.1 649.8,2102.0 652.8,2102.0 655.8,2102.0 658.8,2101.9 661.8,2101.9 664.8,2101.8 667.8,2101.8 670.8,2101.8 673.8,2101.7 676.8,2101.7 679.8,2101.7 682.8,2101.6 685.8,2101.6 688.8,2101.6 691.8,2101.5 694.8,2101.5 697.8,2101.5 700.8,2101.5 703.8,2101.5 706.8,2101.4 709.8,2101.4 712.8,2101.4 715.8,2101.4 718.8,2101.4 721.8,2101.4 724.8,2101.4 727.8,2101.4 730.8,2101.4 733.8,2101.4 736.8,2101.5 739.8,2101.5 742.8,2101.5 745.8,2101.5 748.8,2101.6 751.8,2101.6 754.8,2101.6 757.8,2101.7 760.8,2101.7 763.8,2101.8 766.8,2101.8 769.8,2101.9 772.8,2101.9 775.8,2102.0 778.8,2102.0 781.8,2102.1 784.8,2102.2 787.8,2102.3 790.8,2102.4 793.8,2102.5 796.8,2102.5 799.8,2102.6 802.8,2102.8 805.8,2102.9 808.8,2103.0 811.8,2103.1 814.8,2103.2 817.8,2103.4 820.8,2103.5 823.8,2103.6 826.8,2103.8 829.8,2103.9 832.8,2104.1 835.8,2104.3 838.8,2104.4 841.8,2104.6 844.8,2104.8 847.8,2105.0 850.8,2105.2 853.8,2105.4 856.8,2105.6 859.8,2105.8 862.8,2106.0 865.8,2106.2 868.8,2106.5 871.8,2106.7 874.8,2106.9 877.8,2107.2 880.8,2107.5 883.8,2107.7 886.8,2108.0 889.8,2108.3 892.8,2108.6 895.8,2108.9 898.8,2109.2 901.8,2109.5 904.8,2109.8 907.8,2110.1 910.8,2110.4 913.8,2110.8 916.8,2111.1 919.8,2111.5 922.8,2111.9 925.8,2112.2 928.8,2112.6 931.8,2113.0 934.8,2113.4 937.8,2113.8 940.8,2114.2 943.8,2114.6 946.8,2115.1 949.8,2115.5 952.8,2116.0 955.8,2116.4 958.8,2116.9 961.8,2117.3 964.8,2117.8 967.8,2118.3 970.8,2118.8 973.8,2119.3 976.8,2119.8 979.8,2120.3 982.8,2120.9 985.8,2121.4 988.8,2121.9 991.8,2122.5 994.8,2123.0 997.8,2123.6 1000.8,2124.2 1003.8,2124.7 1006.8,2125.3 1009.8,2125.9 1012.8,2126.5 1015.8,2127.1 1018.8,2127.7 1021.8,2128.3 1024.8,2128.9 1027.8,2129.5 1030.8,2130.2 1033.8,2130.8 1036.8,2131.5 1039.8,2132.1 1042.8,2132.8 1045.8,2133.4 1048.8,2134.1 1051.8,2134.7 1054.8,2135.4 1057.8,2136.1 1060.8,2136.8 1063.8,2137.5 1066.8,2138.2 1069.8,2138.9 1072.8,2139.6 1075.8,2140.3 1078.8,2141.0 1081.8,2141.7 1084.8,2142.4 1087.8,2143.1 1090.8,2143.9 1093.8,2144.6 1096.8,2145.3 1099.8,2146.1 1102.8,2146.8 1105.8,2147.6 1108.8,2148.3 1111.8,2149.1 1114.8,2149.8 1117.8,2150.6 1120.8,2151.4 1123.8,2152.1 1126.8,2152.9 1129.8,2153.7 1132.8,2154.5 1135.8,2155.2 1138.8,2156.0 1141.8,2156.8 1144.8,2157.6 1147.8,2158.4 1150.8,2159.2 1153.8,2160.0 1156.8,2160.8 1159.8,2161.6 1162.8,2162.4 1165.8,2163.2 1168.8,2164.0 1171.8,2164.8 1174.8,2165.6 1177.8,2166.4 1180.8,2167.2 1183.8,2168.0 1186.8,2168.8 1189.8,2169.6 1192.8,2170.5 1195.8,2171.3 1198.8,2172.1 1201.8,2172.9 1204.8,2173.7 1207.8,2174.5 1210.8,2175.4 1213.8,2176.2 1216.8,2177.0 1219.8,2177.8 1222.8,2178.6 1225.8,2179.5 1228.8,2180.3 1231.8,2181.1 1234.8,2181.9 1237.8,2182.7 1240.8,2183.6 1243.8,2184.4 1246.8,2185.2 1249.8,2186.0 1252.8,2186.8 1255.8,2187.7 1258.8,2188.5 1261.8,2189.3 1264.8,2190.1 1267.8,2190.9 1270.8,2191.7 1273.8,2192.5 1276.8,2193.3 1279.8,2194.1 1282.8,2194.9 1285.8,2195.8 1288.8,2196.6 1291.8,2197.4 1294.8,2198.1 1297.8,2198.9 1300.8,2199.7 1303.8,2200.5 1306.8,2201.3 1309.8,2202.1 1312.8,2202.9 1315.8,2203.7 1318.8,2204.4 1321.8,2205.2 1324.8,2206.0 1327.8,2206.8 1330.8,2207.5 1333.8,2208.3 1336.8,2209.0 1339.8,2209.8 1342.8,2210.6 1345.8,2211.3 1348.8,2212.1 1351.8,2212.8 1354.8,2213.5 1357.8,2214.3 1360.8,2215.0 1363.8,2215.7 1366.8,2216.4 1369.8,2217.2 1372.8,2217.9 1375.8,2218.6 1378.8,2219.3 1381.8,2220.0 1384.8,2220.7 1387.8,2221.4 1390.8,2222.1 1393.8,2222.8 1396.8,2223.4 1399.8,2224.1 1402.8,2224.8 1405.8,2225.4 1408.8,2226.1 1411.8,2226.8 1414.8,2227.4 1417.8,2228.1 1420.8,2228.7 1423.8,2229.4 1426.8,2230.0 1429.8,2230.6 1432.8,2231.3 1435.8,2231.9 1438.8,2232.5 1441.8,2233.1 1444.8,2233.7 1447.8,2234.3 1450.8,2235.0 1453.8,2235.6 1456.8,2236.2 1459.8,2236.7 1462.8,2237.3 1465.8,2237.9 1468.8,2238.5 1471.8,2239.1 1474.8,2239.7 1477.8,2240.2 1480.8,2240.8 1483.8,2241.4 1486.8,2241.9 1489.8,2242.5 1492.8,2243.0 1495.8,2243.6 1498.8,2244.1 1501.8,2244.6 1504.8,2245.2 1507.8,2245.7 1510.8,2246.2 1513.8,2246.8 1516.8,2247.3 1519.8,2247.8 1522.8,2248.3 1525.8,2248.8 1528.8,2249.3 1531.8,2249.8 1534.8,2250.3 1537.8,2250.8 1540.8,2251.3 1543.8,2251.8 1546.8,2252.3 1549.8,2252.8 1552.8,2253.3 1555.8,2253.8 1558.8,2254.2 1561.8,2254.7 1564.8,2255.2 1567.8,2255.6 1570.8,2256.1 1573.8,2256.5 1576.8,2257.0 1579.8,2257.4 1582.8,2257.9 1585.8,2258.3 1588.8,2258.8 1591.8,2259.2 1594.8,2259.6 1597.8,2260.1 1600.8,2260.5 1603.8,2260.9 1606.8,2261.3 1609.8,2261.7 1612.8,2262.2 1615.8,2262.6 1618.8,2263.0 1621.8,2263.4 1624.8,2263.8 1627.8,2264.2 1630.8,2264.6 1633.8,2265.0 1636.8,2265.3 1639.8,2265.7 1642.8,2266.1 1645.8,2266.5 1648.8,2266.9 1651.8,2267.2 1654.8,2267.6 1657.8,2268.0 1660.8,2268.3 1663.8,2268.7 1666.8,2269.1 1669.8,2269.4 1672.8,2269.8 1675.8,2270.1 1678.8,2270.5 1681.8,2270.8 1684.8,2271.2 1687.8,2271.5 1690.8,2271.8 1693.8,2272.2 1696.8,2272.5 1699.8,2272.8 1702.8,2273.2 1705.8,2273.5 1708.8,2273.8 1711.8,2274.1 1714.8,2274.4 1717.8,2274.7 1720.8,2275.1 1723.8,2275.4 1726.8,2275.7 1729.8,2276.0 1732.8,2276.3 1735.8,2276.6 1738.8,2276.9 1741.8,2277.2 1744.8,2277.4 1747.8,2277.7 1750.8,2278.0 1753.8,2278.3 1756.8,2278.6 1759.8,2278.9 1762.8,2279.1 1765.8,2279.4 1768.8,2279.7 1771.8,2279.9 1774.8,2280.2 1777.8,2280.5 1780.8,2280.7 1783.8,2281.0 1786.8,2281.2 1789.8,2281.5 1792.8,2281.7 1795.8,2282.0 1798.8,2282.2 1801.8,2282.5 1804.8,2282.7 1807.8,2283.0 1810.8,2283.2 1813.8,2283.4 1816.8,2283.7 1819.8,2283.9 1822.8,2284.1 1825.8,2284.4 1828.8,2284.6 1831.8,2284.8 1834.8,2285.0 1837.8,2285.3 1840.8,2285.5 1843.8,2285.7 1846.8,2285.9 1849.8,2286.1 1852.8,2286.3 1855.8,2286.5 1858.8,2286.8 1861.8,2287.0 1864.8,2287.2 1867.8,2287.4 1870.8,2287.6 1873.8,2287.8 1876.8,2288.0 1879.8,2288.1 1882.8,2288.3 1885.8,2288.5 1888.8,2288.7 1891.8,2288.9 1894.8,2289.1 1897.8,2289.3 1900.8,2289.5 1903.8,2289.6 1906.8,2289.8 1909.8,2290.0 1912.8,2290.2 1915.8,2290.3 1918.8,2290.5 1921.8,2290.7 1924.8,2290.8 1927.8,2291.0 1930.8,2291.2 1933.8,2291.3 1936.8,2291.5 1939.8,2291.7 1942.8,2291.8 1945.8,2292.0 1948.8,2292.1 1951.8,2292.3 1954.8,2292.4 1957.8,2292.6 1960.8,2292.7 1963.8,2292.9 1966.8,2293.0 1969.8,2293.2 1972.8,2293.3 1975.8,2293.5 1978.8,2293.6 1981.8,2293.8 1984.8,2293.9 1987.8,2294.0 1990.8,2294.2 1993.8,2294.3 1996.8,2294.5 1999.8,2294.6 2002.8,2294.7 2005.8,2294.9 2008.8,2295.0 2011.8,2295.1 2014.8,2295.2 2017.8,2295.4 2020.8,2295.5 2023.8,2295.6 2026.8,2295.8 2029.8,2295.9 2032.8,2296.0 2035.8,2296.1 2038.8,2296.2 2041.8,2296.4 2044.8,2296.5 2047.8,2296.6 2050.8,2296.7 2053.8,2296.8 2056.8,2296.9 2059.8,2297.1 2062.8,2297.2 2065.8,2297.3 2068.8,2297.4 2071.8,2297.5 2074.8,2297.6 2077.8,2297.7 2080.8,2297.8 2083.8,2297.9 2086.8,2298.0 2089.8,2298.1 2092.8,2298.3 2095.8,2298.4 2098.8,2298.5 2101.8,2298.6 2104.8,2298.7 2107.8,2298.8 2110.8,2298.9 2113.8,2299.0 2116.8,2299.1 2119.8,2299.2 2122.8,2299.3 2125.8,2299.4 2128.8,2299.5 2131.8,2299.6 2134.8,2299.7 2137.8,2299.8 2140.8,2299.9 2143.8,2300.0 2146.8,2300.0 2149.8,2300.1 2152.8,2300.2 2155.8,2300.3 2158.8,2300.4 2161.8,2300.5 2164.8,2300.6 2167.8,2300.7 2170.8,2300.8 2173.8,2300.9 2176.8,2301.0 2179.8,2301.1 2182.8,2301.2 2185.8,2301.3 2188.8,2301.3 2191.8,2301.4 2194.8,2301.5 2197.8,2301.6 2200.8,2301.7 2203.8,2301.8 2206.8,2301.9 2209.8,2302.0 2212.8,2302.1 2215.8,2302.1 2218.8,2302.2 2221.8,2302.3 2224.8,2302.4 2227.8,2302.5 2230.8,2302.6 2233.8,2302.7 2236.8,2302.8 2239.8,2302.9 2242.8,2303.0 2245.8,2303.0 2248.8,2303.1 2251.8,2303.2 2254.8,2303.3 2257.8,2303.4 2260.8,2303.5 2263.8,2303.6 2266.8,2303.7 2269.8,2303.8 2272.8,2303.9 2275.8,2303.9 2278.8,2304.0 2281.8,2304.1 2284.8,2304.2 2287.8,2304.3 2290.8,2304.4 2293.8,2304.5 2296.8,2304.6 2299.8,2304.7 2302.8,2304.8 2305.8,2304.9 2308.8,2305.0 2311.8,2305.1 2314.8,2305.2 2317.8,2305.2 2320.8,2305.3 2323.8,2305.4 2326.8,2305.5 2328.2,2305.6" stroke="#00ff00" stroke-dasharray="98 30.5 17.5 30.5"/>
<path d="M502.8,2551.8 505.8,2551.8 508.8,2551.8 511.8,2551.7 514.8,2551.7 517.8,2551.7 520.8,2551.6 523.8,2551.5 526.8,2551.4 529.8,2551.4 532.8,2551.3 535.8,2551.1 538.8,2551.0 541.8,2550.9 544.8,2550.7 547.8,2550.6 550.8,2550.4 553.8,2550.2 556.8,2550.0 559.8,2549.8 562.8,2549.6 565.8,2549.4 568.8,2549.2 571.8,2548.9 574.8,2548.7 577.8,2548.4 580.8,2548.2 583.8,2547.9 586.8,2547.6 589.8,2547.3 592.8,2547.0 595.8,2546.7 598.8,2546.4 601.8,2546.0 604.8,2545.7 607.8,2545.3 610.8,2545.0 613.8,2544.6 616.8,2544.2 619.8,2543.8 622.8,2543.4 625.8,2543.0 628.8,2542.6 631.8,2542.2 634.8,2541.8 637.8,2541.3 640.8,2540.9 643.8,2540.4 646.8,2540.0 649.8,2539.5 652.8,2539.0 655.8,2538.5 658.8,2538.0 661.8,2537.5 664.8,2537.0 667.8,2536.5 670.8,2536.0 673.8,2535.5 676.8,2534.9 679.8,2534.4 682.8,2533.8 685.8,2533.3 688.8,2532.7 691.8,2532.1 694.8,2531.5 697.8,2531.0 700.8,2530.4 703.8,2529.8 706.8,2529.2 709.8,2528.5 712.8,2527.9 715.8,2527.3 718.8,2526.7 721.8,2526.0 724.8,2525.4 727.8,2524.7 730.8,2524.1 733.8,2523.4 736.8,2522.8 739.8,2522.1 742.8,2521.4 745.8,2520.7 748.8,2520.0 751.8,2519.3 754.8,2518.6 757.8,2517.9 760.8,2517.2 763.8,2516.5 766.8,2515.8 769.8,2515.1 772.8,2514.4 775.8,2513.6 778.8,2512.9 781.8,2512.1 784.8,2511.4 787.8,2510.6 790.8,2509.9 793.8,2509.1 796.8,2508.4 799.8,2507.6 802.8,2506.8 805.8,2506.1 808.8,2505.3 811.8,2504.5 814.8,2503.7 817.8,2502.9 820.8,2502.1 823.8,2501.3 826.8,2500.5 829.8,2499.7 832.8,2498.9 835.8,2498.1 838.8,2497.3 841.8,2496.5 844.8,2495.7 847.8,2494.8 850.8,2494.0 853.8,2493.2 856.8,2492.4 859.8,2491.5 862.8,2490.7 865.8,2489.9 868.8,2489.0 871.8,2488.2 874.8,2487.3 877.8,2486.5 880.8,2485.7 883.8,2484.8 886.8,2484.0 889.8,2483.1 892.8,2482.3 895.8,2481.4 898.8,2480.5 901.8,2479.7 904.8,2478.8 907.8,2478.0 910.8,2477.1 913.8,2476.2 916.8,2475.4 919.8,2474.5 922.8,2473.6 925.8,2472.8 928.8,2471.9 931.8,2471.0 934.8,2470.2 937.8,2469.3 940.8,2468.4 943.8,2467.6 946.8,2466.7 949.8,2465.8 952.8,2464.9 955.8,2464.1 958.8,2463.2 961.8,2462.3 964.8,2461.5 967.8,2460.6 970.8,2459.7 973.8,2458.8 976.8,2458.0 979.8,2457.1 982.8,2456.2 985.8,2455.3 988.8,2454.5 991.8,2453.6 994.8,2452.7 997.8,2451.8 1000.8,2451.0 1003.8,2450.1 1006.8,2449.2 1009.8,2448.3 1012.8,2447.5 1015.8,2446.6 1018.8,2445.7 1021.8,2444.9 1024.8,2444.0 1027.8,2443.1 1030.8,2442.3 1033.8,2441.4 1036.8,2440.5 1039.8,2439.7 1042.8,2438.8 1045.8,2437.9 1048.8,2437.1 1051.8,2436.2 1054.8,2435.4 1057.8,2434.5 1060.8,2433.6 1063.8,2432.8 1066.8,2431.9 1069.8,2431.1 1072.8,2430.2 1075.8,2429.4 1078.8,2428.5 1081.8,2427.7 1084.8,2426.9 1087.8,2426.0 1090.8,2425.2 1093.8,2424.3 1096.8,2423.5 1099.8,2422.7 1102.8,2421.8 1105.8,2421.0 1108.8,2420.2 1111.8,2419.4 1114.8,2418.5 1117.8,2417.7 1120.8,2416.9 1123.8,2416.1 1126.8,2415.3 1129.8,2414.5 1132.8,2413.6 1135.8,2412.8 1138.8,2412.0 1141.8,2411.2 1144.8,2410.4 1147.8,2409.7 1150.8,2408.9 1153.8,2408.1 1156.8,2407.3 1159.8,2406.5 1162.8,2405.7 1165.8,2404.9 1168.8,2404.2 1171.8,2403.4 1174.8,2402.6 1177.8,2401.9 1180.8,2401.1 1183.8,2400.4 1186.8,2399.6 1189.8,2398.9 1192.8,2398.1 1195.8,2397.4 1198.8,2396.6 1201.8,2395.9 1204.8,2395.2 1207.8,2394.4 1210.8,2393.7 1213.8,2393.0 1216.8,2392.3 1219.8,2391.6 1222.8,2390.9 1225.8,2390.2 1228.8,2389.5 1231.8,2388.8 1234.8,2388.1 1237.8,2387.4 1240.8,2386.7 1243.8,2386.1 1246.8,2385.4 1249.8,2384.7 1252.8,2384.1 1255.8,2383.4 1258.8,2382.7 1261.8,2382.1 1264.8,2381.5 1267.8,2380.8 1270.8,2380.2 1273.8,2379.6 1276.8,2378.9 1279.8,2378.3 1282.8,2377.7 1285.8,2377.1 1288.8,2376.5 1291.8,2375.9 1294.8,2375.3 1297.8,2374.7 1300.8,2374.1 1303.8,2373.6 1306.8,2373.0 1309.8,2372.4 1312.8,2371.9 1315.8,2371.3 1318.8,2370.8 1321.8,2370.2 1324.8,2369.7 1327.8,2369.1 1330.8,2368.6 1333.8,2368.1 1336.8,2367.6 1339.8,2367.1 1342.8,2366.5 1345.8,2366.0 1348.8,2365.5 1351.8,2365.0 1354.8,2364.6 1357.8,2364.1 1360.8,2363.6 1363.8,2363.1 1366.8,2362.6 1369.8,2362.2 1372.8,2361.7 1375.8,2361.3 1378.8,2360.8 1381.8,2360.4 1384.8,2359.9 1387.8,2359.5 1390.8,2359.0 1393.8,2358.6 1396.8,2358.2 1399.8,2357.8 1402.8,2357.4 1405.8,2356.9 1408.8,2356.5 1411.8,2356.1 1414.8,2355.7 1417.8,2355.3 1420.8,2354.9 1423.8,2354.6 1426.8,2354.2 1429.8,2353.8 1432.8,2353.4 1435.8,2353.1 1438.8,2352.7 1441.8,2352.3 1444.8,2352.0 1447.8,2351.6 1450.8,2351.3 1453.8,2350.9 1456.8,2350.6 1459.8,2350.3 1462.8,2349.9 1465.8,2349.6 1468.8,2349.3 1471.8,2349.0 1474.8,2348.7 1477.8,2348.3 1480.8,2348.0 1483.8,2347.7 1486.8,2347.4 1489.8,2347.1 1492.8,2346.8 1495.8,2346.6 1498.8,2346.3 1501.8,2346.0 1504.8,2345.7 1507.8,2345.4 1510.8,2345.2 1513.8,2344.9 1516.8,2344.6 1519.8,2344.4 1522.8,2344.1 1525.8,2343.9 1528.8,2343.6 1531.8,2343.4 1534.8,2343.1 1537.8,2342.9 1540.8,2342.7 1543.8,2342.4 1546.8,2342.2 1549.8,2342.0 1552.8,2341.8 1555.8,2341.5 1558.8,2341.3 1561.8,2341.1 1564.8,2340.9 1567.8,2340.7 1570.8,2340.5 1573.8,2340.3 1576.8,2340.1 1579.8,2339.9 1582.8,2339.7 1585.8,2339.5 1588.8,2339.4 1591.8,2339.2 1594.8,2339.0 1597.8,2338.8 1600.8,2338.7 1603.8,2338.5 1606.8,2338.3 1609.8,2338.2 1612.8,2338.0 1615.8,2337.9 1618.8,2337.7 1621.8,2337.6 1624.8,2337.4 1627.8,2337.3 1630.8,2337.1 1633.8,2337.0 1636.8,2336.8 1639.8,2336.7 1642.8,2336.6 1645.8,2336.4 1648.8,2336.3 1651.8,2336.2 1654.8,2336.1 1657.8,2336.0 1660.8,2335.8 1663.8,2335.7 1666.8,2335.6 1669.8,2335.5 1672.8,2335.4 1675.8,2335.3 1678.8,2335.2 1681.8,2335.1 1684.8,2335.0 1687.8,2334.9 1690.8,2334.8 1693.8,2334.7 1696.8,2334.6 1699.8,2334.6 1702.8,2334.5 1705.8,2334.4 1708.8,2334.3 1711.8,2334.2 1714.8,2334.2 1717.8,2334.1 1720.8,2334.0 1723.8,2334.0 1726.8,2333.9 1729.8,2333.8 1732.8,2333.8 1735.8,2333.7 1738.8,2333.6 1741.8,2333.6 1744.8,2333.5 1747.8,2333.5 1750.8,2333.4 1753.8,2333.4 1756.8,2333.3 1759.8,2333.3 1762.8,2333.3 1765.8,2333.2 1768.8,2333.2 1771.8,2333.1 1774.8,2333.1 1777.8,2333.1 1780.8,2333.0 1783.8,2333.0 1786.8,2333.0 1789.8,2332.9 1792.8,2332.9 1795.8,2332.9 1798.8,2332.9 1801.8,2332.8 1804.8,2332.8 1807.8,2332.8 1810.8,2332.8 1813.8,2332.8 1816.8,2332.7 1819.8,2332.7 1822.8,2332.7 1825.8,2332.7 1828.8,2332.7 1831.8,2332.7 1834.8,2332.7 1837.8,2332.7 1840.8,2332.7 1843.8,2332.7 1846.8,2332.7 1849.8,2332.7 1852.8,2332.7 1855.8,2332.7 1858.8,2332.7 1861.8,2332.7 1864.8,2332.7 1867.8,2332.7 1870.8,2332.7 1873.8,2332.7 1876.8,2332.7 1879.8,2332.7 1882.8,2332.7 1885.8,2332.7 1888.8,2332.7 1891.8,2332.7 1894.8,2332.7 1897.8,2332.8 1900.8,2332.8 1903.8,2332.8 1906.8,2332.8 1909.8,2332.8 1912.8,2332.8 1915.8,2332.8 1918.8,2332.9 1921.8,2332.9 1924.8,2332.9 1927.8,2332.9 1930.8,2332.9 1933.8,2333.0 1936.8,2333.0 1939.8,2333.0 1942.8,2333.0 1945.8,2333.0 1948.8,2333.1 1951.8,2333.1 1954.8,2333.1 1957.8,2333.1 1960.8,2333.1 1963.8,2333.2 1966.8,2333.2 1969.8,2333.2 1972.8,2333.2 1975.8,2333.3 1978.8,2333.3 1981.8,2333.3 1984.8,2333.3 1987.8,2333.4 1990.8,2333.4 1993.8,2333.4 1996.8,2333.4 1999.8,2333.4 2002.8,2333.5 2005.8,2333.5 2008.8,2333.5 2011.8,2333.5 2014.8,2333.6 2017.8,2333.6 2020.8,2333.6 2023.8,2333.6 2026.8,2333.7 2029.8,2333.7 2032.8,2333.7 2035.8,2333.7 2038.8,2333.7 2041.8,2333.8 2044.8,2333.8 2047.8,2333.8 2050.8,2333.8 2053.8,2333.8 2056.8,2333.9 2059.8,2333.9 2062.8,2333.9 2065.8,2333.9 2068.8,2333.9 2071.8,2333.9 2074.8,2334.0 2077.8,2334.0 2080.8,2334.0 2083.8,2334.0 2086.8,2334.0 2089.8,2334.0 2092.8,2334.0 2095.8,2334.1 2098.8,2334.1 2101.8,2334.1 2104.8,2334.1 2107.8,2334.1 2110.8,2334.1 2113.8,2334.1 2116.8,2334.1 2119.8,2334.1 2122.8,2334.1 2125.8,2334.1 2128.8,2334.1 2131.8,2334.1 2134.8,2334.1 2137.8,2334.1 2140.8,2334.1 2143.8,2334.1 2146.8,2334.1 2149.8,2334.1 2152.8,2334.1 2155.8,2334.1 2158.8,2334.1 2161.8,2334.0 2164.8,2334.0 2167.8,2334.0 2170.8,2334.0 2173.8,2334.0 2176.8,2334.0 2179.8,2333.9 2182.8,2333.9 2185.8,2333.9 2188.8,2333.9 2191.8,2333.9 2194.8,2333.8 2197.8,2333.8 2200.8,2333.8 2203.8,2333.7 2206.8,2333.7 2209.8,2333.7 2212.8,2333.6 2215.8,2333.6 2218.8,2333.5 2221.8,2333.5 2224.8,2333.5 2227.8,2333.4 2230.8,2333.4 2233.8,2333.3 2236.8,2333.3 2239.8,2333.2 2242.8,2333.2 2245.8,2333.1 2248.8,2333.0 2251.8,2333.0 2254.8,2332.9 2257.8,2332.9 2260.8,2332.8 2263.8,2332.7 2266.8,2332.7 2269.8,2332.6 2272.8,2332.5 2275.8,2332.4 2278.8,2332.4 2281.8,2332.3 2284.8,2332.2 2287.8,2332.1 2290.8,2332.0 2293.8,2331.9 2296.8,2331.8 2299.8,2331.7 2302.8,2331.6 2305.8,2331.5 2308.8,2331.4 2311.8,2331.3 2314.8,2331.2 2317.8,2331.1 2320.8,2331.0 2323.8,2330.9 2326.8,2330.8 2328.2,2330.7" stroke="#00ff00" stroke-dasharray="17 23.13"/>
<path d="M502.8,2230.9 505.8,2230.9 508.8,2230.9 511.8,2230.9 514.8,2230.8 517.8,2230.7 520.8,2230.6 523.8,2230.5 526.8,2230.4 529.8,2230.3 532.8,2230.1 535.8,2229.9 538.8,2229.8 541.8,2229.5 544.8,2229.3 547.8,2229.1 550.8,2228.8 553.8,2228.6 556.8,2228.3 559.8,2228.0 562.8,2227.7 565.8,2227.3 568.8,2227.0 571.8,2226.6 574.8,2226.2 577.8,2225.9 580.8,2225.4 583.8,2225.0 586.8,2224.6 589.8,2224.1 592.8,2223.7 595.8,2223.2 598.8,2222.7 601.8,2222.2 604.8,2221.7 607.8,2221.1 610.8,2220.6 613.8,2220.0 616.8,2219.4 619.8,2218.8 622.8,2218.2 625.8,2217.6 628.8,2217.0 631.8,2216.3 634.8,2215.6 637.8,2215.0 640.8,2214.3 643.8,2213.6 646.8,2212.9 649.8,2212.1 652.8,2211.4 655.8,2210.6 658.8,2209.9 661.8,2209.1 664.8,2208.3 667.8,2207.5 670.8,2206.7 673.8,2205.8 676.8,2205.0 679.8,2204.1 682.8,2203.3 685.8,2202.4 688.8,2201.5 691.8,2200.6 694.8,2199.7 697.8,2198.8 700.8,2197.8 703.8,2196.9 706.8,2195.9 709.8,2195.0 712.8,2194.0 715.8,2193.0 718.8,2192.0 721.8,2191.0 724.8,2190.0 727.8,2189.0 730.8,2187.9 733.8,2186.9 736.8,2185.9 739.8,2184.8 742.8,2183.8 745.8,2182.7 748.8,2181.6 751.8,2180.6 754.8,2179.5 757.8,2178.4 760.8,2177.3 763.8,2176.3 766.8,2175.2 769.8,2174.1 772.8,2173.0 775.8,2171.9 778.8,2170.8 781.8,2169.7 784.8,2168.6 787.8,2167.5 790.8,2166.4 793.8,2165.3 796.8,2164.3 799.8,2163.2 802.8,2162.1 805.8,2161.0 808.8,2159.9 811.8,2158.8 814.8,2157.8 817.8,2156.7 820.8,2155.6 823.8,2154.6 826.8,2153.5 829.8,2152.5 832.8,2151.4 835.8,2150.4 838.8,2149.4 841.8,2148.4 844.8,2147.4 847.8,2146.4 850.8,2145.4 853.8,2144.4 856.8,2143.4 859.8,2142.4 862.8,2141.5 865.8,2140.5 868.8,2139.6 871.8,2138.7 874.8,2137.8 877.8,2136.9 880.8,2136.0 883.8,2135.1 886.8,2134.2 889.8,2133.3 892.8,2132.5 895.8,2131.6 898.8,2130.8 901.8,2129.9 904.8,2129.1 907.8,2128.3 910.8,2127.5 913.8,2126.7 916.8,2125.9 919.8,2125.2 922.8,2124.4 925.8,2123.6 928.8,2122.9 931.8,2122.2 934.8,2121.4 937.8,2120.7 940.8,2120.0 943.8,2119.3 946.8,2118.7 949.8,2118.0 952.8,2117.3 955.8,2116.7 958.8,2116.0 961.8,2115.4 964.8,2114.8 967.8,2114.2 970.8,2113.6 973.8,2113.0 976.8,2112.4 979.8,2111.8 982.8,2111.3 985.8,2110.7 988.8,2110.2 991.8,2109.7 994.8,2109.1 997.8,2108.6 1000.8,2108.2 1003.8,2107.7 1006.8,2107.2 1009.8,2106.7 1012.8,2106.3 1015.8,2105.8 1018.8,2105.4 1021.8,2105.0 1024.8,2104.6 1027.8,2104.2 1030.8,2103.8 1033.8,2103.4 1036.8,2103.1 1039.8,2102.7 1042.8,2102.4 1045.8,2102.0 1048.8,2101.7 1051.8,2101.4 1054.8,2101.1 1057.8,2100.8 1060.8,2100.6 1063.8,2100.3 1066.8,2100.0 1069.8,2099.8 1072.8,2099.6 1075.8,2099.3 1078.8,2099.1 1081.8,2098.9 1084.8,2098.8 1087.8,2098.6 1090.8,2098.4 1093.8,2098.3 1096.8,2098.1 1099.8,2098.0 1102.8,2097.9 1105.8,2097.8 1108.8,2097.7 1111.8,2097.6 1114.8,2097.6 1117.8,2097.5 1120.8,2097.5 1123.8,2097.4 1126.8,2097.4 1129.8,2097.4 1132.8,2097.4 1135.8,2097.4 1138.8,2097.5 1141.8,2097.5 1144.8,2097.6 1147.8,2097.6 1150.8,2097.7 1153.8,2097.8 1156.8,2097.9 1159.8,2098.0 1162.8,2098.1 1165.8,2098.3 1168.8,2098.4 1171.8,2098.6 1174.8,2098.7 1177.8,2098.9 1180.8,2099.1 1183.8,2099.3 1186.8,2099.6 1189.8,2099.8 1192.8,2100.1 1195.8,2100.3 1198.8,2100.6 1201.8,2100.9 1204.8,2101.2 1207.8,2101.5 1210.8,2101.8 1213.8,2102.1 1216.8,2102.5 1219.8,2102.8 1222.8,2103.2 1225.8,2103.6 1228.8,2104.0 1231.8,2104.4 1234.8,2104.8 1237.8,2105.2 1240.8,2105.6 1243.8,2106.1 1246.8,2106.5 1249.8,2107.0 1252.8,2107.4 1255.8,2107.9 1258.8,2108.4 1261.8,2108.9 1264.8,2109.4 1267.8,2109.9 1270.8,2110.4 1273.8,2110.9 1276.8,2111.4 1279.8,2112.0 1282.8,2112.5 1285.8,2113.1 1288.8,2113.6 1291.8,2114.2 1294.8,2114.8 1297.8,2115.4 1300.8,2115.9 1303.8,2116.5 1306.8,2117.1 1309.8,2117.7 1312.8,2118.3 1315.8,2119.0 1318.8,2119.6 1321.8,2120.2 1324.8,2120.8 1327.8,2121.5 1330.8,2122.1 1333.8,2122.7 1336.8,2123.4 1339.8,2124.0 1342.8,2124.7 1345.8,2125.4 1348.8,2126.0 1351.8,2126.7 1354.8,2127.4 1357.8,2128.0 1360.8,2128.7 1363.8,2129.4 1366.8,2130.1 1369.8,2130.8 1372.8,2131.4 1375.8,2132.1 1378.8,2132.8 1381.8,2133.5 1384.8,2134.2 1387.8,2134.9 1390.8,2135.6 1393.8,2136.3 1396.8,2137.0 1399.8,2137.7 1402.8,2138.4 1405.8,2139.1 1408.8,2139.8 1411.8,2140.5 1414.8,2141.2 1417.8,2141.9 1420.8,2142.6 1423.8,2143.2 1426.8,2143.9 1429.8,2144.6 1432.8,2145.3 1435.8,2146.0 1438.8,2146.7 1441.8,2147.4 1444.8,2148.1 1447.8,2148.8 1450.8,2149.4 1453.8,2150.1 1456.8,2150.8 1459.8,2151.5 1462.8,2152.1 1465.8,2152.8 1468.8,2153.5 1471.8,2154.1 1474.8,2154.8 1477.8,2155.4 1480.8,2156.1 1483.8,2156.7 1486.8,2157.3 1489.8,2158.0 1492.8,2158.6 1495.8,2159.2 1498.8,2159.9 1501.8,2160.5 1504.8,2161.1 1507.8,2161.7 1510.8,2162.3 1513.8,2162.9 1516.8,2163.5 1519.8,2164.1 1522.8,2164.7 1525.8,2165.3 1528.8,2165.9 1531.8,2166.4 1534.8,2167.0 1537.8,2167.6 1540.8,2168.2 1543.8,2168.7 1546.8,2169.3 1549.8,2169.9 1552.8,2170.4 1555.8,2171.0 1558.8,2171.5 1561.8,2172.1 1564.8,2172.6 1567.8,2173.1 1570.8,2173.7 1573.8,2174.2 1576.8,2174.7 1579.8,2175.3 1582.8,2175.8 1585.8,2176.3 1588.8,2176.8 1591.8,2177.4 1594.8,2177.9 1597.8,2178.4 1600.8,2178.9 1603.8,2179.4 1606.8,2179.9 1609.8,2180.4 1612.8,2180.9 1615.8,2181.4 1618.8,2181.9 1621.8,2182.4 1624.8,2182.9 1627.8,2183.3 1630.8,2183.8 1633.8,2184.3 1636.8,2184.8 1639.8,2185.3 1642.8,2185.7 1645.8,2186.2 1648.8,2186.7 1651.8,2187.1 1654.8,2187.6 1657.8,2188.1 1660.8,2188.5 1663.8,2189.0 1666.8,2189.5 1669.8,2189.9 1672.8,2190.4 1675.8,2190.8 1678.8,2191.3 1681.8,2191.7 1684.8,2192.2 1687.8,2192.6 1690.8,2193.1 1693.8,2193.5 1696.8,2194.0 1699.8,2194.4 1702.8,2194.8 1705.8,2195.3 1708.8,2195.7 1711.8,2196.1 1714.8,2196.6 1717.8,2197.0 1720.8,2197.4 1723.8,2197.9 1726.8,2198.3 1729.8,2198.7 1732.8,2199.2 1735.8,2199.6 1738.8,2200.0 1741.8,2200.4 1744.8,2200.8 1747.8,2201.3 1750.8,2201.7 1753.8,2202.1 1756.8,2202.5 1759.8,2202.9 1762.8,2203.3 1765.8,2203.8 1768.8,2204.2 1771.8,2204.6 1774.8,2205.0 1777.8,2205.4 1780.8,2205.8 1783.8,2206.2 1786.8,2206.6 1789.8,2207.0 1792.8,2207.4 1795.8,2207.8 1798.8,2208.2 1801.8,2208.6 1804.8,2209.0 1807.8,2209.4 1810.8,2209.8 1813.8,2210.2 1816.8,2210.5 1819.8,2210.9 1822.8,2211.3 1825.8,2211.7 1828.8,2212.1 1831.8,2212.5 1834.8,2212.9 1837.8,2213.2 1840.8,2213.6 1843.8,2214.0 1846.8,2214.4 1849.8,2214.7 1852.8,2215.1 1855.8,2215.5 1858.8,2215.9 1861.8,2216.2 1864.8,2216.6 1867.8,2217.0 1870.8,2217.3 1873.8,2217.7 1876.8,2218.0 1879.8,2218.4 1882.8,2218.8 1885.8,2219.1 1888.8,2219.5 1891.8,2219.8 1894.8,2220.2 1897.8,2220.6 1900.8,2220.9 1903.8,2221.3 1906.8,2221.6 1909.8,2222.0 1912.8,2222.3 1915.8,2222.6 1918.8,2223.0 1921.8,2223.3 1924.8,2223.7 1927.8,2224.0 1930.8,2224.4 1933.8,2224.7 1936.8,2225.0 1939.8,2225.4 1942.8,2225.7 1945.8,2226.0 1948.8,2226.4 1951.8,2226.7 1954.8,2227.0 1957.8,2227.3 1960.8,2227.7 1963.8,2228.0 1966.8,2228.3 1969.8,2228.6 1972.8,2229.0 1975.8,2229.3 1978.8,2229.6 1981.8,2229.9 1984.8,2230.2 1987.8,2230.6 1990.8,2230.9 1993.8,2231.2 1996.8,2231.5 1999.8,2231.8 2002.8,2232.1 2005.8,2232.4 2008.8,2232.7 2011.8,2233.0 2014.8,2233.3 2017.8,2233.6 2020.8,2233.9 2023.8,2234.2 2026.8,2234.5 2029.8,2234.8 2032.8,2235.1 2035.8,2235.4 2038.8,2235.7 2041.8,2236.0 2044.8,2236.3 2047.8,2236.6 2050.8,2236.9 2053.8,2237.2 2056.8,2237.4 2059.8,2237.7 2062.8,2238.0 2065.8,2238.3 2068.8,2238.6 2071.8,2238.9 2074.8,2239.1 2077.8,2239.4 2080.8,2239.7 2083.8,2240.0 2086.8,2240.2 2089.8,2240.5 2092.8,2240.8 2095.8,2241.1 2098.8,2241.3 2101.8,2241.6 2104.8,2241.9 2107.8,2242.1 2110.8,2242.4 2113.8,2242.6 2116.8,2242.9 2119.8,2243.2 2122.8,2243.4 2125.8,2243.7 2128.8,2243.9 2131.8,2244.2 2134.8,2244.4 2137.8,2244.7 2140.8,2244.9 2143.8,2245.2 2146.8,2245.4 2149.8,2245.7 2152.8,2245.9 2155.8,2246.2 2158.8,2246.4 2161.8,2246.7 2164.8,2246.9 2167.8,2247.2 2170.8,2247.4 2173.8,2247.6 2176.8,2247.9 2179.8,2248.1 2182.8,2248.3 2185.8,2248.6 2188.8,2248.8 2191.8,2249.0 2194.8,2249.3 2197.8,2249.5 2200.8,2249.7 2203.8,2249.9 2206.8,2250.2 2209.8,2250.4 2212.8,2250.6 2215.8,2250.8 2218.8,2251.1 2221.8,2251.3 2224.8,2251.5 2227.8,2251.7 2230.8,2251.9 2233.8,2252.1 2236.8,2252.3 2239.8,2252.6 2242.8,2252.8 2245.8,2253.0 2248.8,2253.2 2251.8,2253.4 2254.8,2253.6 2257.8,2253.8 2260.8,2254.0 2263.8,2254.2 2266.8,2254.4 2269.8,2254.6 2272.8,2254.8 2275.8,2255.0 2278.8,2255.2 2281.8,2255.4 2284.8,2255.6 2287.8,2255.8 2290.8,2256.0 2293.8,2256.2 2296.8,2256.3 2299.8,2256.5 2302.8,2256.7 2305.8,2256.9 2308.8,2257.1 2311.8,2257.3 2314.8,2257.4 2317.8,2257.6 2320.8,2257.8 2323.8,2258.0 2326.8,2258.2 2328.2,2258.2" stroke="#ff00ff"/>
<path d="M502.8,2231.9 505.8,2231.9 508.8,2231.9 511.8,2231.9 514.8,2231.9 517.8,2231.9 520.8,2231.9 523.8,2231.9 526.8,2231.9 529.8,2231.9 532.8,2231.9 535.8,2231.9 538.8,2231.9 541.8,2231.9 544.8,2231.9 547.8,2231.9 550.8,2232.0 553.8,2232.0 556.8,2232.0 559.8,2232.0 562.8,2232.0 565.8,2232.0 568.8,2232.0 571.8,2232.0 574.8,2232.0 577.8,2232.0 580.8,2232.0 583.8,2232.0 586.8,2232.1 589.8,2232.1 592.8,2232.1 595.8,2232.1 598.8,2232.1 601.8,2232.1 604.8,2232.1 607.8,2232.1 610.8,2232.2 613.8,2232.2 616.8,2232.2 619.8,2232.2 622.8,2232.2 625.8,2232.2 628.8,2232.3 631.8,2232.3 634.8,2232.3 637.8,2232.3 640.8,2232.3 643.8,2232.4 646.8,2232.4 649.8,2232.4 652.8,2232.4 655.8,2232.5 658.8,2232.5 661.8,2232.5 664.8,2232.6 667.8,2232.6 670.8,2232.6 673.8,2232.6 676.8,2232.7 679.8,2232.7 682.8,2232.7 685.8,2232.8 688.8,2232.8 691.8,2232.9 694.8,2232.9 697.8,2232.9 700.8,2233.0 703.8,2233.0 706.8,2233.1 709.8,2233.1 712.8,2233.2 715.8,2233.2 718.8,2233.3 721.8,2233.3 724.8,2233.4 727.8,2233.4 730.8,2233.5 733.8,2233.5 736.8,2233.6 739.8,2233.6 742.8,2233.7 745.8,2233.8 748.8,2233.8 751.8,2233.9 754.8,2234.0 757.8,2234.0 760.8,2234.1 763.8,2234.2 766.8,2234.2 769.8,2234.3 772.8,2234.4 775.8,2234.5 778.8,2234.5 781.8,2234.6 784.8,2234.7 787.8,2234.8 790.8,2234.9 793.8,2235.0 796.8,2235.1 799.8,2235.2 802.8,2235.2 805.8,2235.3 808.8,2235.4 811.8,2235.5 814.8,2235.6 817.8,2235.7 820.8,2235.8 823.8,2236.0 826.8,2236.1 829.8,2236.2 832.8,2236.3 835.8,2236.4 838.8,2236.5 841.8,2236.6 844.8,2236.8 847.8,2236.9 850.8,2237.0 853.8,2237.1 856.8,2237.3 859.8,2237.4 862.8,2237.5 865.8,2237.7 868.8,2237.8 871.8,2237.9 874.8,2238.1 877.8,2238.2 880.8,2238.4 883.8,2238.5 886.8,2238.7 889.8,2238.8 892.8,2239.0 895.8,2239.1 898.8,2239.3 901.8,2239.4 904.8,2239.6 907.8,2239.8 910.8,2239.9 913.8,2240.1 916.8,2240.3 919.8,2240.5 922.8,2240.6 925.8,2240.8 928.8,2241.0 931.8,2241.2 934.8,2241.4 937.8,2241.6 940.8,2241.8 943.8,2242.0 946.8,2242.2 949.8,2242.4 952.8,2242.6 955.8,2242.8 958.8,2243.0 961.8,2243.2 964.8,2243.4 967.8,2243.6 970.8,2243.8 973.8,2244.1 976.8,2244.3 979.8,2244.5 982.8,2244.7 985.8,2245.0 988.8,2245.2 991.8,2245.4 994.8,2245.7 997.8,2245.9 1000.8,2246.2 1003.8,2246.4 1006.8,2246.6 1009.8,2246.9 1012.8,2247.1 1015.8,2247.4 1018.8,2247.6 1021.8,2247.9 1024.8,2248.1 1027.8,2248.4 1030.8,2248.7 1033.8,2248.9 1036.8,2249.2 1039.8,2249.5 1042.8,2249.7 1045.8,2250.0 1048.8,2250.3 1051.8,2250.5 1054.8,2250.8 1057.8,2251.1 1060.8,2251.4 1063.8,2251.7 1066.8,2251.9 1069.8,2252.2 1072.8,2252.5 1075.8,2252.8 1078.8,2253.1 1081.8,2253.4 1084.8,2253.7 1087.8,2254.0 1090.8,2254.3 1093.8,2254.6 1096.8,2254.9 1099.8,2255.2 1102.8,2255.5 1105.8,2255.8 1108.8,2256.1 1111.8,2256.4 1114.8,2256.7 1117.8,2257.0 1120.8,2257.3 1123.8,2257.6 1126.8,2257.9 1129.8,2258.2 1132.8,2258.5 1135.8,2258.9 1138.8,2259.2 1141.8,2259.5 1144.8,2259.8 1147.8,2260.1 1150.8,2260.4 1153.8,2260.8 1156.8,2261.1 1159.8,2261.4 1162.8,2261.7 1165.8,2262.1 1168.8,2262.4 1171.8,2262.7 1174.8,2263.1 1177.8,2263.4 1180.8,2263.7 1183.8,2264.0 1186.8,2264.4 1189.8,2264.7 1192.8,2265.0 1195.8,2265.4 1198.8,2265.7 1201.8,2266.1 1204.8,2266.4 1207.8,2266.7 1210.8,2267.1 1213.8,2267.4 1216.8,2267.7 1219.8,2268.1 1222.8,2268.4 1225.8,2268.8 1228.8,2269.1 1231.8,2269.4 1234.8,2269.8 1237.8,2270.1 1240.8,2270.4 1243.8,2270.8 1246.8,2271.1 1249.8,2271.5 1252.8,2271.8 1255.8,2272.1 1258.8,2272.5 1261.8,2272.8 1264.8,2273.2 1267.8,2273.5 1270.8,2273.8 1273.8,2274.2 1276.8,2274.5 1279.8,2274.8 1282.8,2275.2 1285.8,2275.5 1288.8,2275.8 1291.8,2276.2 1294.8,2276.5 1297.8,2276.8 1300.8,2277.2 1303.8,2277.5 1306.8,2277.8 1309.8,2278.2 1312.8,2278.5 1315.8,2278.8 1318.8,2279.2 1321.8,2279.5 1324.8,2279.8 1327.8,2280.1 1330.8,2280.5 1333.8,2280.8 1336.8,2281.1 1339.8,2281.4 1342.8,2281.7 1345.8,2282.0 1348.8,2282.4 1351.8,2282.7 1354.8,2283.0 1357.8,2283.3 1360.8,2283.6 1363.8,2283.9 1366.8,2284.2 1369.8,2284.5 1372.8,2284.8 1375.8,2285.1 1378.8,2285.4 1381.8,2285.7 1384.8,2286.0 1387.8,2286.3 1390.8,2286.6 1393.8,2286.9 1396.8,2287.2 1399.8,2287.5 1402.8,2287.7 1405.8,2288.0 1408.8,2288.3 1411.8,2288.6 1414.8,2288.9 1417.8,2289.1 1420.8,2289.4 1423.8,2289.7 1426.8,2290.0 1429.8,2290.2 1432.8,2290.5 1435.8,2290.8 1438.8,2291.0 1441.8,2291.3 1444.8,2291.5 1447.8,2291.8 1450.8,2292.1 1453.8,2292.3 1456.8,2292.6 1459.8,2292.8 1462.8,2293.1 1465.8,2293.3 1468.8,2293.6 1471.8,2293.8 1474.8,2294.0 1477.8,2294.3 1480.8,2294.5 1483.8,2294.8 1486.8,2295.0 1489.8,2295.2 1492.8,2295.5 1495.8,2295.7 1498.8,2295.9 1501.8,2296.2 1504.8,2296.4 1507.8,2296.6 1510.8,2296.8 1513.8,2297.0 1516.8,2297.3 1519.8,2297.5 1522.8,2297.7 1525.8,2297.9 1528.8,2298.1 1531.8,2298.3 1534.8,2298.5 1537.8,2298.8 1540.8,2299.0 1543.8,2299.2 1546.8,2299.4 1549.8,2299.6 1552.8,2299.8 1555.8,2300.0 1558.8,2300.2 1561.8,2300.4 1564.8,2300.6 1567.8,2300.8 1570.8,2301.0 1573.8,2301.1 1576.8,2301.3 1579.8,2301.5 1582.8,2301.7 1585.8,2301.9 1588.8,2302.1 1591.8,2302.3 1594.8,2302.4 1597.8,2302.6 1600.8,2302.8 1603.8,2303.0 1606.8,2303.1 1609.8,2303.3 1612.8,2303.5 1615.8,2303.7 1618.8,2303.8 1621.8,2304.0 1624.8,2304.2 1627.8,2304.3 1630.8,2304.5 1633.8,2304.6 1636.8,2304.8 1639.8,2305.0 1642.8,2305.1 1645.8,2305.3 1648.8,2305.4 1651.8,2305.6 1654.8,2305.7 1657.8,2305.9 1660.8,2306.0 1663.8,2306.2 1666.8,2306.3 1669.8,2306.5 1672.8,2306.6 1675.8,2306.8 1678.8,2306.9 1681.8,2307.0 1684.8,2307.2 1687.8,2307.3 1690.8,2307.5 1693.8,2307.6 1696.8,2307.7 1699.8,2307.9 1702.8,2308.0 1705.8,2308.1 1708.8,2308.2 1711.8,2308.4 1714.8,2308.5 1717.8,2308.6 1720.8,2308.8 1723.8,2308.9 1726.8,2309.0 1729.8,2309.1 1732.8,2309.2 1735.8,2309.4 1738.8,2309.5 1741.8,2309.6 1744.8,2309.7 1747.8,2309.8 1750.8,2309.9 1753.8,2310.0 1756.8,2310.1 1759.8,2310.3 1762.8,2310.4 1765.8,2310.5 1768.8,2310.6 1771.8,2310.7 1774.8,2310.8 1777.8,2310.9 1780.8,2311.0 1783.8,2311.1 1786.8,2311.2 1789.8,2311.3 1792.8,2311.4 1795.8,2311.5 1798.8,2311.6 1801.8,2311.7 1804.8,2311.7 1807.8,2311.8 1810.8,2311.9 1813.8,2312.0 1816.8,2312.1 1819.8,2312.2 1822.8,2312.3 1825.8,2312.4 1828.8,2312.4 1831.8,2312.5 1834.8,2312.6 1837.8,2312.7 1840.8,2312.8 1843.8,2312.9 1846.8,2312.9 1849.8,2313.0 1852.8,2313.1 1855.8,2313.2 1858.8,2313.2 1861.8,2313.3 1864.8,2313.4 1867.8,2313.4 1870.8,2313.5 1873.8,2313.6 1876.8,2313.7 1879.8,2313.7 1882.8,2313.8 1885.8,2313.9 1888.8,2313.9 1891.8,2314.0 1894.8,2314.0 1897.8,2314.1 1900.8,2314.2 1903.8,2314.2 1906.8,2314.3 1909.8,2314.3 1912.8,2314.4 1915.8,2314.5 1918.8,2314.5 1921.8,2314.6 1924.8,2314.6 1927.8,2314.7 1930.8,2314.7 1933.8,2314.8 1936.8,2314.8 1939.8,2314.9 1942.8,2314.9 1945.8,2315.0 1948.8,2315.0 1951.8,2315.1 1954.8,2315.1 1957.8,2315.2 1960.8,2315.2 1963.8,2315.3 1966.8,2315.3 1969.8,2315.4 1972.8,2315.4 1975.8,2315.5 1978.8,2315.5 1981.8,2315.6 1984.8,2315.6 1987.8,2315.6 1990.8,2315.7 1993.8,2315.7 1996.8,2315.8 1999.8,2315.8 2002.8,2315.9 2005.8,2315.9 2008.8,2315.9 2011.8,2316.0 2014.8,2316.0 2017.8,2316.1 2020.8,2316.1 2023.8,2316.1 2026.8,2316.2 2029.8,2316.2 2032.8,2316.2 2035.8,2316.3 2038.8,2316.3 2041.8,2316.4 2044.8,2316.4 2047.8,2316.4 2050.8,2316.5 2053.8,2316.5 2056.8,2316.5 2059.8,2316.6 2062.8,2316.6 2065.8,2316.6 2068.8,2316.7 2071.8,2316.7 2074.8,2316.8 2077.8,2316.8 2080.8,2316.8 2083.8,2316.9 2086.8,2316.9 2089.8,2316.9 2092.8,2317.0 2095.8,2317.0 2098.8,2317.0 2101.8,2317.1 2104.8,2317.1 2107.8,2317.1 2110.8,2317.2 2113.8,2317.2 2116.8,2317.2 2119.8,2317.3 2122.8,2317.3 2125.8,2317.4 2128.8,2317.4 2131.8,2317.4 2134.8,2317.5 2137.8,2317.5 2140.8,2317.5 2143.8,2317.6 2146.8,2317.6 2149.8,2317.6 2152.8,2317.7 2155.8,2317.7 2158.8,2317.8 2161.8,2317.8 2164.8,2317.8 2167.8,2317.9 2170.8,2317.9 2173.8,2318.0 2176.8,2318.0 2179.8,2318.0 2182.8,2318.1 2185.8,2318.1 2188.8,2318.2 2191.8,2318.2 2194.8,2318.2 2197.8,2318.3 2200.8,2318.3 2203.8,2318.4 2206.8,2318.4 2209.8,2318.5 2212.8,2318.5 2215.8,2318.6 2218.8,2318.6 2221.8,2318.6 2224.8,2318.7 2227.8,2318.7 2230.8,2318.8 2233.8,2318.8 2236.8,2318.9 2239.8,2318.9 2242.8,2319.0 2245.8,2319.0 2248.8,2319.1 2251.8,2319.1 2254.8,2319.2 2257.8,2319.3 2260.8,2319.3 2263.8,2319.4 2266.8,2319.4 2269.8,2319.5 2272.8,2319.5 2275.8,2319.6 2278.8,2319.7 2281.8,2319.7 2284.8,2319.8 2287.8,2319.8 2290.8,2319.9 2293.8,2320.0 2296.8,2320.0 2299.8,2320.1 2302.8,2320.2 2305.8,2320.2 2308.8,2320.3 2311.8,2320.4 2314.8,2320.4 2317.8,2320.5 2320.8,2320.6 2323.8,2320.6 2326.8,2320.7 2328.2,2320.8" stroke="#ff00ff" stroke-dasharray="98 30.5 17.5 30.5"/>
<path d="M502.8,2425.3 505.8,2425.3 508.8,2425.3 511.8,2425.3 514.8,2425.2 517.8,2425.2 520.8,2425.2 523.8,2425.2 526.8,2425.1 529.8,2425.1 532.8,2425.1 535.8,2425.0 538.8,2425.0 541.8,2424.9 544.8,2424.9 547.8,2424.8 550.8,2424.8 553.8,2424.7 556.8,2424.6 559.8,2424.5 562.8,2424.5 565.8,2424.4 568.8,2424.3 571.8,2424.2 574.8,2424.1 577.8,2424.0 580.8,2423.9 583.8,2423.8 586.8,2423.7 589.8,2423.6 592.8,2423.5 595.8,2423.4 598.8,2423.3 601.8,2423.2 604.8,2423.0 607.8,2422.9 610.8,2422.8 613.8,2422.7 616.8,2422.5 619.8,2422.4 622.8,2422.2 625.8,2422.1 628.8,2421.9 631.8,2421.8 634.8,2421.6 637.8,2421.5 640.8,2421.3 643.8,2421.1 646.8,2421.0 649.8,2420.8 652.8,2420.6 655.8,2420.5 658.8,2420.3 661.8,2420.1 664.8,2419.9 667.8,2419.7 670.8,2419.5 673.8,2419.3 676.8,2419.1 679.8,2419.0 682.8,2418.8 685.8,2418.5 688.8,2418.3 691.8,2418.1 694.8,2417.9 697.8,2417.7 700.8,2417.5 703.8,2417.3 706.8,2417.1 709.8,2416.8 712.8,2416.6 715.8,2416.4 718.8,2416.1 721.8,2415.9 724.8,2415.7 727.8,2415.4 730.8,2415.2 733.8,2414.9 736.8,2414.7 739.8,2414.5 742.8,2414.2 745.8,2414.0 748.8,2413.7 751.8,2413.4 754.8,2413.2 757.8,2412.9 760.8,2412.7 763.8,2412.4 766.8,2412.1 769.8,2411.9 772.8,2411.6 775.8,2411.3 778.8,2411.0 781.8,2410.8 784.8,2410.5 787.8,2410.2 790.8,2409.9 793.8,2409.6 796.8,2409.4 799.8,2409.1 802.8,2408.8 805.8,2408.5 808.8,2408.2 811.8,2407.9 814.8,2407.6 817.8,2407.3 820.8,2407.0 823.8,2406.7 826.8,2406.4 829.8,2406.1 832.8,2405.8 835.8,2405.5 838.8,2405.2 841.8,2404.9 844.8,2404.5 847.8,2404.2 850.8,2403.9 853.8,2403.6 856.8,2403.3 859.8,2403.0 862.8,2402.6 865.8,2402.3 868.8,2402.0 871.8,2401.7 874.8,2401.3 877.8,2401.0 880.8,2400.7 883.8,2400.3 886.8,2400.0 889.8,2399.7 892.8,2399.4 895.8,2399.0 898.8,2398.7 901.8,2398.3 904.8,2398.0 907.8,2397.7 910.8,2397.3 913.8,2397.0 916.8,2396.6 919.8,2396.3 922.8,2396.0 925.8,2395.6 928.8,2395.3 931.8,2394.9 934.8,2394.6 937.8,2394.2 940.8,2393.9 943.8,2393.5 946.8,2393.2 949.8,2392.8 952.8,2392.5 955.8,2392.1 958.8,2391.8 961.8,2391.4 964.8,2391.1 967.8,2390.7 970.8,2390.4 973.8,2390.0 976.8,2389.6 979.8,2389.3 982.8,2388.9 985.8,2388.6 988.8,2388.2 991.8,2387.9 994.8,2387.5 997.8,2387.1 1000.8,2386.8 1003.8,2386.4 1006.8,2386.1 1009.8,2385.7 1012.8,2385.3 1015.8,2385.0 1018.8,2384.6 1021.8,2384.3 1024.8,2383.9 1027.8,2383.5 1030.8,2383.2 1033.8,2382.8 1036.8,2382.5 1039.8,2382.1 1042.8,2381.7 1045.8,2381.4 1048.8,2381.0 1051.8,2380.6 1054.8,2380.3 1057.8,2379.9 1060.8,2379.6 1063.8,2379.2 1066.8,2378.8 1069.8,2378.5 1072.8,2378.1 1075.8,2377.8 1078.8,2377.4 1081.8,2377.0 1084.8,2376.7 1087.8,2376.3 1090.8,2376.0 1093.8,2375.6 1096.8,2375.2 1099.8,2374.9 1102.8,2374.5 1105.8,2374.2 1108.8,2373.8 1111.8,2373.5 1114.8,2373.1 1117.8,2372.8 1120.8,2372.4 1123.8,2372.0 1126.8,2371.7 1129.8,2371.3 1132.8,2371.0 1135.8,2370.6 1138.8,2370.3 1141.8,2369.9 1144.8,2369.6 1147.8,2369.2 1150.8,2368.9 1153.8,2368.5 1156.8,2368.2 1159.8,2367.9 1162.8,2367.5 1165.8,2367.2 1168.8,2366.8 1171.8,2366.5 1174.8,2366.1 1177.8,2365.8 1180.8,2365.5 1183.8,2365.1 1186.8,2364.8 1189.8,2364.5 1192.8,2364.1 1195.8,2363.8 1198.8,2363.5 1201.8,2363.1 1204.8,2362.8 1207.8,2362.5 1210.8,2362.1 1213.8,2361.8 1216.8,2361.5 1219.8,2361.2 1222.8,2360.8 1225.8,2360.5 1228.8,2360.2 1231.8,2359.9 1234.8,2359.6 1237.8,2359.3 1240.8,2358.9 1243.8,2358.6 1246.8,2358.3 1249.8,2358.0 1252.8,2357.7 1255.8,2357.4 1258.8,2357.1 1261.8,2356.8 1264.8,2356.5 1267.8,2356.2 1270.8,2355.9 1273.8,2355.6 1276.8,2355.3 1279.8,2355.0 1282.8,2354.7 1285.8,2354.4 1288.8,2354.1 1291.8,2353.9 1294.8,2353.6 1297.8,2353.3 1300.8,2353.0 1303.8,2352.7 1306.8,2352.5 1309.8,2352.2 1312.8,2351.9 1315.8,2351.6 1318.8,2351.4 1321.8,2351.1 1324.8,2350.8 1327.8,2350.6 1330.8,2350.3 1333.8,2350.1 1336.8,2349.8 1339.8,2349.5 1342.8,2349.3 1345.8,2349.0 1348.8,2348.8 1351.8,2348.6 1354.8,2348.3 1357.8,2348.1 1360.8,2347.8 1363.8,2347.6 1366.8,2347.3 1369.8,2347.1 1372.8,2346.9 1375.8,2346.6 1378.8,2346.4 1381.8,2346.2 1384.8,2346.0 1387.8,2345.7 1390.8,2345.5 1393.8,2345.3 1396.8,2345.1 1399.8,2344.8 1402.8,2344.6 1405.8,2344.4 1408.8,2344.2 1411.8,2344.0 1414.8,2343.8 1417.8,2343.6 1420.8,2343.4 1423.8,2343.2 1426.8,2343.0 1429.8,2342.8 1432.8,2342.6 1435.8,2342.4 1438.8,2342.2 1441.8,2342.0 1444.8,2341.8 1447.8,2341.6 1450.8,2341.4 1453.8,2341.2 1456.8,2341.0 1459.8,2340.9 1462.8,2340.7 1465.8,2340.5 1468.8,2340.3 1471.8,2340.1 1474.8,2340.0 1477.8,2339.8 1480.8,2339.6 1483.8,2339.5 1486.8,2339.3 1489.8,2339.1 1492.8,2339.0 1495.8,2338.8 1498.8,2338.6 1501.8,2338.5 1504.8,2338.3 1507.8,2338.2 1510.8,2338.0 1513.8,2337.8 1516.8,2337.7 1519.8,2337.5 1522.8,2337.4 1525.8,2337.2 1528.8,2337.1 1531.8,2336.9 1534.8,2336.8 1537.8,2336.7 1540.8,2336.5 1543.8,2336.4 1546.8,2336.2 1549.8,2336.1 1552.8,2336.0 1555.8,2335.8 1558.8,2335.7 1561.8,2335.6 1564.8,2335.4 1567.8,2335.3 1570.8,2335.2 1573.8,2335.1 1576.8,2334.9 1579.8,2334.8 1582.8,2334.7 1585.8,2334.6 1588.8,2334.5 1591.8,2334.3 1594.8,2334.2 1597.8,2334.1 1600.8,2334.0 1603.8,2333.9 1606.8,2333.8 1609.8,2333.7 1612.8,2333.6 1615.8,2333.5 1618.8,2333.3 1621.8,2333.2 1624.8,2333.1 1627.8,2333.0 1630.8,2332.9 1633.8,2332.8 1636.8,2332.7 1639.8,2332.7 1642.8,2332.6 1645.8,2332.5 1648.8,2332.4 1651.8,2332.3 1654.8,2332.2 1657.8,2332.1 1660.8,2332.0 1663.8,2331.9 1666.8,2331.8 1669.8,2331.8 1672.8,2331.7 1675.8,2331.6 1678.8,2331.5 1681.8,2331.4 1684.8,2331.4 1687.8,2331.3 1690.8,2331.2 1693.8,2331.1 1696.8,2331.1 1699.8,2331.0 1702.8,2330.9 1705.8,2330.9 1708.8,2330.8 1711.8,2330.7 1714.8,2330.7 1717.8,2330.6 1720.8,2330.5 1723.8,2330.5 1726.8,2330.4 1729.8,2330.3 1732.8,2330.3 1735.8,2330.2 1738.8,2330.2 1741.8,2330.1 1744.8,2330.0 1747.8,2330.0 1750.8,2329.9 1753.8,2329.9 1756.8,2329.8 1759.8,2329.8 1762.8,2329.7 1765.8,2329.7 1768.8,2329.6 1771.8,2329.6 1774.8,2329.5 1777.8,2329.5 1780.8,2329.5 1783.8,2329.4 1786.8,2329.4 1789.8,2329.3 1792.8,2329.3 1795.8,2329.3 1798.8,2329.2 1801.8,2329.2 1804.8,2329.1 1807.8,2329.1 1810.8,2329.1 1813.8,2329.0 1816.8,2329.0 1819.8,2329.0 1822.8,2328.9 1825.8,2328.9 1828.8,2328.9 1831.8,2328.9 1834.8,2328.8 1837.8,2328.8 1840.8,2328.8 1843.8,2328.8 1846.8,2328.7 1849.8,2328.7 1852.8,2328.7 1855.8,2328.7 1858.8,2328.6 1861.8,2328.6 1864.8,2328.6 1867.8,2328.6 1870.8,2328.6 1873.8,2328.5 1876.8,2328.5 1879.8,2328.5 1882.8,2328.5 1885.8,2328.5 1888.8,2328.5 1891.8,2328.5 1894.8,2328.4 1897.8,2328.4 1900.8,2328.4 1903.8,2328.4 1906.8,2328.4 1909.8,2328.4 1912.8,2328.4 1915.8,2328.4 1918.8,2328.4 1921.8,2328.4 1924.8,2328.4 1927.8,2328.4 1930.8,2328.4 1933.8,2328.4 1936.8,2328.4 1939.8,2328.4 1942.8,2328.3 1945.8,2328.3 1948.8,2328.3 1951.8,2328.3 1954.8,2328.3 1957.8,2328.4 1960.8,2328.4 1963.8,2328.4 1966.8,2328.4 1969.8,2328.4 1972.8,2328.4 1975.8,2328.4 1978.8,2328.4 1981.8,2328.4 1984.8,2328.4 1987.8,2328.4 1990.8,2328.4 1993.8,2328.4 1996.8,2328.4 1999.8,2328.4 2002.8,2328.4 2005.8,2328.4 2008.8,2328.5 2011.8,2328.5 2014.8,2328.5 2017.8,2328.5 2020.8,2328.5 2023.8,2328.5 2026.8,2328.5 2029.8,2328.5 2032.8,2328.6 2035.8,2328.6 2038.8,2328.6 2041.8,2328.6 2044.8,2328.6 2047.8,2328.6 2050.8,2328.6 2053.8,2328.7 2056.8,2328.7 2059.8,2328.7 2062.8,2328.7 2065.8,2328.7 2068.8,2328.8 2071.8,2328.8 2074.8,2328.8 2077.8,2328.8 2080.8,2328.8 2083.8,2328.8 2086.8,2328.9 2089.8,2328.9 2092.8,2328.9 2095.8,2328.9 2098.8,2329.0 2101.8,2329.0 2104.8,2329.0 2107.8,2329.0 2110.8,2329.0 2113.8,2329.1 2116.8,2329.1 2119.8,2329.1 2122.8,2329.1 2125.8,2329.2 2128.8,2329.2 2131.8,2329.2 2134.8,2329.2 2137.8,2329.3 2140.8,2329.3 2143.8,2329.3 2146.8,2329.3 2149.8,2329.3 2152.8,2329.4 2155.8,2329.4 2158.8,2329.4 2161.8,2329.4 2164.8,2329.5 2167.8,2329.5 2170.8,2329.5 2173.8,2329.6 2176.8,2329.6 2179.8,2329.6 2182.8,2329.6 2185.8,2329.7 2188.8,2329.7 2191.8,2329.7 2194.8,2329.7 2197.8,2329.8 2200.8,2329.8 2203.8,2329.8 2206.8,2329.8 2209.8,2329.9 2212.8,2329.9 2215.8,2329.9 2218.8,2329.9 2221.8,2330.0 2224.8,2330.0 2227.8,2330.0 2230.8,2330.1 2233.8,2330.1 2236.8,2330.1 2239.8,2330.1 2242.8,2330.2 2245.8,2330.2 2248.8,2330.2 2251.8,2330.2 2254.8,2330.3 2257.8,2330.3 2260.8,2330.3 2263.8,2330.3 2266.8,2330.4 2269.8,2330.4 2272.8,2330.4 2275.8,2330.4 2278.8,2330.5 2281.8,2330.5 2284.8,2330.5 2287.8,2330.6 2290.8,2330.6 2293.8,2330.6 2296.8,2330.6 2299.8,2330.6 2302.8,2330.7 2305.8,2330.7 2308.8,2330.7 2311.8,2330.7 2314.8,2330.8 2317.8,2330.8 2320.8,2330.8 2323.8,2330.8 2326.8,2330.9 2328.2,2330.9" stroke="#ff00ff" stroke-dasharray="17 23.13"/>
</g>
<g fill="none" stroke="#000">
<path d="M502,75H2328V3013H502ZM502,1547H2328" stroke-width="4" stroke-linejoin="miter" stroke-linecap="square"/>
</g>
<path d="M1961,2487.5H2213" stroke="#ff0000" stroke-width="9"/><path d="M1961,2631.5H2213" stroke="#0000ff" stroke-width="9"/><path d="M1961,2776H2213" stroke="#00ff00" stroke-width="9"/><path d="M1961,2920.5H2213" stroke="#ff00ff" stroke-width="9"/>
<g style="font-family:'Liberation Serif',serif" font-size="96" fill="#000">
<text x="470" y="290.5" text-anchor="end" transform="matrix(1 0 0 1.035 0 -10.17)">0.03</text>
<text x="470" y="474.5" text-anchor="end" transform="matrix(1 0 0 1.035 0 -16.61)">0.02</text>
<text x="470" y="658.5" text-anchor="end" transform="matrix(1 0 0 1.035 0 -23.05)">0.01</text>
<text x="470" y="842.5" text-anchor="end" transform="matrix(1 0 0 1.035 0 -29.49)">0</text>
<text x="470" y="1026.5" text-anchor="end" transform="matrix(1 0 0 1.035 0 -35.93)">-0.01</text>
<text x="470" y="1210.5" text-anchor="end" transform="matrix(1 0 0 1.035 0 -42.37)">-0.02</text>
<text x="470" y="1394.5" text-anchor="end" transform="matrix(1 0 0 1.035 0 -48.81)">-0.03</text>
<text x="442" y="1774.5" text-anchor="end" transform="matrix(1 0 0 1.035 0 -62.11)">0.3</text>
<text x="442" y="1969.8" text-anchor="end" transform="matrix(1 0 0 1.035 0 -68.94)">0.2</text>
<text x="442" y="2165.2" text-anchor="end" transform="matrix(1 0 0 1.035 0 -75.78)">0.1</text>
<text x="442" y="2360.5" text-anchor="end" transform="matrix(1 0 0 1.035 0 -82.62)">0</text>
<text x="442" y="2555.8" text-anchor="end" transform="matrix(1 0 0 1.035 0 -89.45)">-0.1</text>
<text x="442" y="2751.2" text-anchor="end" transform="matrix(1 0 0 1.035 0 -96.29)">-0.2</text>
<text x="442" y="2946.5" text-anchor="end" transform="matrix(1 0 0 1.035 0 -103.13)">-0.3</text>
<text x="514.2" y="3142.5" text-anchor="middle" transform="matrix(1 0 0 1.035 0 -109.99)">0</text>
<text x="818.5" y="3142.5" text-anchor="middle" transform="matrix(1 0 0 1.035 0 -109.99)">1</text>
<text x="1122.8" y="3142.5" text-anchor="middle" transform="matrix(1 0 0 1.035 0 -109.99)">2</text>
<text x="1427.0" y="3142.5" text-anchor="middle" transform="matrix(1 0 0 1.035 0 -109.99)">3</text>
<text x="1731.2" y="3142.5" text-anchor="middle" transform="matrix(1 0 0 1.035 0 -109.99)">4</text>
<text x="2035.5" y="3142.5" text-anchor="middle" transform="matrix(1 0 0 1.035 0 -109.99)">5</text>
<text transform="translate(166,813.5) rotate(-90) scale(1,1.035)" text-anchor="middle" font-size="96.8">-Π(q) 10<tspan dy="-47.3" font-size="77.4">11</tspan><tspan dy="47.3"> cm</tspan><tspan dy="-47.3" font-size="77.4">-2</tspan><tspan dy="47.3"> meV</tspan><tspan dy="-47.3" font-size="77.4">-1</tspan></text>
<text transform="translate(178,2282.5) rotate(-90) scale(1,1.035)" text-anchor="middle" font-size="96.8">-Π(q) 10<tspan dy="-47.3" font-size="77.4">11</tspan><tspan dy="47.3"> cm</tspan><tspan dy="-47.3" font-size="77.4">-2</tspan><tspan dy="47.3"> meV</tspan><tspan dy="-47.3" font-size="77.4">-1</tspan></text>
<text x="1415.5" y="3248" text-anchor="middle" transform="matrix(1 0 0 1.035 0 -113.68)">q/k<tspan dy="28.7" font-size="76.8">F</tspan></text>
<text x="806" y="190" transform="matrix(1 0 0 1.035 0 -6.65)">Π<tspan dx="5" dy="27" font-size="76.8">e,h</tspan></text>
<text x="806" y="1476.7" transform="matrix(1 0 0 1.035 0 -51.68)">Π<tspan dx="5" dy="27" font-size="76.8">a</tspan></text>
<text x="1110" y="1725.8" transform="matrix(1 0 0 1.035 0 -60.40)">Π<tspan dx="5" dy="27" font-size="76.8">e,h</tspan></text>
<text x="806" y="2841" transform="matrix(1 0 0 1.035 0 -99.43)">Π<tspan dx="5" dy="27" font-size="76.8">a</tspan></text>
<text x="1899" y="2508.5" text-anchor="end" transform="matrix(1 0 0 1.035 0 -87.80)">m<tspan dy="28" font-size="76.8">h</tspan><tspan dy="-28">/m</tspan><tspan dy="28" font-size="76.8">e</tspan><tspan dy="-28">=1</tspan></text><text x="1900.5" y="2662.5" text-anchor="end" transform="matrix(1 0 0 1.035 0 -93.19)">0.5</text><text x="1900.5" y="2807.0" text-anchor="end" transform="matrix(1 0 0 1.035 0 -98.24)">0.25</text><text x="1900.5" y="2951.5" text-anchor="end" transform="matrix(1 0 0 1.035 0 -103.30)">0.1</text>
<g font-weight="bold">
<text x="1720" y="198" transform="matrix(1 0 0 1.035 0 -6.93)">BEC</text>
<text x="2176" y="198" transform="matrix(1 0 0 1.035 0 -6.93)">(a)</text>
<text x="1475" y="1677" transform="matrix(1 0 0 1.035 0 -58.69)">CROSSOVER</text>
<text x="2177" y="1677" transform="matrix(1 0 0 1.035 0 -58.69)">(b)</text>
</g>
</g>
</svg>
</body></html>
